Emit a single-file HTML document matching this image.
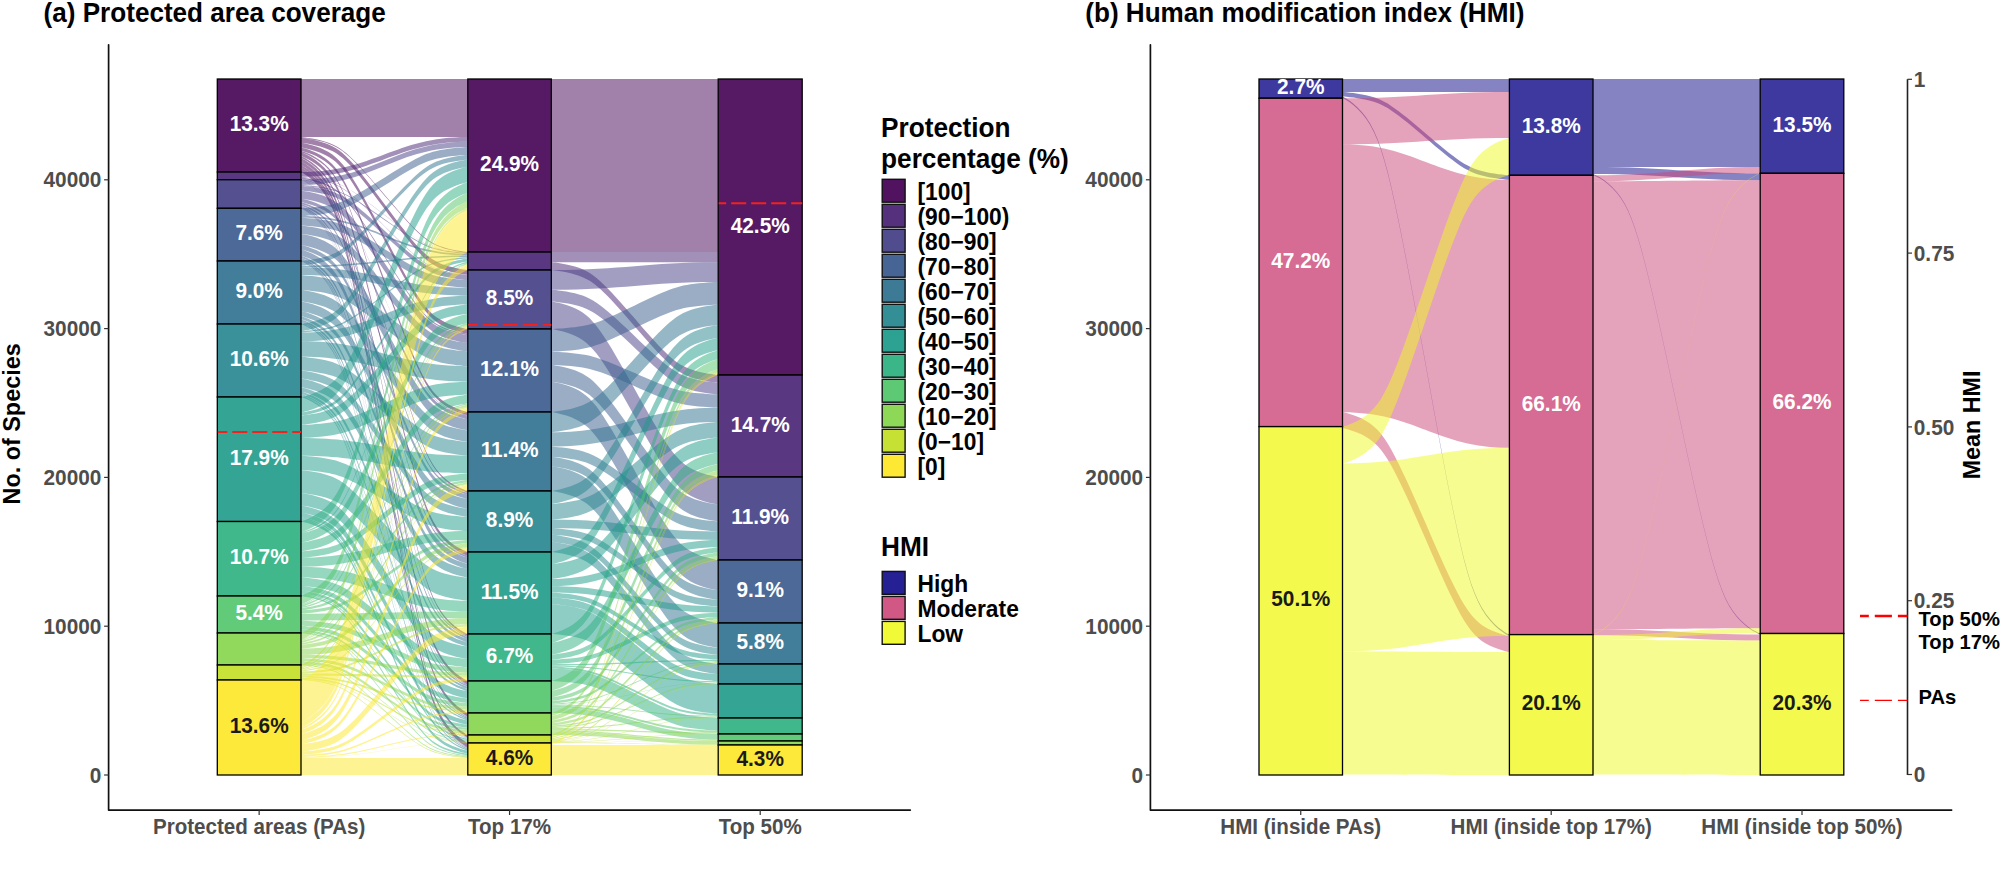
<!DOCTYPE html>
<html><head><meta charset="utf-8"><style>html,body{margin:0;padding:0;background:#fff;width:2000px;height:871px;overflow:hidden}</style></head>
<body>
<svg width="2000" height="871" viewBox="0 0 2000 871" style="display:block;font-family:'Liberation Sans', sans-serif">
<rect width="2000" height="871" fill="#fff"/>
<path d="M301.0,79.00C374.4,79.00 394.4,79.00 467.8,79.00L467.8,137.00C394.4,137.00 374.4,137.00 301.0,137.00Z" fill="#440154" fill-opacity="0.5"/>
<path d="M301.0,137.0 301.1,137.0 301.6,137.1 302.9,137.2 305.1,137.5 308.2,137.9 312.0,138.5 316.1,139.3 320.4,140.3 324.6,141.4 328.5,142.8 332.3,144.3 335.9,146.0 339.3,148.1 342.7,150.4 346.1,153.1 349.6,156.2 353.3,159.7 357.2,163.6 361.2,167.9 365.5,172.7 370.0,177.8 374.7,183.2 379.5,188.8 384.4,194.5 389.3,200.2 394.1,205.8 398.8,211.2 403.3,216.3 407.6,221.1 411.6,225.4 415.5,229.3 419.2,232.8 422.7,235.9 426.1,238.6 429.5,240.9 432.9,243.0 436.5,244.7 440.3,246.2 444.2,247.6 448.4,248.7 452.7,249.7 456.8,250.5 460.6,251.1 463.7,251.5 465.9,251.8 467.2,251.9 467.7,252.0 467.8,252.0 467.8,252.9 467.7,252.9 467.2,252.8 465.9,252.7 463.7,252.4 460.6,252.0 456.8,251.4 452.7,250.6 448.4,249.6 444.2,248.4 440.3,247.1 436.5,245.6 432.9,243.8 429.5,241.8 426.1,239.5 422.7,236.8 419.2,233.7 415.5,230.2 411.6,226.3 407.6,222.0 403.3,217.2 398.8,212.1 394.1,206.7 389.3,201.1 384.4,195.4 379.5,189.7 374.7,184.0 370.0,178.6 365.5,173.5 361.2,168.8 357.2,164.5 353.3,160.5 349.6,157.0 346.1,154.0 342.7,151.3 339.3,148.9 335.9,146.9 332.3,145.2 328.5,143.7 324.6,142.3 320.4,141.2 316.1,140.2 312.0,139.4 308.2,138.8 305.1,138.4 302.9,138.1 301.6,137.9 301.1,137.9 301.0,137.9Z" fill="#440154" fill-opacity="0.5"/>
<path d="M301.0,137.9 301.1,137.9 301.6,137.9 302.9,138.1 305.1,138.4 308.2,138.9 312.0,139.6 316.1,140.6 320.4,141.7 324.6,143.0 328.5,144.5 332.3,146.3 335.9,148.3 339.3,150.6 342.7,153.3 346.1,156.4 349.6,159.9 353.3,163.9 357.2,168.4 361.2,173.4 365.5,178.9 370.0,184.7 374.7,190.9 379.5,197.4 384.4,203.9 389.3,210.5 394.1,217.0 398.8,223.2 403.3,229.0 407.6,234.5 411.6,239.5 415.5,244.0 419.2,248.0 422.7,251.5 426.1,254.6 429.5,257.3 432.9,259.6 436.5,261.6 440.3,263.4 444.2,264.9 448.4,266.2 452.7,267.3 456.8,268.2 460.6,269.0 463.7,269.5 465.9,269.8 467.2,269.9 467.7,270.0 467.8,270.0 467.8,274.9 467.7,274.9 467.2,274.8 465.9,274.6 463.7,274.3 460.6,273.8 456.8,273.1 452.7,272.2 448.4,271.1 444.2,269.8 440.3,268.2 436.5,266.5 432.9,264.5 429.5,262.2 426.1,259.5 422.7,256.4 419.2,252.8 415.5,248.8 411.6,244.3 407.6,239.3 403.3,233.9 398.8,228.0 394.1,221.8 389.3,215.4 384.4,208.8 379.5,202.2 374.7,195.8 370.0,189.6 365.5,183.7 361.2,178.3 357.2,173.3 353.3,168.8 349.6,164.8 346.1,161.2 342.7,158.1 339.3,155.5 335.9,153.1 332.3,151.1 328.5,149.4 324.6,147.9 320.4,146.5 316.1,145.4 312.0,144.5 308.2,143.8 305.1,143.3 302.9,143.0 301.6,142.8 301.1,142.8 301.0,142.8Z" fill="#440154" fill-opacity="0.5"/>
<path d="M301.0,142.8 301.1,142.8 301.6,142.8 302.9,143.1 305.1,143.5 308.2,144.2 312.0,145.2 316.1,146.5 320.4,148.1 324.6,150.0 328.5,152.1 332.3,154.6 335.9,157.4 339.3,160.7 342.7,164.4 346.1,168.8 349.6,173.8 353.3,179.5 357.2,185.8 361.2,192.8 365.5,200.5 370.0,208.8 374.7,217.5 379.5,226.6 384.4,235.9 389.3,245.1 394.1,254.2 398.8,263.0 403.3,271.2 407.6,278.9 411.6,286.0 415.5,292.3 419.2,298.0 422.7,303.0 426.1,307.3 429.5,311.1 432.9,314.4 436.5,317.2 440.3,319.6 444.2,321.8 448.4,323.7 452.7,325.2 456.8,326.5 460.6,327.5 463.7,328.2 465.9,328.7 467.2,328.9 467.7,329.0 467.8,329.0 467.8,333.7 467.7,333.7 467.2,333.6 465.9,333.4 463.7,332.9 460.6,332.2 456.8,331.2 452.7,329.9 448.4,328.4 444.2,326.5 440.3,324.4 436.5,321.9 432.9,319.1 429.5,315.8 426.1,312.0 422.7,307.7 419.2,302.7 415.5,297.0 411.6,290.7 407.6,283.6 403.3,276.0 398.8,267.7 394.1,259.0 389.3,249.9 384.4,240.6 379.5,231.3 374.7,222.2 370.0,213.5 365.5,205.2 361.2,197.5 357.2,190.5 353.3,184.2 349.6,178.5 346.1,173.5 342.7,169.1 339.3,165.4 335.9,162.1 332.3,159.3 328.5,156.8 324.6,154.7 320.4,152.8 316.1,151.2 312.0,149.9 308.2,148.9 305.1,148.2 302.9,147.8 301.6,147.6 301.1,147.5 301.0,147.5Z" fill="#440154" fill-opacity="0.5"/>
<path d="M301.0,147.5 301.1,147.5 301.6,147.6 302.9,147.9 305.1,148.6 308.2,149.6 312.0,151.0 316.1,152.8 320.4,155.1 324.6,157.7 328.5,160.8 332.3,164.2 335.9,168.3 339.3,172.9 342.7,178.3 346.1,184.4 349.6,191.6 353.3,199.6 357.2,208.6 361.2,218.6 365.5,229.5 370.0,241.2 374.7,253.7 379.5,266.6 384.4,279.7 389.3,292.9 394.1,305.8 398.8,318.2 403.3,330.0 407.6,340.9 411.6,350.9 415.5,359.9 419.2,367.9 422.7,375.0 426.1,381.2 429.5,386.6 432.9,391.2 436.5,395.2 440.3,398.7 444.2,401.8 448.4,404.4 452.7,406.6 456.8,408.5 460.6,409.9 463.7,410.9 465.9,411.5 467.2,411.9 467.7,412.0 467.8,412.0 467.8,415.3 467.7,415.3 467.2,415.2 465.9,414.8 463.7,414.2 460.6,413.2 456.8,411.8 452.7,409.9 448.4,407.7 444.2,405.1 440.3,402.0 436.5,398.5 432.9,394.5 429.5,389.9 426.1,384.5 422.7,378.3 419.2,371.2 415.5,363.2 411.6,354.2 407.6,344.2 403.3,333.3 398.8,321.5 394.1,309.1 389.3,296.2 384.4,283.0 379.5,269.9 374.7,257.0 370.0,244.5 365.5,232.8 361.2,221.9 357.2,211.9 353.3,202.9 349.6,194.9 346.1,187.7 342.7,181.6 339.3,176.2 335.9,171.6 332.3,167.5 328.5,164.0 324.6,161.0 320.4,158.4 316.1,156.1 312.0,154.3 308.2,152.9 305.1,151.9 302.9,151.2 301.6,150.9 301.1,150.8 301.0,150.8Z" fill="#440154" fill-opacity="0.5"/>
<path d="M301.0,150.8 301.1,150.8 301.6,150.9 302.9,151.4 305.1,152.2 308.2,153.5 312.0,155.3 316.1,157.7 320.4,160.5 324.6,163.9 328.5,167.8 332.3,172.3 335.9,177.5 339.3,183.5 342.7,190.4 346.1,198.3 349.6,207.5 353.3,217.8 357.2,229.4 361.2,242.2 365.5,256.3 370.0,271.4 374.7,287.3 379.5,303.9 384.4,320.9 389.3,337.8 394.1,354.4 398.8,370.4 403.3,385.5 407.6,399.5 411.6,412.4 415.5,423.9 419.2,434.3 422.7,443.4 426.1,451.4 429.5,458.3 432.9,464.2 436.5,469.4 440.3,473.9 444.2,477.8 448.4,481.2 452.7,484.1 456.8,486.5 460.6,488.3 463.7,489.6 465.9,490.4 467.2,490.8 467.7,491.0 467.8,491.0 467.8,492.7 467.7,492.6 467.2,492.5 465.9,492.1 463.7,491.2 460.6,489.9 456.8,488.1 452.7,485.8 448.4,482.9 444.2,479.5 440.3,475.6 436.5,471.1 432.9,465.9 429.5,459.9 426.1,453.1 422.7,445.1 419.2,435.9 415.5,425.6 411.6,414.0 407.6,401.2 403.3,387.2 398.8,372.1 394.1,356.1 389.3,339.5 384.4,322.5 379.5,305.6 374.7,289.0 370.0,273.0 365.5,257.9 361.2,243.9 357.2,231.1 353.3,219.5 349.6,209.1 346.1,200.0 342.7,192.0 339.3,185.1 335.9,179.2 332.3,174.0 328.5,169.5 324.6,165.6 320.4,162.2 316.1,159.3 312.0,156.9 308.2,155.1 305.1,153.8 302.9,153.0 301.6,152.6 301.1,152.4 301.0,152.4Z" fill="#440154" fill-opacity="0.5"/>
<path d="M301.0,152.4 301.1,152.4 301.6,152.6 302.9,153.1 305.1,154.1 308.2,155.6 312.0,157.7 316.1,160.5 320.4,163.9 324.6,167.9 328.5,172.5 332.3,177.8 335.9,183.8 339.3,190.8 342.7,198.9 346.1,208.3 349.6,219.0 353.3,231.2 357.2,244.8 361.2,259.8 365.5,276.3 370.0,294.1 374.7,312.8 379.5,332.3 384.4,352.2 389.3,372.1 394.1,391.6 398.8,410.4 403.3,428.1 407.6,444.6 411.6,459.6 415.5,473.2 419.2,485.4 422.7,496.1 426.1,505.5 429.5,513.6 432.9,520.6 436.5,526.7 440.3,531.9 444.2,536.5 448.4,540.5 452.7,543.9 456.8,546.7 460.6,548.8 463.7,550.3 465.9,551.3 467.2,551.8 467.7,552.0 467.8,552.0 467.8,555.7 467.7,555.7 467.2,555.5 465.9,555.0 463.7,554.1 460.6,552.6 456.8,550.4 452.7,547.6 448.4,544.3 444.2,540.3 440.3,535.7 436.5,530.4 432.9,524.3 429.5,517.3 426.1,509.2 422.7,499.9 419.2,489.1 415.5,477.0 411.6,463.4 407.6,448.3 403.3,431.8 398.8,414.1 394.1,395.3 389.3,375.8 384.4,355.9 379.5,336.0 374.7,316.5 370.0,297.8 365.5,280.0 361.2,263.6 357.2,248.5 353.3,234.9 349.6,222.7 346.1,212.0 342.7,202.6 339.3,194.6 335.9,187.6 332.3,181.5 328.5,176.2 324.6,171.6 320.4,167.6 316.1,164.2 312.0,161.5 308.2,159.3 305.1,157.8 302.9,156.8 301.6,156.3 301.1,156.2 301.0,156.1Z" fill="#440154" fill-opacity="0.5"/>
<path d="M301.0,156.1 301.1,156.2 301.6,156.4 302.9,157.0 305.1,158.1 308.2,159.9 312.0,162.5 316.1,165.8 320.4,169.9 324.6,174.6 328.5,180.1 332.3,186.5 335.9,193.7 339.3,202.1 342.7,211.8 346.1,222.9 349.6,235.8 353.3,250.3 357.2,266.6 361.2,284.6 365.5,304.3 370.0,325.5 374.7,348.0 379.5,371.3 384.4,395.1 389.3,418.9 394.1,442.2 398.8,464.6 403.3,485.8 407.6,505.5 411.6,523.5 415.5,539.8 419.2,554.4 422.7,567.2 426.1,578.4 429.5,588.1 432.9,596.4 436.5,603.7 440.3,610.0 444.2,615.5 448.4,620.3 452.7,624.3 456.8,627.6 460.6,630.2 463.7,632.0 465.9,633.2 467.2,633.8 467.7,634.0 467.8,634.0 467.8,635.9 467.7,635.8 467.2,635.6 465.9,635.0 463.7,633.9 460.6,632.1 456.8,629.5 452.7,626.2 448.4,622.1 444.2,617.4 440.3,611.9 436.5,605.5 432.9,598.3 429.5,589.9 426.1,580.2 422.7,569.1 419.2,556.2 415.5,541.7 411.6,525.4 407.6,507.4 403.3,487.7 398.8,466.5 394.1,444.0 389.3,420.7 384.4,396.9 379.5,373.1 374.7,349.8 370.0,327.4 365.5,306.2 361.2,286.5 357.2,268.5 353.3,252.2 349.6,237.6 346.1,224.8 342.7,213.6 339.3,203.9 335.9,195.6 332.3,188.3 328.5,182.0 324.6,176.5 320.4,171.7 316.1,167.7 312.0,164.4 308.2,161.8 305.1,160.0 302.9,158.8 301.6,158.2 301.1,158.0 301.0,158.0Z" fill="#440154" fill-opacity="0.5"/>
<path d="M301.0,158.0 301.1,158.0 301.6,158.3 302.9,158.9 305.1,160.2 308.2,162.2 312.0,165.0 316.1,168.6 320.4,173.0 324.6,178.2 328.5,184.3 332.3,191.2 335.9,199.1 339.3,208.3 342.7,218.9 346.1,231.1 349.6,245.2 353.3,261.1 357.2,278.9 361.2,298.6 365.5,320.2 370.0,343.4 374.7,367.9 379.5,393.5 384.4,419.5 389.3,445.5 394.1,471.1 398.8,495.6 403.3,518.8 407.6,540.4 411.6,560.1 415.5,577.9 419.2,593.8 422.7,607.9 426.1,620.1 429.5,630.7 432.9,639.9 436.5,647.8 440.3,654.7 444.2,660.8 448.4,666.0 452.7,670.4 456.8,674.0 460.6,676.8 463.7,678.8 465.9,680.1 467.2,680.7 467.7,681.0 467.8,681.0 467.8,684.5 467.7,684.5 467.2,684.2 465.9,683.6 463.7,682.3 460.6,680.3 456.8,677.5 452.7,673.9 448.4,669.5 444.2,664.3 440.3,658.2 436.5,651.3 432.9,643.4 429.5,634.2 426.1,623.6 422.7,611.4 419.2,597.3 415.5,581.4 411.6,563.6 407.6,543.9 403.3,522.3 398.8,499.1 394.1,474.6 389.3,449.0 384.4,423.0 379.5,397.0 374.7,371.4 370.0,346.9 365.5,323.7 361.2,302.1 357.2,282.4 353.3,264.6 349.6,248.7 346.1,234.6 342.7,222.4 339.3,211.8 335.9,202.6 332.3,194.7 328.5,187.8 324.6,181.7 320.4,176.5 316.1,172.1 312.0,168.5 308.2,165.7 305.1,163.7 302.9,162.4 301.6,161.8 301.1,161.5 301.0,161.5Z" fill="#440154" fill-opacity="0.5"/>
<path d="M301.0,161.5 301.1,161.5 301.6,161.8 302.9,162.5 305.1,163.8 308.2,165.9 312.0,168.8 316.1,172.7 320.4,177.3 324.6,182.8 328.5,189.2 332.3,196.5 335.9,204.9 339.3,214.5 342.7,225.7 346.1,238.6 349.6,253.4 353.3,270.2 357.2,289.0 361.2,309.8 365.5,332.5 370.0,357.0 374.7,382.9 379.5,409.8 384.4,437.2 389.3,464.7 394.1,491.6 398.8,517.5 403.3,542.0 407.6,564.7 411.6,585.5 415.5,604.3 419.2,621.1 422.7,635.9 426.1,648.8 429.5,660.0 432.9,669.6 436.5,678.0 440.3,685.3 444.2,691.7 448.4,697.2 452.7,701.8 456.8,705.7 460.6,708.6 463.7,710.7 465.9,712.0 467.2,712.7 467.7,713.0 467.8,713.0 467.8,716.5 467.7,716.5 467.2,716.2 465.9,715.5 463.7,714.2 460.6,712.1 456.8,709.2 452.7,705.3 448.4,700.7 444.2,695.2 440.3,688.8 436.5,681.5 432.9,673.1 429.5,663.5 426.1,652.3 422.7,639.4 419.2,624.6 415.5,607.8 411.6,589.0 407.6,568.2 403.3,545.5 398.8,521.0 394.1,495.1 389.3,468.2 384.4,440.8 379.5,413.3 374.7,386.4 370.0,360.5 365.5,336.0 361.2,313.3 357.2,292.5 353.3,273.7 349.6,256.9 346.1,242.1 342.7,229.2 339.3,218.0 335.9,208.4 332.3,200.0 328.5,192.7 324.6,186.3 320.4,180.8 316.1,176.2 312.0,172.3 308.2,169.4 305.1,167.3 302.9,166.0 301.6,165.3 301.1,165.0 301.0,165.0Z" fill="#440154" fill-opacity="0.5"/>
<path d="M301.0,165.0 301.1,165.0 301.6,165.3 302.9,166.0 305.1,167.4 308.2,169.5 312.0,172.6 316.1,176.5 320.4,181.4 324.6,187.1 328.5,193.6 332.3,201.2 335.9,209.8 339.3,219.8 342.7,231.3 346.1,244.7 349.6,260.0 353.3,277.3 357.2,296.7 361.2,318.2 365.5,341.7 370.0,367.0 374.7,393.8 379.5,421.6 384.4,450.0 389.3,478.4 394.1,506.2 398.8,533.0 403.3,558.3 407.6,581.8 411.6,603.3 415.5,622.7 419.2,640.0 422.7,655.3 426.1,668.7 429.5,680.2 432.9,690.2 436.5,698.8 440.3,706.4 444.2,712.9 448.4,718.6 452.7,723.5 456.8,727.4 460.6,730.5 463.7,732.6 465.9,734.0 467.2,734.7 467.7,735.0 467.8,735.0 467.8,737.5 467.7,737.5 467.2,737.2 465.9,736.5 463.7,735.1 460.6,733.0 456.8,729.9 452.7,726.0 448.4,721.1 444.2,715.4 440.3,708.9 436.5,701.3 432.9,692.7 429.5,682.7 426.1,671.2 422.7,657.8 419.2,642.5 415.5,625.2 411.6,605.8 407.6,584.3 403.3,560.8 398.8,535.5 394.1,508.7 389.3,480.9 384.4,452.5 379.5,424.1 374.7,396.3 370.0,369.5 365.5,344.2 361.2,320.7 357.2,299.2 353.3,279.8 349.6,262.5 346.1,247.2 342.7,233.8 339.3,222.3 335.9,212.3 332.3,203.7 328.5,196.1 324.6,189.6 320.4,183.9 316.1,179.0 312.0,175.1 308.2,172.0 305.1,169.9 302.9,168.5 301.6,167.8 301.1,167.5 301.0,167.5Z" fill="#440154" fill-opacity="0.5"/>
<path d="M301.0,167.5 301.1,167.5 301.6,167.8 302.9,168.5 305.1,169.9 308.2,172.1 312.0,175.2 316.1,179.2 320.4,184.0 324.6,189.8 328.5,196.4 332.3,204.0 335.9,212.7 339.3,222.8 342.7,234.5 346.1,247.9 349.6,263.4 353.3,280.9 357.2,300.5 361.2,322.2 365.5,346.0 370.0,371.5 374.7,398.5 379.5,426.6 384.4,455.2 389.3,483.9 394.1,512.0 398.8,539.0 403.3,564.5 407.6,588.3 411.6,610.0 415.5,629.6 419.2,647.1 422.7,662.6 426.1,676.0 429.5,687.7 432.9,697.8 436.5,706.5 440.3,714.1 444.2,720.7 448.4,726.5 452.7,731.3 456.8,735.3 460.6,738.4 463.7,740.6 465.9,742.0 467.2,742.7 467.7,743.0 467.8,743.0 467.8,747.5 467.7,747.5 467.2,747.2 465.9,746.5 463.7,745.1 460.6,742.9 456.8,739.8 452.7,735.8 448.4,731.0 444.2,725.2 440.3,718.6 436.5,711.0 432.9,702.3 429.5,692.2 426.1,680.5 422.7,667.1 419.2,651.6 415.5,634.1 411.6,614.5 407.6,592.8 403.3,569.0 398.8,543.5 394.1,516.5 389.3,488.4 384.4,459.8 379.5,431.1 374.7,403.0 370.0,376.0 365.5,350.5 361.2,326.7 357.2,305.0 353.3,285.4 349.6,267.9 346.1,252.4 342.7,239.0 339.3,227.3 335.9,217.2 332.3,208.5 328.5,200.9 324.6,194.3 320.4,188.5 316.1,183.7 312.0,179.7 308.2,176.6 305.1,174.4 302.9,173.0 301.6,172.3 301.1,172.0 301.0,172.0Z" fill="#440154" fill-opacity="0.5"/>
<path d="M301.0,172.00C374.4,172.00 394.4,137.00 467.8,137.00L467.8,141.75C394.4,141.75 374.4,176.75 301.0,176.75Z" fill="#482173" fill-opacity="0.5"/>
<path d="M301.0,176.8 301.1,176.8 301.6,176.8 302.9,176.9 305.1,177.1 308.2,177.4 312.0,177.8 316.1,178.3 320.4,178.9 324.6,179.7 328.5,180.6 332.3,181.6 335.9,182.7 339.3,184.1 342.7,185.6 346.1,187.4 349.6,189.4 353.3,191.8 357.2,194.3 361.2,197.2 365.5,200.4 370.0,203.7 374.7,207.3 379.5,211.0 384.4,214.8 389.3,218.6 394.1,222.3 398.8,225.9 403.3,229.3 407.6,232.4 411.6,235.3 415.5,237.9 419.2,240.2 422.7,242.2 426.1,244.0 429.5,245.6 432.9,246.9 436.5,248.1 440.3,249.1 444.2,249.9 448.4,250.7 452.7,251.3 456.8,251.9 460.6,252.3 463.7,252.6 465.9,252.8 467.2,252.8 467.7,252.9 467.8,252.9 467.8,253.0 467.7,253.0 467.2,253.0 465.9,252.9 463.7,252.7 460.6,252.4 456.8,252.0 452.7,251.5 448.4,250.9 444.2,250.1 440.3,249.2 436.5,248.2 432.9,247.1 429.5,245.7 426.1,244.2 422.7,242.4 419.2,240.4 415.5,238.0 411.6,235.4 407.6,232.6 403.3,229.4 398.8,226.1 394.1,222.5 389.3,218.8 384.4,215.0 379.5,211.2 374.7,207.5 370.0,203.9 365.5,200.5 361.2,197.4 357.2,194.5 353.3,191.9 349.6,189.6 346.1,187.6 342.7,185.8 339.3,184.2 335.9,182.9 332.3,181.7 328.5,180.7 324.6,179.9 320.4,179.1 316.1,178.5 312.0,177.9 308.2,177.5 305.1,177.2 302.9,177.0 301.6,176.9 301.1,176.9 301.0,176.9Z" fill="#482173" fill-opacity="0.5"/>
<path d="M301.0,176.9 301.1,176.9 301.6,177.0 302.9,177.1 305.1,177.3 308.2,177.7 312.0,178.2 316.1,178.9 320.4,179.7 324.6,180.7 328.5,181.8 332.3,183.1 335.9,184.6 339.3,186.3 342.7,188.3 346.1,190.6 349.6,193.2 353.3,196.2 357.2,199.6 361.2,203.2 365.5,207.3 370.0,211.6 374.7,216.2 379.5,221.0 384.4,225.9 389.3,230.8 394.1,235.5 398.8,240.1 403.3,244.5 407.6,248.5 411.6,252.2 415.5,255.6 419.2,258.5 422.7,261.2 426.1,263.5 429.5,265.5 432.9,267.2 436.5,268.7 440.3,269.9 444.2,271.1 448.4,272.1 452.7,272.9 456.8,273.6 460.6,274.1 463.7,274.5 465.9,274.7 467.2,274.8 467.7,274.9 467.8,274.9 467.8,275.3 467.7,275.3 467.2,275.2 465.9,275.1 463.7,274.9 460.6,274.5 456.8,274.0 452.7,273.3 448.4,272.5 444.2,271.5 440.3,270.4 436.5,269.1 432.9,267.6 429.5,265.9 426.1,263.9 422.7,261.6 419.2,259.0 415.5,256.0 411.6,252.6 407.6,248.9 403.3,244.9 398.8,240.6 394.1,236.0 389.3,231.2 384.4,226.3 379.5,221.4 374.7,216.6 370.0,212.0 365.5,207.7 361.2,203.7 357.2,200.0 353.3,196.6 349.6,193.6 346.1,191.0 342.7,188.7 339.3,186.7 335.9,185.0 332.3,183.5 328.5,182.2 324.6,181.1 320.4,180.1 316.1,179.3 312.0,178.6 308.2,178.1 305.1,177.7 302.9,177.5 301.6,177.4 301.1,177.3 301.0,177.3Z" fill="#482173" fill-opacity="0.5"/>
<path d="M301.0,177.3 301.1,177.3 301.6,177.4 302.9,177.6 305.1,178.0 308.2,178.6 312.0,179.4 316.1,180.5 320.4,181.8 324.6,183.4 328.5,185.2 332.3,187.2 335.9,189.6 339.3,192.4 342.7,195.5 346.1,199.2 349.6,203.4 353.3,208.1 357.2,213.5 361.2,219.4 365.5,225.8 370.0,232.8 374.7,240.1 379.5,247.7 384.4,255.5 389.3,263.3 394.1,270.9 398.8,278.3 403.3,285.2 407.6,291.7 411.6,297.6 415.5,302.9 419.2,307.7 422.7,311.9 426.1,315.5 429.5,318.7 432.9,321.4 436.5,323.8 440.3,325.9 444.2,327.7 448.4,329.2 452.7,330.6 456.8,331.6 460.6,332.5 463.7,333.1 465.9,333.4 467.2,333.6 467.7,333.7 467.8,333.7 467.8,335.0 467.7,335.0 467.2,334.9 465.9,334.7 463.7,334.3 460.6,333.8 456.8,332.9 452.7,331.8 448.4,330.5 444.2,328.9 440.3,327.1 436.5,325.1 432.9,322.7 429.5,320.0 426.1,316.8 422.7,313.1 419.2,308.9 415.5,304.2 411.6,298.8 407.6,292.9 403.3,286.5 398.8,279.6 394.1,272.2 389.3,264.6 384.4,256.8 379.5,249.0 374.7,241.4 370.0,234.0 365.5,227.1 361.2,220.6 357.2,214.7 353.3,209.4 349.6,204.7 346.1,200.5 342.7,196.8 339.3,193.6 335.9,190.9 332.3,188.5 328.5,186.5 324.6,184.6 320.4,183.1 316.1,181.8 312.0,180.7 308.2,179.8 305.1,179.2 302.9,178.9 301.6,178.7 301.1,178.6 301.0,178.6Z" fill="#482173" fill-opacity="0.5"/>
<path d="M301.0,178.6 301.1,178.6 301.6,178.7 302.9,179.0 305.1,179.6 308.2,180.5 312.0,181.7 316.1,183.4 320.4,185.4 324.6,187.8 328.5,190.5 332.3,193.6 335.9,197.2 339.3,201.4 342.7,206.1 346.1,211.7 349.6,218.0 353.3,225.2 357.2,233.3 361.2,242.2 365.5,252.0 370.0,262.5 374.7,273.6 379.5,285.2 384.4,296.9 389.3,308.7 394.1,320.3 398.8,331.4 403.3,341.9 407.6,351.7 411.6,360.6 415.5,368.6 419.2,375.8 422.7,382.2 426.1,387.8 429.5,392.5 432.9,396.7 436.5,400.3 440.3,403.4 444.2,406.1 448.4,408.5 452.7,410.5 456.8,412.1 460.6,413.4 463.7,414.3 465.9,414.9 467.2,415.2 467.7,415.3 467.8,415.3 467.8,415.7 467.7,415.7 467.2,415.6 465.9,415.3 463.7,414.7 460.6,413.8 456.8,412.6 452.7,410.9 448.4,408.9 444.2,406.5 440.3,403.8 436.5,400.7 432.9,397.1 429.5,392.9 426.1,388.2 422.7,382.6 419.2,376.3 415.5,369.1 411.6,361.0 407.6,352.1 403.3,342.3 398.8,331.8 394.1,320.7 389.3,309.1 384.4,297.4 379.5,285.6 374.7,274.0 370.0,262.9 365.5,252.4 361.2,242.6 357.2,233.7 353.3,225.7 349.6,218.5 346.1,212.1 342.7,206.5 339.3,201.8 335.9,197.6 332.3,194.0 328.5,190.9 324.6,188.2 320.4,185.8 316.1,183.8 312.0,182.2 308.2,180.9 305.1,180.0 302.9,179.4 301.6,179.1 301.1,179.0 301.0,179.0Z" fill="#482173" fill-opacity="0.5"/>
<path d="M301.0,179.0 301.1,179.0 301.6,179.2 302.9,179.6 305.1,180.3 308.2,181.5 312.0,183.2 316.1,185.4 320.4,188.0 324.6,191.1 328.5,194.8 332.3,198.9 335.9,203.7 339.3,209.2 342.7,215.5 346.1,222.8 349.6,231.3 353.3,240.8 357.2,251.5 361.2,263.3 365.5,276.3 370.0,290.2 374.7,304.9 379.5,320.2 384.4,335.8 389.3,351.4 394.1,366.7 398.8,381.5 403.3,395.4 407.6,408.3 411.6,420.2 415.5,430.8 419.2,440.4 422.7,448.8 426.1,456.2 429.5,462.5 432.9,468.0 436.5,472.8 440.3,476.9 444.2,480.5 448.4,483.6 452.7,486.3 456.8,488.5 460.6,490.2 463.7,491.4 465.9,492.1 467.2,492.5 467.7,492.6 467.8,492.7 467.8,492.9 467.7,492.9 467.2,492.7 465.9,492.3 463.7,491.6 460.6,490.4 456.8,488.7 452.7,486.5 448.4,483.9 444.2,480.7 440.3,477.1 436.5,473.0 432.9,468.2 429.5,462.7 426.1,456.4 422.7,449.0 419.2,440.6 415.5,431.1 411.6,420.4 407.6,408.5 403.3,395.6 398.8,381.7 394.1,367.0 389.3,351.7 384.4,336.1 379.5,320.4 374.7,305.1 370.0,290.4 365.5,276.5 361.2,263.6 357.2,251.7 353.3,241.0 349.6,231.5 346.1,223.1 342.7,215.7 339.3,209.4 335.9,203.9 332.3,199.1 328.5,195.0 324.6,191.4 320.4,188.2 316.1,185.6 312.0,183.4 308.2,181.7 305.1,180.5 302.9,179.8 301.6,179.4 301.1,179.2 301.0,179.2Z" fill="#482173" fill-opacity="0.5"/>
<path d="M301.0,179.2 301.1,179.3 301.6,179.4 302.9,179.9 305.1,180.8 308.2,182.2 312.0,184.2 316.1,186.9 320.4,190.0 324.6,193.8 328.5,198.1 332.3,203.1 335.9,208.8 339.3,215.4 342.7,223.0 346.1,231.9 349.6,242.0 353.3,253.4 357.2,266.3 361.2,280.5 365.5,296.0 370.0,312.7 374.7,330.4 379.5,348.7 384.4,367.5 389.3,386.2 394.1,404.6 398.8,422.3 403.3,439.0 407.6,454.5 411.6,468.7 415.5,481.5 419.2,493.0 422.7,503.1 426.1,511.9 429.5,519.5 432.9,526.1 436.5,531.8 440.3,536.8 444.2,541.2 448.4,544.9 452.7,548.1 456.8,550.7 460.6,552.7 463.7,554.2 465.9,555.1 467.2,555.5 467.7,555.7 467.8,555.7 467.8,555.9 467.7,555.9 467.2,555.8 465.9,555.3 463.7,554.4 460.6,553.0 456.8,550.9 452.7,548.3 448.4,545.1 444.2,541.4 440.3,537.0 436.5,532.1 432.9,526.3 429.5,519.7 426.1,512.1 422.7,503.3 419.2,493.2 415.5,481.7 411.6,468.9 407.6,454.7 403.3,439.2 398.8,422.5 394.1,404.8 389.3,386.4 384.4,367.7 379.5,349.0 374.7,330.6 370.0,312.9 365.5,296.2 361.2,280.7 357.2,266.5 353.3,253.6 349.6,242.2 346.1,232.1 342.7,223.3 339.3,215.6 335.9,209.0 332.3,203.3 328.5,198.3 324.6,194.0 320.4,190.3 316.1,187.1 312.0,184.5 308.2,182.4 305.1,181.0 302.9,180.1 301.6,179.6 301.1,179.5 301.0,179.4Z" fill="#482173" fill-opacity="0.5"/>
<path d="M301.0,179.4 301.1,179.5 301.6,179.7 302.9,180.2 305.1,181.3 308.2,183.1 312.0,185.5 316.1,188.7 320.4,192.5 324.6,197.1 328.5,202.4 332.3,208.4 335.9,215.3 339.3,223.3 342.7,232.6 346.1,243.2 349.6,255.5 353.3,269.4 357.2,284.9 361.2,302.2 365.5,321.0 370.0,341.2 374.7,362.7 379.5,384.9 384.4,407.6 389.3,430.4 394.1,452.6 398.8,474.1 403.3,494.3 407.6,513.1 411.6,530.4 415.5,545.9 419.2,559.8 422.7,572.1 426.1,582.7 429.5,592.0 432.9,600.0 436.5,606.9 440.3,612.9 444.2,618.2 448.4,622.7 452.7,626.6 456.8,629.8 460.6,632.2 463.7,634.0 465.9,635.1 467.2,635.6 467.7,635.8 467.8,635.9 467.8,636.0 467.7,636.0 467.2,635.8 465.9,635.2 463.7,634.1 460.6,632.4 456.8,629.9 452.7,626.8 448.4,622.9 444.2,618.3 440.3,613.1 436.5,607.0 432.9,600.1 429.5,592.1 426.1,582.9 422.7,572.2 419.2,559.9 415.5,546.0 411.6,530.5 407.6,513.3 403.3,494.5 398.8,474.2 394.1,452.8 389.3,430.5 384.4,407.8 379.5,385.1 374.7,362.8 370.0,341.4 365.5,321.1 361.2,302.3 357.2,285.1 353.3,269.5 349.6,255.7 346.1,243.4 342.7,232.7 339.3,223.5 335.9,215.5 332.3,208.5 328.5,202.5 324.6,197.2 320.4,192.7 316.1,188.8 312.0,185.7 308.2,183.2 305.1,181.5 302.9,180.4 301.6,179.8 301.1,179.6 301.0,179.6Z" fill="#482173" fill-opacity="0.5"/>
<path d="M301.0,179.6 301.1,179.6 301.6,179.8 302.9,180.5 305.1,181.7 308.2,183.6 312.0,186.3 316.1,189.8 320.4,194.1 324.6,199.1 328.5,204.9 332.3,211.6 335.9,219.3 339.3,228.1 342.7,238.3 346.1,250.2 349.6,263.7 353.3,279.1 357.2,296.3 361.2,315.3 365.5,336.2 370.0,358.6 374.7,382.3 379.5,406.9 384.4,432.0 389.3,457.2 394.1,481.8 398.8,505.5 403.3,527.9 407.6,548.7 411.6,567.8 415.5,585.0 419.2,600.3 422.7,613.9 426.1,625.7 429.5,636.0 432.9,644.8 436.5,652.5 440.3,659.1 444.2,665.0 448.4,670.0 452.7,674.3 456.8,677.8 460.6,680.5 463.7,682.4 465.9,683.6 467.2,684.2 467.7,684.5 467.8,684.5 467.8,684.6 467.7,684.5 467.2,684.3 465.9,683.7 463.7,682.5 460.6,680.6 456.8,677.8 452.7,674.3 448.4,670.1 444.2,665.0 440.3,659.2 436.5,652.5 432.9,644.9 429.5,636.0 426.1,625.8 422.7,614.0 419.2,600.4 415.5,585.1 411.6,567.9 407.6,548.8 403.3,528.0 398.8,505.6 394.1,481.9 389.3,457.2 384.4,432.1 379.5,407.0 374.7,382.3 370.0,358.6 365.5,336.2 361.2,315.4 357.2,296.4 353.3,279.2 349.6,263.8 346.1,250.2 342.7,238.4 339.3,228.2 335.9,219.3 332.3,211.7 328.5,205.0 324.6,199.2 320.4,194.1 316.1,189.9 312.0,186.4 308.2,183.7 305.1,181.7 302.9,180.5 301.6,179.9 301.1,179.7 301.0,179.7Z" fill="#482173" fill-opacity="0.5"/>
<path d="M301.0,179.7 301.1,179.7 301.6,179.9 302.9,180.6 305.1,181.9 308.2,183.9 312.0,186.8 316.1,190.5 320.4,195.1 324.6,200.4 328.5,206.6 332.3,213.7 335.9,221.9 339.3,231.3 342.7,242.1 346.1,254.7 349.6,269.1 353.3,285.5 357.2,303.7 361.2,324.0 365.5,346.1 370.0,369.9 374.7,395.2 379.5,421.4 384.4,448.1 389.3,474.8 394.1,501.0 398.8,526.2 403.3,550.0 407.6,572.2 411.6,592.4 415.5,610.7 419.2,627.0 422.7,641.5 426.1,654.0 429.5,664.9 432.9,674.3 436.5,682.4 440.3,689.5 444.2,695.7 448.4,701.1 452.7,705.6 456.8,709.4 460.6,712.2 463.7,714.3 465.9,715.6 467.2,716.2 467.7,716.5 467.8,716.5 467.8,716.5 467.7,716.5 467.2,716.3 465.9,715.6 463.7,714.3 460.6,712.3 456.8,709.4 452.7,705.7 448.4,701.1 444.2,695.8 440.3,689.6 436.5,682.5 432.9,674.3 429.5,664.9 426.1,654.1 422.7,641.5 419.2,627.1 415.5,610.7 411.6,592.4 407.6,572.2 403.3,550.1 398.8,526.2 394.1,501.0 389.3,474.8 384.4,448.1 379.5,421.4 374.7,395.2 370.0,370.0 365.5,346.1 361.2,324.0 357.2,303.8 353.3,285.5 349.6,269.2 346.1,254.7 342.7,242.2 339.3,231.3 335.9,221.9 332.3,213.7 328.5,206.6 324.6,200.4 320.4,195.1 316.1,190.6 312.0,186.8 308.2,183.9 305.1,181.9 302.9,180.6 301.6,180.0 301.1,179.7 301.0,179.7Z" fill="#482173" fill-opacity="0.5"/>
<path d="M301.0,179.7 301.1,179.7 301.6,180.0 302.9,180.7 305.1,182.0 308.2,184.1 312.0,187.1 316.1,191.0 320.4,195.7 324.6,201.3 328.5,207.7 332.3,215.1 335.9,223.5 339.3,233.3 342.7,244.6 346.1,257.7 349.6,272.6 353.3,289.6 357.2,308.6 361.2,329.7 365.5,352.7 370.0,377.4 374.7,403.6 379.5,430.8 384.4,458.6 389.3,486.4 394.1,513.6 398.8,539.8 403.3,564.5 407.6,587.5 411.6,608.6 415.5,627.6 419.2,644.5 422.7,659.5 426.1,672.6 429.5,683.9 432.9,693.6 436.5,702.1 440.3,709.5 444.2,715.9 448.4,721.5 452.7,726.2 456.8,730.1 460.6,733.1 463.7,735.2 465.9,736.5 467.2,737.2 467.7,737.5 467.8,737.5 467.8,737.5 467.7,737.5 467.2,737.2 465.9,736.5 463.7,735.2 460.6,733.1 456.8,730.1 452.7,726.2 448.4,721.5 444.2,715.9 440.3,709.5 436.5,702.1 432.9,693.7 429.5,683.9 426.1,672.6 422.7,659.5 419.2,644.5 415.5,627.6 411.6,608.6 407.6,587.5 403.3,564.5 398.8,539.8 394.1,513.6 389.3,486.4 384.4,458.6 379.5,430.8 374.7,403.6 370.0,377.4 365.5,352.7 361.2,329.7 357.2,308.6 353.3,289.6 349.6,272.7 346.1,257.7 342.7,244.6 339.3,233.3 335.9,223.5 332.3,215.1 328.5,207.7 324.6,201.3 320.4,195.7 316.1,191.0 312.0,187.1 308.2,184.1 305.1,182.0 302.9,180.7 301.6,180.0 301.1,179.7 301.0,179.7Z" fill="#482173" fill-opacity="0.5"/>
<path d="M301.0,179.7 301.1,179.7 301.6,180.0 302.9,180.7 305.1,182.0 308.2,184.2 312.0,187.2 316.1,191.2 320.4,196.0 324.6,201.7 328.5,208.2 332.3,215.7 335.9,224.3 339.3,234.3 342.7,245.8 346.1,259.1 349.6,274.3 353.3,291.6 357.2,310.9 361.2,332.4 365.5,355.8 370.0,381.0 374.7,407.6 379.5,435.3 384.4,463.6 389.3,491.9 394.1,519.6 398.8,546.2 403.3,571.4 407.6,594.8 411.6,616.3 415.5,635.6 419.2,652.9 422.7,668.1 426.1,681.4 429.5,692.9 432.9,702.9 436.5,711.5 440.3,719.0 444.2,725.5 448.4,731.2 452.7,736.0 456.8,739.9 460.6,743.0 463.7,745.2 465.9,746.5 467.2,747.2 467.7,747.5 467.8,747.5 467.8,747.5 467.7,747.5 467.2,747.2 465.9,746.5 463.7,745.2 460.6,743.0 456.8,740.0 452.7,736.0 448.4,731.2 444.2,725.5 440.3,719.0 436.5,711.5 432.9,702.9 429.5,692.9 426.1,681.4 422.7,668.1 419.2,652.9 415.5,635.6 411.6,616.3 407.6,594.8 403.3,571.4 398.8,546.2 394.1,519.6 389.3,491.9 384.4,463.6 379.5,435.3 374.7,407.6 370.0,381.0 365.5,355.8 361.2,332.4 357.2,310.9 353.3,291.6 349.6,274.3 346.1,259.1 342.7,245.8 339.3,234.3 335.9,224.3 332.3,215.7 328.5,208.2 324.6,201.7 320.4,196.0 316.1,191.2 312.0,187.3 308.2,184.2 305.1,182.0 302.9,180.7 301.6,180.0 301.1,179.7 301.0,179.7Z" fill="#482173" fill-opacity="0.5"/>
<path d="M301.0,179.70C374.4,179.70 394.4,141.75 467.8,141.75L467.8,147.02C394.4,147.02 374.4,184.97 301.0,184.97Z" fill="#433E85" fill-opacity="0.5"/>
<path d="M301.0,185.0 301.1,185.0 301.6,185.0 302.9,185.1 305.1,185.2 308.2,185.5 312.0,185.9 316.1,186.3 320.4,186.9 324.6,187.6 328.5,188.4 332.3,189.3 335.9,190.3 339.3,191.5 342.7,192.9 346.1,194.5 349.6,196.3 353.3,198.4 357.2,200.7 361.2,203.3 365.5,206.1 370.0,209.1 374.7,212.3 379.5,215.6 384.4,219.0 389.3,222.4 394.1,225.7 398.8,228.9 403.3,231.9 407.6,234.7 411.6,237.3 415.5,239.6 419.2,241.7 422.7,243.5 426.1,245.1 429.5,246.5 432.9,247.7 436.5,248.7 440.3,249.6 444.2,250.4 448.4,251.1 452.7,251.7 456.8,252.1 460.6,252.5 463.7,252.8 465.9,252.9 467.2,253.0 467.7,253.0 467.8,253.0 467.8,253.9 467.7,253.9 467.2,253.9 465.9,253.8 463.7,253.6 460.6,253.4 456.8,253.0 452.7,252.5 448.4,252.0 444.2,251.3 440.3,250.5 436.5,249.6 432.9,248.6 429.5,247.4 426.1,246.0 422.7,244.4 419.2,242.6 415.5,240.5 411.6,238.2 407.6,235.6 403.3,232.8 398.8,229.8 394.1,226.6 389.3,223.3 384.4,219.9 379.5,216.5 374.7,213.2 370.0,210.0 365.5,206.9 361.2,204.1 357.2,201.6 353.3,199.2 349.6,197.2 346.1,195.3 342.7,193.8 339.3,192.4 335.9,191.2 332.3,190.2 328.5,189.3 324.6,188.5 320.4,187.8 316.1,187.2 312.0,186.7 308.2,186.4 305.1,186.1 302.9,186.0 301.6,185.9 301.1,185.8 301.0,185.8Z" fill="#433E85" fill-opacity="0.5"/>
<path d="M301.0,185.8 301.1,185.8 301.6,185.9 302.9,186.0 305.1,186.2 308.2,186.5 312.0,187.0 316.1,187.6 320.4,188.4 324.6,189.3 328.5,190.3 332.3,191.5 335.9,192.9 339.3,194.4 342.7,196.2 346.1,198.3 349.6,200.7 353.3,203.5 357.2,206.5 361.2,209.9 365.5,213.6 370.0,217.5 374.7,221.7 379.5,226.1 384.4,230.6 389.3,235.0 394.1,239.4 398.8,243.6 403.3,247.5 407.6,251.2 411.6,254.6 415.5,257.7 419.2,260.4 422.7,262.8 426.1,264.9 429.5,266.7 432.9,268.2 436.5,269.6 440.3,270.8 444.2,271.8 448.4,272.7 452.7,273.5 456.8,274.1 460.6,274.6 463.7,274.9 465.9,275.1 467.2,275.2 467.7,275.3 467.8,275.3 467.8,280.1 467.7,280.0 467.2,280.0 465.9,279.9 463.7,279.7 460.6,279.3 456.8,278.9 452.7,278.2 448.4,277.5 444.2,276.6 440.3,275.6 436.5,274.4 432.9,273.0 429.5,271.5 426.1,269.6 422.7,267.5 419.2,265.1 415.5,262.4 411.6,259.4 407.6,256.0 403.3,252.3 398.8,248.3 394.1,244.1 389.3,239.8 384.4,235.3 379.5,230.9 374.7,226.5 370.0,222.3 365.5,218.3 361.2,214.7 357.2,211.3 353.3,208.2 349.6,205.5 346.1,203.1 342.7,201.0 339.3,199.2 335.9,197.6 332.3,196.3 328.5,195.1 324.6,194.1 320.4,193.2 316.1,192.4 312.0,191.8 308.2,191.3 305.1,191.0 302.9,190.8 301.6,190.7 301.1,190.6 301.0,190.6Z" fill="#433E85" fill-opacity="0.5"/>
<path d="M301.0,190.6 301.1,190.6 301.6,190.7 302.9,190.9 305.1,191.2 308.2,191.8 312.0,192.5 316.1,193.5 320.4,194.8 324.6,196.2 328.5,197.9 332.3,199.8 335.9,202.0 339.3,204.5 342.7,207.4 346.1,210.8 349.6,214.7 353.3,219.1 357.2,224.0 361.2,229.4 365.5,235.4 370.0,241.8 374.7,248.6 379.5,255.6 384.4,262.8 389.3,270.0 394.1,277.0 398.8,283.8 403.3,290.2 407.6,296.2 411.6,301.6 415.5,306.5 419.2,310.9 422.7,314.8 426.1,318.2 429.5,321.1 432.9,323.6 436.5,325.8 440.3,327.7 444.2,329.4 448.4,330.8 452.7,332.1 456.8,333.1 460.6,333.8 463.7,334.4 465.9,334.7 467.2,334.9 467.7,335.0 467.8,335.0 467.8,343.0 467.7,343.0 467.2,342.9 465.9,342.8 463.7,342.4 460.6,341.9 456.8,341.1 452.7,340.1 448.4,338.9 444.2,337.4 440.3,335.8 436.5,333.9 432.9,331.7 429.5,329.1 426.1,326.2 422.7,322.8 419.2,318.9 415.5,314.6 411.6,309.6 407.6,304.2 403.3,298.2 398.8,291.8 394.1,285.0 389.3,278.0 384.4,270.8 379.5,263.6 374.7,256.6 370.0,249.8 365.5,243.4 361.2,237.4 357.2,232.0 353.3,227.1 349.6,222.7 346.1,218.8 342.7,215.4 339.3,212.5 335.9,210.0 332.3,207.8 328.5,205.9 324.6,204.2 320.4,202.8 316.1,201.5 312.0,200.5 308.2,199.8 305.1,199.2 302.9,198.9 301.6,198.7 301.1,198.6 301.0,198.6Z" fill="#433E85" fill-opacity="0.5"/>
<path d="M301.0,198.6 301.1,198.6 301.6,198.7 302.9,199.0 305.1,199.5 308.2,200.3 312.0,201.5 316.1,203.0 320.4,204.9 324.6,207.0 328.5,209.5 332.3,212.4 335.9,215.7 339.3,219.5 342.7,223.9 346.1,229.0 349.6,234.8 353.3,241.4 357.2,248.8 361.2,257.0 365.5,265.9 370.0,275.6 374.7,285.8 379.5,296.4 384.4,307.2 389.3,318.0 394.1,328.6 398.8,338.8 403.3,348.4 407.6,357.3 411.6,365.5 415.5,372.9 419.2,379.5 422.7,385.4 426.1,390.4 429.5,394.8 432.9,398.6 436.5,401.9 440.3,404.8 444.2,407.3 448.4,409.5 452.7,411.3 456.8,412.8 460.6,414.0 463.7,414.8 465.9,415.3 467.2,415.6 467.7,415.7 467.8,415.7 467.8,419.2 467.7,419.2 467.2,419.1 465.9,418.9 463.7,418.3 460.6,417.5 456.8,416.3 452.7,414.8 448.4,413.0 444.2,410.8 440.3,408.3 436.5,405.5 432.9,402.2 429.5,398.4 426.1,394.0 422.7,388.9 419.2,383.0 415.5,376.4 411.6,369.1 407.6,360.9 403.3,351.9 398.8,342.3 394.1,332.1 389.3,321.5 384.4,310.7 379.5,299.9 374.7,289.3 370.0,279.1 365.5,269.5 361.2,260.5 357.2,252.3 353.3,244.9 349.6,238.3 346.1,232.5 342.7,227.4 339.3,223.0 335.9,219.2 332.3,215.9 328.5,213.0 324.6,210.5 320.4,208.4 316.1,206.5 312.0,205.0 308.2,203.9 305.1,203.0 302.9,202.5 301.6,202.3 301.1,202.2 301.0,202.1Z" fill="#433E85" fill-opacity="0.5"/>
<path d="M301.0,202.1 301.1,202.2 301.6,202.3 302.9,202.7 305.1,203.3 308.2,204.5 312.0,206.0 316.1,208.0 320.4,210.5 324.6,213.4 328.5,216.7 332.3,220.6 335.9,225.0 339.3,230.1 342.7,236.0 346.1,242.8 349.6,250.6 353.3,259.4 357.2,269.3 361.2,280.3 365.5,292.3 370.0,305.2 374.7,318.9 379.5,333.0 384.4,347.5 389.3,362.0 394.1,376.2 398.8,389.8 403.3,402.7 407.6,414.7 411.6,425.7 415.5,435.6 419.2,444.4 422.7,452.2 426.1,459.0 429.5,464.9 432.9,470.0 436.5,474.4 440.3,478.3 444.2,481.6 448.4,484.5 452.7,487.0 456.8,489.0 460.6,490.6 463.7,491.7 465.9,492.4 467.2,492.7 467.7,492.9 467.8,492.9 467.8,494.7 467.7,494.7 467.2,494.6 465.9,494.2 463.7,493.5 460.6,492.4 456.8,490.8 452.7,488.8 448.4,486.4 444.2,483.5 440.3,480.1 436.5,476.3 432.9,471.9 429.5,466.8 426.1,460.9 422.7,454.1 419.2,446.3 415.5,437.4 411.6,427.5 407.6,416.5 403.3,404.6 398.8,391.7 394.1,378.0 389.3,363.8 384.4,349.3 379.5,334.9 374.7,320.7 370.0,307.0 365.5,294.1 361.2,282.1 357.2,271.2 353.3,261.3 349.6,252.4 346.1,244.6 342.7,237.8 339.3,231.9 335.9,226.8 332.3,222.4 328.5,218.6 324.6,215.2 320.4,212.3 316.1,209.9 312.0,207.9 308.2,206.3 305.1,205.2 302.9,204.5 301.6,204.1 301.1,204.0 301.0,204.0Z" fill="#433E85" fill-opacity="0.5"/>
<path d="M301.0,204.0 301.1,204.0 301.6,204.2 302.9,204.6 305.1,205.4 308.2,206.8 312.0,208.7 316.1,211.1 320.4,214.1 324.6,217.6 328.5,221.7 332.3,226.3 335.9,231.7 339.3,237.8 342.7,244.9 346.1,253.2 349.6,262.6 353.3,273.3 357.2,285.3 361.2,298.6 365.5,313.1 370.0,328.7 374.7,345.3 379.5,362.4 384.4,380.0 389.3,397.5 394.1,414.7 398.8,431.2 403.3,446.8 407.6,461.3 411.6,474.6 415.5,486.6 419.2,497.3 422.7,506.7 426.1,515.0 429.5,522.1 432.9,528.3 436.5,533.6 440.3,538.3 444.2,542.3 448.4,545.8 452.7,548.8 456.8,551.3 460.6,553.1 463.7,554.5 465.9,555.3 467.2,555.8 467.7,555.9 467.8,555.9 467.8,557.7 467.7,557.6 467.2,557.5 465.9,557.1 463.7,556.2 460.6,554.9 456.8,553.0 452.7,550.5 448.4,547.6 444.2,544.0 440.3,540.0 436.5,535.3 432.9,530.0 429.5,523.8 426.1,516.7 422.7,508.5 419.2,499.0 415.5,488.3 411.6,476.3 407.6,463.0 403.3,448.5 398.8,432.9 394.1,416.4 389.3,399.2 384.4,381.7 379.5,364.2 374.7,347.0 370.0,330.5 365.5,314.8 361.2,300.3 357.2,287.1 353.3,275.1 349.6,264.4 346.1,254.9 342.7,246.7 339.3,239.5 335.9,233.4 332.3,228.0 328.5,223.4 324.6,219.3 320.4,215.8 316.1,212.8 312.0,210.4 308.2,208.5 305.1,207.2 302.9,206.3 301.6,205.9 301.1,205.7 301.0,205.7Z" fill="#433E85" fill-opacity="0.5"/>
<path d="M301.0,205.7 301.1,205.7 301.6,205.9 302.9,206.5 305.1,207.5 308.2,209.1 312.0,211.4 316.1,214.4 320.4,218.1 324.6,222.3 328.5,227.3 332.3,233.0 335.9,239.5 339.3,247.1 342.7,255.8 346.1,265.9 349.6,277.4 353.3,290.5 357.2,305.2 361.2,321.4 365.5,339.1 370.0,358.2 374.7,378.4 379.5,399.4 384.4,420.9 389.3,442.3 394.1,463.3 398.8,483.5 403.3,502.6 407.6,520.3 411.6,536.5 415.5,551.2 419.2,564.3 422.7,575.9 426.1,585.9 429.5,594.6 432.9,602.2 436.5,608.7 440.3,614.4 444.2,619.4 448.4,623.6 452.7,627.3 456.8,630.3 460.6,632.6 463.7,634.2 465.9,635.3 467.2,635.8 467.7,636.0 467.8,636.0 467.8,637.0 467.7,637.0 467.2,636.8 465.9,636.3 463.7,635.3 460.6,633.6 456.8,631.3 452.7,628.3 448.4,624.7 444.2,620.4 440.3,615.4 436.5,609.7 432.9,603.2 429.5,595.7 426.1,587.0 422.7,576.9 419.2,565.3 415.5,552.2 411.6,537.6 407.6,521.4 403.3,503.6 398.8,484.5 394.1,464.3 389.3,443.3 384.4,421.9 379.5,400.5 374.7,379.5 370.0,359.3 365.5,340.2 361.2,322.4 357.2,306.2 353.3,291.5 349.6,278.5 346.1,266.9 342.7,256.8 339.3,248.1 335.9,240.6 332.3,234.0 328.5,228.3 324.6,223.4 320.4,219.1 316.1,215.5 312.0,212.5 308.2,210.2 305.1,208.5 302.9,207.5 301.6,207.0 301.1,206.8 301.0,206.7Z" fill="#433E85" fill-opacity="0.5"/>
<path d="M301.0,206.7 301.1,206.8 301.6,207.0 302.9,207.6 305.1,208.7 308.2,210.5 312.0,213.1 316.1,216.4 320.4,220.5 324.6,225.2 328.5,230.7 332.3,237.1 335.9,244.3 339.3,252.7 342.7,262.3 346.1,273.5 349.6,286.4 353.3,300.9 357.2,317.2 361.2,335.2 365.5,354.9 370.0,376.1 374.7,398.5 379.5,421.9 384.4,445.7 389.3,469.4 394.1,492.8 398.8,515.2 403.3,536.4 407.6,556.1 411.6,574.1 415.5,590.4 419.2,604.9 422.7,617.8 426.1,629.0 429.5,638.6 432.9,647.0 436.5,654.3 440.3,660.6 444.2,666.1 448.4,670.8 452.7,674.9 456.8,678.2 460.6,680.8 463.7,682.6 465.9,683.7 467.2,684.3 467.7,684.5 467.8,684.6 467.8,685.3 467.7,685.2 467.2,685.0 465.9,684.4 463.7,683.3 460.6,681.5 456.8,678.9 452.7,675.6 448.4,671.5 444.2,666.8 440.3,661.3 436.5,654.9 432.9,647.7 429.5,639.3 426.1,629.6 422.7,618.5 419.2,605.6 415.5,591.1 411.6,574.8 407.6,556.8 403.3,537.1 398.8,515.9 394.1,493.4 389.3,470.1 384.4,446.3 379.5,422.6 374.7,399.2 370.0,376.8 365.5,355.6 361.2,335.9 357.2,317.9 353.3,301.6 349.6,287.1 346.1,274.2 342.7,263.0 339.3,253.4 335.9,245.0 332.3,237.7 328.5,231.4 324.6,225.9 320.4,221.2 316.1,217.1 312.0,213.8 308.2,211.2 305.1,209.4 302.9,208.3 301.6,207.7 301.1,207.5 301.0,207.4Z" fill="#433E85" fill-opacity="0.5"/>
<path d="M301.0,207.4 301.1,207.5 301.6,207.7 302.9,208.3 305.1,209.5 308.2,211.5 312.0,214.2 316.1,217.7 320.4,222.0 324.6,227.1 328.5,233.0 332.3,239.7 335.9,247.5 339.3,256.4 342.7,266.7 346.1,278.6 349.6,292.3 353.3,307.8 357.2,325.1 361.2,344.3 365.5,365.3 370.0,387.9 374.7,411.8 379.5,436.6 384.4,462.0 389.3,487.3 394.1,512.2 398.8,536.1 403.3,558.7 407.6,579.7 411.6,598.9 415.5,616.2 419.2,631.7 422.7,645.4 426.1,657.3 429.5,667.6 432.9,676.5 436.5,684.2 440.3,691.0 444.2,696.8 448.4,701.9 452.7,706.2 456.8,709.8 460.6,712.5 463.7,714.4 465.9,715.6 467.2,716.3 467.7,716.5 467.8,716.5 467.8,716.9 467.7,716.9 467.2,716.7 465.9,716.1 463.7,714.8 460.6,712.9 456.8,710.2 452.7,706.6 448.4,702.3 444.2,697.3 440.3,691.4 436.5,684.7 432.9,676.9 429.5,668.0 426.1,657.7 422.7,645.8 419.2,632.1 415.5,616.6 411.6,599.3 407.6,580.1 403.3,559.1 398.8,536.5 394.1,512.6 389.3,487.7 384.4,462.4 379.5,437.1 374.7,412.2 370.0,388.3 365.5,365.7 361.2,344.7 357.2,325.5 353.3,308.2 349.6,292.7 346.1,279.0 342.7,267.1 339.3,256.8 335.9,247.9 332.3,240.1 328.5,233.4 324.6,227.5 320.4,222.5 316.1,218.2 312.0,214.6 308.2,211.9 305.1,210.0 302.9,208.7 301.6,208.1 301.1,207.9 301.0,207.9Z" fill="#433E85" fill-opacity="0.5"/>
<path d="M301.0,207.9 301.1,207.9 301.6,208.1 302.9,208.8 305.1,210.0 308.2,212.1 312.0,214.9 316.1,218.6 320.4,223.1 324.6,228.3 328.5,234.4 332.3,241.4 335.9,249.5 339.3,258.8 342.7,269.5 346.1,281.9 349.6,296.1 353.3,312.2 357.2,330.3 361.2,350.3 365.5,372.1 370.0,395.6 374.7,420.5 379.5,446.3 384.4,472.7 389.3,499.0 394.1,524.9 398.8,549.8 403.3,573.3 407.6,595.1 411.6,615.1 415.5,633.1 419.2,649.2 422.7,663.5 426.1,675.9 429.5,686.6 432.9,695.9 436.5,703.9 440.3,710.9 444.2,717.0 448.4,722.3 452.7,726.8 456.8,730.5 460.6,733.3 463.7,735.3 465.9,736.6 467.2,737.2 467.7,737.5 467.8,737.5 467.8,737.7 467.7,737.6 467.2,737.4 465.9,736.7 463.7,735.5 460.6,733.4 456.8,730.6 452.7,726.9 448.4,722.4 444.2,717.2 440.3,711.1 436.5,704.1 432.9,696.0 429.5,686.7 426.1,676.0 422.7,663.6 419.2,649.4 415.5,633.3 411.6,615.2 407.6,595.3 403.3,573.4 398.8,549.9 394.1,525.0 389.3,499.2 384.4,472.8 379.5,446.5 374.7,420.6 370.0,395.7 365.5,372.2 361.2,350.4 357.2,330.4 353.3,312.4 349.6,296.3 346.1,282.0 342.7,269.6 339.3,258.9 335.9,249.6 332.3,241.6 328.5,234.6 324.6,228.5 320.4,223.2 316.1,218.7 312.0,215.0 308.2,212.2 305.1,210.2 302.9,208.9 301.6,208.3 301.1,208.0 301.0,208.0Z" fill="#433E85" fill-opacity="0.5"/>
<path d="M301.0,208.0 301.1,208.0 301.6,208.3 302.9,208.9 305.1,210.2 308.2,212.3 312.0,215.2 316.1,218.9 320.4,223.5 324.6,228.9 328.5,235.1 332.3,242.2 335.9,250.4 339.3,259.9 342.7,270.8 346.1,283.4 349.6,297.9 353.3,314.3 357.2,332.7 361.2,353.0 365.5,375.3 370.0,399.2 374.7,424.6 379.5,450.9 384.4,477.8 389.3,504.6 394.1,530.9 398.8,556.3 403.3,580.2 407.6,602.5 411.6,622.8 415.5,641.2 419.2,657.6 422.7,672.1 426.1,684.7 429.5,695.6 432.9,705.1 436.5,713.3 440.3,720.4 444.2,726.6 448.4,732.0 452.7,736.6 456.8,740.3 460.6,743.2 463.7,745.3 465.9,746.6 467.2,747.2 467.7,747.5 467.8,747.5 467.8,747.8 467.7,747.8 467.2,747.5 465.9,746.9 463.7,745.6 460.6,743.5 456.8,740.6 452.7,736.9 448.4,732.3 444.2,726.9 440.3,720.7 436.5,713.6 432.9,705.4 429.5,696.0 426.1,685.0 422.7,672.4 419.2,657.9 415.5,641.5 411.6,623.1 407.6,602.8 403.3,580.5 398.8,556.6 394.1,531.2 389.3,504.9 384.4,478.1 379.5,451.2 374.7,424.9 370.0,399.5 365.5,375.6 361.2,353.4 357.2,333.0 353.3,314.6 349.6,298.2 346.1,283.7 342.7,271.1 339.3,260.2 335.9,250.7 332.3,242.5 328.5,235.4 324.6,229.2 320.4,223.8 316.1,219.2 312.0,215.5 308.2,212.6 305.1,210.5 302.9,209.2 301.6,208.6 301.1,208.3 301.0,208.3Z" fill="#433E85" fill-opacity="0.5"/>
<path d="M301.0,208.3 301.1,208.3 301.6,208.3 302.9,208.2 305.1,208.0 308.2,207.8 312.0,207.5 316.1,207.1 320.4,206.5 324.6,205.9 328.5,205.2 332.3,204.4 335.9,203.5 339.3,202.4 342.7,201.2 346.1,199.7 349.6,198.1 353.3,196.2 357.2,194.1 361.2,191.8 365.5,189.3 370.0,186.6 374.7,183.7 379.5,180.7 384.4,177.7 389.3,174.6 394.1,171.6 398.8,168.7 403.3,166.0 407.6,163.5 411.6,161.2 415.5,159.1 419.2,157.2 422.7,155.6 426.1,154.1 429.5,152.9 432.9,151.8 436.5,150.9 440.3,150.1 444.2,149.4 448.4,148.8 452.7,148.3 456.8,147.8 460.6,147.5 463.7,147.3 465.9,147.1 467.2,147.0 467.7,147.0 467.8,147.0 467.8,154.8 467.7,154.8 467.2,154.9 465.9,154.9 463.7,155.1 460.6,155.3 456.8,155.7 452.7,156.1 448.4,156.6 444.2,157.2 440.3,157.9 436.5,158.7 432.9,159.7 429.5,160.7 426.1,162.0 422.7,163.4 419.2,165.0 415.5,166.9 411.6,169.0 407.6,171.3 403.3,173.8 398.8,176.6 394.1,179.4 389.3,182.4 384.4,185.5 379.5,188.5 374.7,191.5 370.0,194.4 365.5,197.1 361.2,199.6 357.2,202.0 353.3,204.0 349.6,205.9 346.1,207.6 342.7,209.0 339.3,210.2 335.9,211.3 332.3,212.2 328.5,213.0 324.6,213.7 320.4,214.4 316.1,214.9 312.0,215.3 308.2,215.6 305.1,215.9 302.9,216.0 301.6,216.1 301.1,216.1 301.0,216.1Z" fill="#38598C" fill-opacity="0.5"/>
<path d="M301.0,216.12C374.4,216.12 394.4,253.91 467.8,253.91L467.8,255.47C394.4,255.47 374.4,217.68 301.0,217.68Z" fill="#38598C" fill-opacity="0.5"/>
<path d="M301.0,217.7 301.1,217.7 301.6,217.7 302.9,217.8 305.1,217.9 308.2,218.2 312.0,218.5 316.1,218.9 320.4,219.5 324.6,220.1 328.5,220.8 332.3,221.6 335.9,222.6 339.3,223.7 342.7,224.9 346.1,226.4 349.6,228.1 353.3,230.0 357.2,232.1 361.2,234.5 365.5,237.0 370.0,239.8 374.7,242.7 379.5,245.8 384.4,248.9 389.3,252.0 394.1,255.0 398.8,257.9 403.3,260.7 407.6,263.3 411.6,265.6 415.5,267.8 419.2,269.7 422.7,271.3 426.1,272.8 429.5,274.1 432.9,275.1 436.5,276.1 440.3,276.9 444.2,277.6 448.4,278.3 452.7,278.8 456.8,279.2 460.6,279.6 463.7,279.8 465.9,279.9 467.2,280.0 467.7,280.0 467.8,280.1 467.8,287.8 467.7,287.8 467.2,287.8 465.9,287.7 463.7,287.6 460.6,287.3 456.8,287.0 452.7,286.6 448.4,286.0 444.2,285.4 440.3,284.7 436.5,283.9 432.9,282.9 429.5,281.8 426.1,280.6 422.7,279.1 419.2,277.4 415.5,275.5 411.6,273.4 407.6,271.1 403.3,268.5 398.8,265.7 394.1,262.8 389.3,259.8 384.4,256.7 379.5,253.5 374.7,250.5 370.0,247.6 365.5,244.8 361.2,242.2 357.2,239.9 353.3,237.8 349.6,235.9 346.1,234.2 342.7,232.7 339.3,231.5 335.9,230.4 332.3,229.4 328.5,228.6 324.6,227.9 320.4,227.3 316.1,226.7 312.0,226.3 308.2,226.0 305.1,225.7 302.9,225.6 301.6,225.5 301.1,225.5 301.0,225.5Z" fill="#38598C" fill-opacity="0.5"/>
<path d="M301.0,225.5 301.1,225.5 301.6,225.5 302.9,225.7 305.1,226.0 308.2,226.4 312.0,227.0 316.1,227.8 320.4,228.8 324.6,230.0 328.5,231.4 332.3,232.9 335.9,234.7 339.3,236.8 342.7,239.1 346.1,241.9 349.6,245.1 353.3,248.6 357.2,252.6 361.2,257.1 365.5,261.9 370.0,267.1 374.7,272.7 379.5,278.4 384.4,284.2 389.3,290.1 394.1,295.8 398.8,301.3 403.3,306.6 407.6,311.4 411.6,315.8 415.5,319.8 419.2,323.4 422.7,326.6 426.1,329.3 429.5,331.7 432.9,333.8 436.5,335.6 440.3,337.1 444.2,338.5 448.4,339.6 452.7,340.6 456.8,341.4 460.6,342.1 463.7,342.5 465.9,342.8 467.2,342.9 467.7,343.0 467.8,343.0 467.8,351.4 467.7,351.4 467.2,351.3 465.9,351.2 463.7,350.9 460.6,350.5 456.8,349.8 452.7,349.0 448.4,348.0 444.2,346.8 440.3,345.5 436.5,343.9 432.9,342.1 429.5,340.1 426.1,337.7 422.7,335.0 419.2,331.8 415.5,328.2 411.6,324.2 407.6,319.8 403.3,314.9 398.8,309.7 394.1,304.2 389.3,298.5 384.4,292.6 379.5,286.8 374.7,281.0 370.0,275.5 365.5,270.3 361.2,265.4 357.2,261.0 353.3,257.0 349.6,253.4 346.1,250.3 342.7,247.5 339.3,245.1 335.9,243.1 332.3,241.3 328.5,239.7 324.6,238.4 320.4,237.2 316.1,236.2 312.0,235.4 308.2,234.8 305.1,234.3 302.9,234.1 301.6,233.9 301.1,233.9 301.0,233.8Z" fill="#38598C" fill-opacity="0.5"/>
<path d="M301.0,233.8 301.1,233.9 301.6,233.9 302.9,234.2 305.1,234.6 308.2,235.3 312.0,236.3 316.1,237.6 320.4,239.2 324.6,241.0 328.5,243.2 332.3,245.6 335.9,248.4 339.3,251.7 342.7,255.4 346.1,259.8 349.6,264.7 353.3,270.4 357.2,276.7 361.2,283.7 365.5,291.3 370.0,299.6 374.7,308.3 379.5,317.3 384.4,326.5 389.3,335.8 394.1,344.8 398.8,353.5 403.3,361.7 407.6,369.4 411.6,376.4 415.5,382.7 419.2,388.3 422.7,393.3 426.1,397.7 429.5,401.4 432.9,404.7 436.5,407.5 440.3,409.9 444.2,412.1 448.4,413.9 452.7,415.5 456.8,416.8 460.6,417.8 463.7,418.5 465.9,418.9 467.2,419.1 467.7,419.2 467.8,419.2 467.8,430.4 467.7,430.4 467.2,430.3 465.9,430.1 463.7,429.6 460.6,428.9 456.8,427.9 452.7,426.7 448.4,425.1 444.2,423.2 440.3,421.1 436.5,418.7 432.9,415.8 429.5,412.6 426.1,408.8 422.7,404.5 419.2,399.5 415.5,393.9 411.6,387.6 407.6,380.6 403.3,372.9 398.8,364.7 394.1,356.0 389.3,346.9 384.4,337.7 379.5,328.5 374.7,319.4 370.0,310.7 365.5,302.5 361.2,294.9 357.2,287.9 353.3,281.6 349.6,275.9 346.1,270.9 342.7,266.6 339.3,262.8 335.9,259.6 332.3,256.8 328.5,254.3 324.6,252.2 320.4,250.4 316.1,248.8 312.0,247.5 308.2,246.5 305.1,245.8 302.9,245.4 301.6,245.1 301.1,245.0 301.0,245.0Z" fill="#38598C" fill-opacity="0.5"/>
<path d="M301.0,245.0 301.1,245.0 301.6,245.2 302.9,245.5 305.1,246.1 308.2,247.0 312.0,248.4 316.1,250.1 320.4,252.2 324.6,254.7 328.5,257.6 332.3,260.9 335.9,264.7 339.3,269.0 342.7,274.1 346.1,279.9 349.6,286.6 353.3,294.2 357.2,302.7 361.2,312.2 365.5,322.5 370.0,333.5 374.7,345.3 379.5,357.4 384.4,369.9 389.3,382.3 394.1,394.5 398.8,406.2 403.3,417.3 407.6,427.6 411.6,437.0 415.5,445.5 419.2,453.1 422.7,459.8 426.1,465.7 429.5,470.7 432.9,475.1 436.5,478.9 440.3,482.2 444.2,485.1 448.4,487.5 452.7,489.7 456.8,491.4 460.6,492.7 463.7,493.7 465.9,494.3 467.2,494.6 467.7,494.7 467.8,494.7 467.8,499.1 467.7,499.1 467.2,499.0 465.9,498.7 463.7,498.1 460.6,497.1 456.8,495.8 452.7,494.1 448.4,491.9 444.2,489.5 440.3,486.6 436.5,483.3 432.9,479.5 429.5,475.1 426.1,470.1 422.7,464.2 419.2,457.5 415.5,449.9 411.6,441.4 407.6,432.0 403.3,421.7 398.8,410.6 394.1,398.9 389.3,386.7 384.4,374.3 379.5,361.8 374.7,349.7 370.0,337.9 365.5,326.9 361.2,316.6 357.2,307.1 353.3,298.6 349.6,291.0 346.1,284.3 342.7,278.5 339.3,273.4 335.9,269.1 332.3,265.3 328.5,262.0 324.6,259.1 320.4,256.6 316.1,254.5 312.0,252.8 308.2,251.4 305.1,250.5 302.9,249.9 301.6,249.6 301.1,249.4 301.0,249.4Z" fill="#38598C" fill-opacity="0.5"/>
<path d="M301.0,249.4 301.1,249.4 301.6,249.6 302.9,250.0 305.1,250.7 308.2,251.9 312.0,253.5 316.1,255.7 320.4,258.3 324.6,261.4 328.5,264.9 332.3,269.0 335.9,273.7 339.3,279.1 342.7,285.3 346.1,292.5 349.6,300.8 353.3,310.2 357.2,320.7 361.2,332.3 365.5,345.0 370.0,358.7 374.7,373.2 379.5,388.2 384.4,403.5 389.3,418.9 394.1,433.9 398.8,448.4 403.3,462.1 407.6,474.8 411.6,486.4 415.5,496.9 419.2,506.3 422.7,514.6 426.1,521.8 429.5,528.0 432.9,533.4 436.5,538.1 440.3,542.2 444.2,545.7 448.4,548.8 452.7,551.4 456.8,553.6 460.6,555.2 463.7,556.4 465.9,557.1 467.2,557.5 467.7,557.6 467.8,557.7 467.8,563.8 467.7,563.8 467.2,563.7 465.9,563.3 463.7,562.6 460.6,561.4 456.8,559.7 452.7,557.6 448.4,555.0 444.2,551.9 440.3,548.4 436.5,544.3 432.9,539.6 429.5,534.2 426.1,528.0 422.7,520.7 419.2,512.5 415.5,503.1 411.6,492.6 407.6,481.0 403.3,468.3 398.8,454.6 394.1,440.1 389.3,425.1 384.4,409.7 379.5,394.4 374.7,379.3 370.0,364.9 365.5,351.2 361.2,338.5 357.2,326.8 353.3,316.3 349.6,307.0 346.1,298.7 342.7,291.5 339.3,285.2 335.9,279.8 332.3,275.2 328.5,271.1 324.6,267.5 320.4,264.4 316.1,261.8 312.0,259.7 308.2,258.0 305.1,256.9 302.9,256.1 301.6,255.8 301.1,255.6 301.0,255.6Z" fill="#38598C" fill-opacity="0.5"/>
<path d="M301.0,255.6 301.1,255.6 301.6,255.8 302.9,256.3 305.1,257.2 308.2,258.6 312.0,260.7 316.1,263.3 320.4,266.6 324.6,270.4 328.5,274.7 332.3,279.8 335.9,285.6 339.3,292.3 342.7,300.0 346.1,308.9 349.6,319.2 353.3,330.8 357.2,343.8 361.2,358.2 365.5,373.9 370.0,390.8 374.7,408.7 379.5,427.3 384.4,446.3 389.3,465.3 394.1,483.9 398.8,501.8 403.3,518.8 407.6,534.5 411.6,548.9 415.5,561.9 419.2,573.5 422.7,583.7 426.1,592.6 429.5,600.4 432.9,607.0 436.5,612.8 440.3,617.9 444.2,622.3 448.4,626.1 452.7,629.3 456.8,632.0 460.6,634.0 463.7,635.5 465.9,636.4 467.2,636.8 467.7,637.0 467.8,637.0 467.8,639.2 467.7,639.1 467.2,639.0 465.9,638.5 463.7,637.6 460.6,636.1 456.8,634.1 452.7,631.4 448.4,628.2 444.2,624.4 440.3,620.0 436.5,615.0 432.9,609.2 429.5,602.5 426.1,594.8 422.7,585.8 419.2,575.6 415.5,564.0 411.6,551.0 407.6,536.6 403.3,520.9 398.8,504.0 394.1,486.0 389.3,467.4 384.4,448.4 379.5,429.5 374.7,410.8 370.0,392.9 365.5,376.0 361.2,360.3 357.2,345.9 353.3,332.9 349.6,321.3 346.1,311.0 342.7,302.1 339.3,294.4 335.9,287.7 332.3,281.9 328.5,276.9 324.6,272.5 320.4,268.7 316.1,265.4 312.0,262.8 308.2,260.7 305.1,259.3 302.9,258.4 301.6,257.9 301.1,257.7 301.0,257.7Z" fill="#38598C" fill-opacity="0.5"/>
<path d="M301.0,257.7 301.1,257.7 301.6,257.9 302.9,258.5 305.1,259.5 308.2,261.1 312.0,263.4 316.1,266.4 320.4,270.0 324.6,274.3 328.5,279.2 332.3,284.8 335.9,291.3 339.3,298.8 342.7,307.5 346.1,317.5 349.6,329.0 353.3,342.0 357.2,356.5 361.2,372.7 365.5,390.3 370.0,409.3 374.7,429.3 379.5,450.2 384.4,471.5 389.3,492.8 394.1,513.6 398.8,533.7 403.3,552.7 407.6,570.3 411.6,586.4 415.5,601.0 419.2,614.0 422.7,625.5 426.1,635.5 429.5,644.2 432.9,651.6 436.5,658.1 440.3,663.8 444.2,668.7 448.4,673.0 452.7,676.6 456.8,679.6 460.6,681.9 463.7,683.5 465.9,684.5 467.2,685.0 467.7,685.2 467.8,685.3 467.8,686.8 467.7,686.8 467.2,686.6 465.9,686.1 463.7,685.0 460.6,683.4 456.8,681.1 452.7,678.2 448.4,674.5 444.2,670.3 440.3,665.3 436.5,659.7 432.9,653.2 429.5,645.7 426.1,637.1 422.7,627.0 419.2,615.6 415.5,602.6 411.6,588.0 407.6,571.9 403.3,554.2 398.8,535.3 394.1,515.2 389.3,494.3 384.4,473.0 379.5,451.8 374.7,430.9 370.0,410.8 365.5,391.8 361.2,374.2 357.2,358.1 353.3,343.5 349.6,330.5 346.1,319.0 342.7,309.0 339.3,300.4 335.9,292.9 332.3,286.4 328.5,280.7 324.6,275.8 320.4,271.6 316.1,267.9 312.0,265.0 308.2,262.7 305.1,261.0 302.9,260.0 301.6,259.5 301.1,259.3 301.0,259.3Z" fill="#38598C" fill-opacity="0.5"/>
<path d="M301.0,259.3 301.1,259.3 301.6,259.5 302.9,260.1 305.1,261.2 308.2,262.9 312.0,265.4 316.1,268.5 320.4,272.4 324.6,277.0 328.5,282.3 332.3,288.3 335.9,295.3 339.3,303.3 342.7,312.5 346.1,323.3 349.6,335.6 353.3,349.5 357.2,365.1 361.2,382.3 365.5,401.2 370.0,421.5 374.7,443.0 379.5,465.3 384.4,488.1 389.3,510.9 394.1,533.2 398.8,554.7 403.3,575.0 407.6,593.9 411.6,611.2 415.5,626.7 419.2,640.7 422.7,653.0 426.1,663.7 429.5,673.0 432.9,681.0 436.5,687.9 440.3,694.0 444.2,699.2 448.4,703.8 452.7,707.7 456.8,710.9 460.6,713.3 463.7,715.1 465.9,716.2 467.2,716.7 467.7,716.9 467.8,716.9 467.8,717.8 467.7,717.8 467.2,717.6 465.9,717.0 463.7,715.9 460.6,714.2 456.8,711.7 452.7,708.5 448.4,704.7 444.2,700.1 440.3,694.8 436.5,688.8 432.9,681.8 429.5,673.8 426.1,664.5 422.7,653.8 419.2,641.5 415.5,627.6 411.6,612.0 407.6,594.8 403.3,575.9 398.8,555.6 394.1,534.1 389.3,511.7 384.4,489.0 379.5,466.2 374.7,443.9 370.0,422.4 365.5,402.0 361.2,383.2 357.2,365.9 353.3,350.3 349.6,336.4 346.1,324.1 342.7,313.4 339.3,304.1 335.9,296.1 332.3,289.2 328.5,283.1 324.6,277.8 320.4,273.3 316.1,269.4 312.0,266.2 308.2,263.8 305.1,262.0 302.9,260.9 301.6,260.4 301.1,260.2 301.0,260.1Z" fill="#38598C" fill-opacity="0.5"/>
<path d="M301.0,260.1 301.1,260.2 301.6,260.4 302.9,261.0 305.1,262.1 308.2,263.9 312.0,266.5 316.1,269.8 320.4,273.8 324.6,278.6 328.5,284.1 332.3,290.4 335.9,297.7 339.3,306.0 342.7,315.7 346.1,326.9 349.6,339.7 353.3,354.2 357.2,370.5 361.2,388.5 365.5,408.2 370.0,429.4 374.7,451.8 379.5,475.1 384.4,498.9 389.3,522.7 394.1,546.0 398.8,568.4 403.3,589.6 407.6,609.3 411.6,627.3 415.5,643.5 419.2,658.1 422.7,670.9 426.1,682.1 429.5,691.8 432.9,700.1 436.5,707.4 440.3,713.7 444.2,719.2 448.4,723.9 452.7,728.0 456.8,731.3 460.6,733.9 463.7,735.7 465.9,736.8 467.2,737.4 467.7,737.6 467.8,737.7 467.8,737.9 467.7,737.9 467.2,737.7 465.9,737.1 463.7,735.9 460.6,734.1 456.8,731.5 452.7,728.2 448.4,724.2 444.2,719.4 440.3,713.9 436.5,707.6 432.9,700.4 429.5,692.0 426.1,682.3 422.7,671.2 419.2,658.3 415.5,643.8 411.6,627.5 407.6,609.5 403.3,589.8 398.8,568.6 394.1,546.2 389.3,522.9 384.4,499.1 379.5,475.4 374.7,452.1 370.0,429.6 365.5,408.5 361.2,388.8 357.2,370.8 353.3,354.5 349.6,340.0 346.1,327.1 342.7,316.0 339.3,306.3 335.9,297.9 332.3,290.7 328.5,284.4 324.6,278.9 320.4,274.1 316.1,270.1 312.0,266.7 308.2,264.2 305.1,262.4 302.9,261.2 301.6,260.6 301.1,260.4 301.0,260.4Z" fill="#38598C" fill-opacity="0.5"/>
<path d="M301.0,260.4 301.1,260.4 301.6,260.6 302.9,261.2 305.1,262.4 308.2,264.3 312.0,266.9 316.1,270.3 320.4,274.4 324.6,279.2 328.5,284.9 332.3,291.3 335.9,298.7 339.3,307.2 342.7,317.1 346.1,328.5 349.6,341.6 353.3,356.4 357.2,373.0 361.2,391.4 365.5,411.5 370.0,433.2 374.7,456.0 379.5,479.8 384.4,504.1 389.3,528.4 394.1,552.1 398.8,575.0 403.3,596.7 407.6,616.8 411.6,635.1 415.5,651.7 419.2,666.6 422.7,679.7 426.1,691.1 429.5,701.0 432.9,709.5 436.5,716.9 440.3,723.3 444.2,729.0 448.4,733.8 452.7,737.9 456.8,741.3 460.6,743.9 463.7,745.8 465.9,747.0 467.2,747.6 467.7,747.8 467.8,747.8 467.8,748.4 467.7,748.4 467.2,748.2 465.9,747.6 463.7,746.4 460.6,744.6 456.8,741.9 452.7,738.6 448.4,734.4 444.2,729.6 440.3,724.0 436.5,717.5 432.9,710.1 429.5,701.6 426.1,691.7 422.7,680.3 419.2,667.2 415.5,652.4 411.6,635.8 407.6,617.4 403.3,597.3 398.8,575.7 394.1,552.8 389.3,529.0 384.4,504.7 379.5,480.5 374.7,456.7 370.0,433.8 365.5,412.1 361.2,392.1 357.2,373.7 353.3,357.1 349.6,342.2 346.1,329.1 342.7,317.7 339.3,307.9 335.9,299.3 332.3,291.9 328.5,285.5 324.6,279.9 320.4,275.0 316.1,270.9 312.0,267.5 308.2,264.9 305.1,263.0 302.9,261.8 301.6,261.2 301.1,261.0 301.0,261.0Z" fill="#38598C" fill-opacity="0.5"/>
<path d="M301.0,261.0 301.1,261.0 301.6,260.9 302.9,260.8 305.1,260.6 308.2,260.2 312.0,259.6 316.1,258.9 320.4,258.0 324.6,256.9 328.5,255.7 332.3,254.3 335.9,252.7 339.3,250.8 342.7,248.6 346.1,246.2 349.6,243.3 353.3,240.1 357.2,236.5 361.2,232.5 365.5,228.1 370.0,223.4 374.7,218.4 379.5,213.2 384.4,207.9 389.3,202.6 394.1,197.5 398.8,192.5 403.3,187.8 407.6,183.4 411.6,179.4 415.5,175.8 419.2,172.5 422.7,169.7 426.1,167.2 429.5,165.0 432.9,163.2 436.5,161.6 440.3,160.2 444.2,158.9 448.4,157.9 452.7,157.0 456.8,156.2 460.6,155.7 463.7,155.3 465.9,155.0 467.2,154.9 467.7,154.8 467.8,154.8 467.8,159.5 467.7,159.5 467.2,159.6 465.9,159.7 463.7,159.9 460.6,160.4 456.8,160.9 452.7,161.7 448.4,162.6 444.2,163.6 440.3,164.8 436.5,166.2 432.9,167.9 429.5,169.7 426.1,171.9 422.7,174.4 419.2,177.2 415.5,180.4 411.6,184.0 407.6,188.1 403.3,192.4 398.8,197.1 394.1,202.1 389.3,207.3 384.4,212.6 379.5,217.9 374.7,223.1 370.0,228.0 365.5,232.8 361.2,237.1 357.2,241.1 353.3,244.8 349.6,248.0 346.1,250.8 342.7,253.3 339.3,255.5 335.9,257.3 332.3,258.9 328.5,260.3 324.6,261.6 320.4,262.6 316.1,263.5 312.0,264.3 308.2,264.8 305.1,265.2 302.9,265.5 301.6,265.6 301.1,265.7 301.0,265.7Z" fill="#2D708E" fill-opacity="0.5"/>
<path d="M301.0,265.68C374.4,265.68 394.4,255.47 467.8,255.47L467.8,257.03C394.4,257.03 374.4,267.23 301.0,267.23Z" fill="#2D708E" fill-opacity="0.5"/>
<path d="M301.0,267.23C374.4,267.23 394.4,287.83 467.8,287.83L467.8,295.70C394.4,295.70 374.4,275.10 301.0,275.10Z" fill="#2D708E" fill-opacity="0.5"/>
<path d="M301.0,275.1 301.1,275.1 301.6,275.1 302.9,275.2 305.1,275.4 308.2,275.7 312.0,276.1 316.1,276.6 320.4,277.3 324.6,278.1 328.5,278.9 332.3,279.9 335.9,281.1 339.3,282.4 342.7,284.0 346.1,285.8 349.6,287.8 353.3,290.1 357.2,292.7 361.2,295.6 365.5,298.8 370.0,302.1 374.7,305.7 379.5,309.4 384.4,313.2 389.3,317.0 394.1,320.8 398.8,324.3 403.3,327.7 407.6,330.9 411.6,333.8 415.5,336.4 419.2,338.7 422.7,340.7 426.1,342.5 429.5,344.1 432.9,345.4 436.5,346.5 440.3,347.6 444.2,348.4 448.4,349.2 452.7,349.8 456.8,350.4 460.6,350.8 463.7,351.1 465.9,351.3 467.2,351.4 467.7,351.4 467.8,351.4 467.8,366.2 467.7,366.2 467.2,366.1 465.9,366.0 463.7,365.9 460.6,365.6 456.8,365.2 452.7,364.6 448.4,364.0 444.2,363.2 440.3,362.4 436.5,361.3 432.9,360.2 429.5,358.8 426.1,357.3 422.7,355.5 419.2,353.5 415.5,351.1 411.6,348.5 407.6,345.7 403.3,342.5 398.8,339.1 394.1,335.6 389.3,331.8 384.4,328.0 379.5,324.2 374.7,320.5 370.0,316.9 365.5,313.6 361.2,310.4 357.2,307.5 353.3,304.9 349.6,302.6 346.1,300.6 342.7,298.8 339.3,297.2 335.9,295.9 332.3,294.7 328.5,293.7 324.6,292.8 320.4,292.1 316.1,291.4 312.0,290.9 308.2,290.5 305.1,290.2 302.9,290.0 301.6,289.9 301.1,289.9 301.0,289.9Z" fill="#2D708E" fill-opacity="0.5"/>
<path d="M301.0,289.9 301.1,289.9 301.6,290.0 302.9,290.1 305.1,290.5 308.2,291.0 312.0,291.8 316.1,292.7 320.4,293.9 324.6,295.3 328.5,297.0 332.3,298.8 335.9,300.9 339.3,303.4 342.7,306.2 346.1,309.5 349.6,313.3 353.3,317.6 357.2,322.4 361.2,327.7 365.5,333.5 370.0,339.7 374.7,346.3 379.5,353.2 384.4,360.2 389.3,367.1 394.1,374.0 398.8,380.6 403.3,386.8 407.6,392.6 411.6,397.9 415.5,402.7 419.2,407.0 422.7,410.8 426.1,414.1 429.5,416.9 432.9,419.4 436.5,421.5 440.3,423.4 444.2,425.0 448.4,426.4 452.7,427.6 456.8,428.5 460.6,429.3 463.7,429.8 465.9,430.2 467.2,430.3 467.7,430.4 467.8,430.4 467.8,441.9 467.7,441.9 467.2,441.8 465.9,441.6 463.7,441.3 460.6,440.8 456.8,440.0 452.7,439.0 448.4,437.8 444.2,436.4 440.3,434.8 436.5,433.0 432.9,430.8 429.5,428.4 426.1,425.5 422.7,422.2 419.2,418.4 415.5,414.2 411.6,409.4 407.6,404.1 403.3,398.3 398.8,392.1 394.1,385.5 389.3,378.6 384.4,371.6 379.5,364.6 374.7,357.8 370.0,351.2 365.5,344.9 361.2,339.1 357.2,333.8 353.3,329.0 349.6,324.8 346.1,321.0 342.7,317.7 339.3,314.9 335.9,312.4 332.3,310.3 328.5,308.4 324.6,306.8 320.4,305.4 316.1,304.2 312.0,303.2 308.2,302.5 305.1,301.9 302.9,301.6 301.6,301.4 301.1,301.4 301.0,301.4Z" fill="#2D708E" fill-opacity="0.5"/>
<path d="M301.0,301.4 301.1,301.4 301.6,301.5 302.9,301.7 305.1,302.2 308.2,302.9 312.0,304.0 316.1,305.4 320.4,307.0 324.6,309.0 328.5,311.3 332.3,313.9 335.9,316.9 339.3,320.4 342.7,324.4 346.1,329.0 349.6,334.3 353.3,340.3 357.2,347.1 361.2,354.5 365.5,362.7 370.0,371.4 374.7,380.7 379.5,390.4 384.4,400.2 389.3,410.1 394.1,419.7 398.8,429.0 403.3,437.8 407.6,445.9 411.6,453.4 415.5,460.1 419.2,466.2 422.7,471.5 426.1,476.1 429.5,480.1 432.9,483.6 436.5,486.6 440.3,489.2 444.2,491.5 448.4,493.4 452.7,495.1 456.8,496.5 460.6,497.5 463.7,498.3 465.9,498.8 467.2,499.0 467.7,499.1 467.8,499.1 467.8,508.8 467.7,508.8 467.2,508.7 465.9,508.5 463.7,508.0 460.6,507.2 456.8,506.2 452.7,504.8 448.4,503.1 444.2,501.2 440.3,498.9 436.5,496.3 432.9,493.3 429.5,489.8 426.1,485.8 422.7,481.2 419.2,475.9 415.5,469.8 411.6,463.1 407.6,455.7 403.3,447.5 398.8,438.7 394.1,429.4 389.3,419.8 384.4,409.9 379.5,400.1 374.7,390.4 370.0,381.2 365.5,372.4 361.2,364.2 357.2,356.8 353.3,350.0 349.6,344.0 346.1,338.7 342.7,334.1 339.3,330.1 335.9,326.6 332.3,323.6 328.5,321.0 324.6,318.7 320.4,316.7 316.1,315.1 312.0,313.7 308.2,312.6 305.1,311.9 302.9,311.4 301.6,311.2 301.1,311.1 301.0,311.1Z" fill="#2D708E" fill-opacity="0.5"/>
<path d="M301.0,311.1 301.1,311.1 301.6,311.2 302.9,311.5 305.1,312.1 308.2,313.1 312.0,314.4 316.1,316.2 320.4,318.3 324.6,320.8 328.5,323.8 332.3,327.1 335.9,330.9 339.3,335.4 342.7,340.5 346.1,346.4 349.6,353.2 353.3,360.9 357.2,369.5 361.2,379.0 365.5,389.4 370.0,400.7 374.7,412.5 379.5,424.9 384.4,437.4 389.3,450.0 394.1,462.4 398.8,474.2 403.3,485.5 407.6,495.9 411.6,505.4 415.5,514.0 419.2,521.7 422.7,528.5 426.1,534.4 429.5,539.5 432.9,544.0 436.5,547.8 440.3,551.1 444.2,554.1 448.4,556.6 452.7,558.7 456.8,560.5 460.6,561.8 463.7,562.8 465.9,563.4 467.2,563.7 467.7,563.8 467.8,563.8 467.8,568.9 467.7,568.9 467.2,568.8 465.9,568.5 463.7,567.9 460.6,566.9 456.8,565.6 452.7,563.8 448.4,561.7 444.2,559.1 440.3,556.2 436.5,552.9 432.9,549.0 429.5,544.6 426.1,539.5 422.7,533.6 419.2,526.8 415.5,519.1 411.6,510.5 407.6,501.0 403.3,490.5 398.8,479.3 394.1,467.5 389.3,455.1 384.4,442.5 379.5,430.0 374.7,417.6 370.0,405.7 365.5,394.5 361.2,384.1 357.2,374.6 353.3,366.0 349.6,358.3 346.1,351.5 342.7,345.6 339.3,340.4 335.9,336.0 332.3,332.2 328.5,328.8 324.6,325.9 320.4,323.4 316.1,321.3 312.0,319.5 308.2,318.2 305.1,317.2 302.9,316.6 301.6,316.3 301.1,316.2 301.0,316.1Z" fill="#2D708E" fill-opacity="0.5"/>
<path d="M301.0,316.1 301.1,316.2 301.6,316.3 302.9,316.7 305.1,317.5 308.2,318.7 312.0,320.4 316.1,322.7 320.4,325.4 324.6,328.6 328.5,332.4 332.3,336.6 335.9,341.5 339.3,347.2 342.7,353.7 346.1,361.3 349.6,370.0 353.3,379.8 357.2,390.8 361.2,403.0 365.5,416.3 370.0,430.6 374.7,445.8 379.5,461.6 384.4,477.7 389.3,493.7 394.1,509.5 398.8,524.7 403.3,539.0 407.6,552.3 411.6,564.5 415.5,575.5 419.2,585.3 422.7,594.0 426.1,601.6 429.5,608.1 432.9,613.8 436.5,618.7 440.3,622.9 444.2,626.7 448.4,629.9 452.7,632.6 456.8,634.9 460.6,636.6 463.7,637.8 465.9,638.6 467.2,639.0 467.7,639.1 467.8,639.2 467.8,642.3 467.7,642.3 467.2,642.1 465.9,641.7 463.7,640.9 460.6,639.7 456.8,638.0 452.7,635.7 448.4,633.0 444.2,629.8 440.3,626.1 436.5,621.8 432.9,616.9 429.5,611.2 426.1,604.7 422.7,597.1 419.2,588.4 415.5,578.6 411.6,567.6 407.6,555.4 403.3,542.1 398.8,527.8 394.1,512.6 389.3,496.8 384.4,480.8 379.5,464.7 374.7,448.9 370.0,433.8 365.5,419.4 361.2,406.1 357.2,393.9 353.3,382.9 349.6,373.1 346.1,364.4 342.7,356.9 339.3,350.3 335.9,344.7 332.3,339.8 328.5,335.5 324.6,331.8 320.4,328.5 316.1,325.8 312.0,323.6 308.2,321.8 305.1,320.6 302.9,319.8 301.6,319.4 301.1,319.3 301.0,319.3Z" fill="#2D708E" fill-opacity="0.5"/>
<path d="M301.0,319.3 301.1,319.3 301.6,319.5 302.9,319.9 305.1,320.8 308.2,322.2 312.0,324.2 316.1,326.7 320.4,329.8 324.6,333.5 328.5,337.7 332.3,342.6 335.9,348.2 339.3,354.6 342.7,362.0 346.1,370.6 349.6,380.5 353.3,391.7 357.2,404.2 361.2,418.1 365.5,433.2 370.0,449.5 374.7,466.8 379.5,484.7 384.4,503.0 389.3,521.3 394.1,539.3 398.8,556.5 403.3,572.8 407.6,588.0 411.6,601.9 415.5,614.4 419.2,625.6 422.7,635.4 426.1,644.0 429.5,651.5 432.9,657.9 436.5,663.5 440.3,668.4 444.2,672.6 448.4,676.3 452.7,679.4 456.8,681.9 460.6,683.9 463.7,685.3 465.9,686.2 467.2,686.6 467.7,686.8 467.8,686.8 467.8,688.9 467.7,688.9 467.2,688.7 465.9,688.2 463.7,687.4 460.6,686.0 456.8,684.0 452.7,681.4 448.4,678.3 444.2,674.7 440.3,670.4 436.5,665.6 432.9,660.0 429.5,653.5 426.1,646.1 422.7,637.5 419.2,627.6 415.5,616.4 411.6,603.9 407.6,590.1 403.3,574.9 398.8,558.6 394.1,541.3 389.3,523.4 384.4,505.1 379.5,486.8 374.7,468.9 370.0,451.6 365.5,435.3 361.2,420.1 357.2,406.3 353.3,393.8 349.6,382.6 346.1,372.7 342.7,364.1 339.3,356.7 335.9,350.2 332.3,344.6 328.5,339.8 324.6,335.6 320.4,331.9 316.1,328.8 312.0,326.2 308.2,324.3 305.1,322.9 302.9,322.0 301.6,321.5 301.1,321.4 301.0,321.3Z" fill="#2D708E" fill-opacity="0.5"/>
<path d="M301.0,321.3 301.1,321.4 301.6,321.5 302.9,322.0 305.1,323.0 308.2,324.5 312.0,326.6 316.1,329.4 320.4,332.7 324.6,336.7 328.5,341.2 332.3,346.5 335.9,352.5 339.3,359.4 342.7,367.5 346.1,376.8 349.6,387.4 353.3,399.5 357.2,413.0 361.2,427.9 365.5,444.3 370.0,461.9 374.7,480.5 379.5,499.8 384.4,519.6 389.3,539.3 394.1,558.7 398.8,577.3 403.3,594.9 407.6,611.2 411.6,626.2 415.5,639.7 419.2,651.7 422.7,662.4 426.1,671.7 429.5,679.7 432.9,686.6 436.5,692.7 440.3,697.9 444.2,702.5 448.4,706.4 452.7,709.8 456.8,712.5 460.6,714.7 463.7,716.2 465.9,717.1 467.2,717.6 467.7,717.8 467.8,717.8 467.8,719.1 467.7,719.0 467.2,718.9 465.9,718.4 463.7,717.4 460.6,715.9 456.8,713.8 452.7,711.0 448.4,707.7 444.2,703.7 440.3,699.2 436.5,693.9 432.9,687.9 429.5,681.0 426.1,672.9 422.7,663.6 419.2,653.0 415.5,640.9 411.6,627.4 407.6,612.5 403.3,596.1 398.8,578.5 394.1,559.9 389.3,540.6 384.4,520.8 379.5,501.1 374.7,481.7 370.0,463.1 365.5,445.5 361.2,429.2 357.2,414.2 353.3,400.7 349.6,388.7 346.1,378.0 342.7,368.7 339.3,360.7 335.9,353.8 332.3,347.7 328.5,342.5 324.6,337.9 320.4,334.0 316.1,330.6 312.0,327.9 308.2,325.7 305.1,324.2 302.9,323.3 301.6,322.8 301.1,322.6 301.0,322.6Z" fill="#2D708E" fill-opacity="0.5"/>
<path d="M301.0,322.6 301.1,322.6 301.6,322.8 302.9,323.3 305.1,324.3 308.2,325.9 312.0,328.1 316.1,331.0 320.4,334.5 324.6,338.7 328.5,343.4 332.3,348.9 335.9,355.2 339.3,362.5 342.7,370.9 346.1,380.6 349.6,391.8 353.3,404.4 357.2,418.6 361.2,434.3 365.5,451.4 370.0,469.8 374.7,489.3 379.5,509.6 384.4,530.2 389.3,550.9 394.1,571.2 398.8,590.7 403.3,609.1 407.6,626.2 411.6,641.9 415.5,656.1 419.2,668.7 422.7,679.9 426.1,689.6 429.5,698.0 432.9,705.3 436.5,711.6 440.3,717.1 444.2,721.8 448.4,726.0 452.7,729.5 456.8,732.4 460.6,734.6 463.7,736.2 465.9,737.2 467.2,737.7 467.7,737.9 467.8,737.9 467.8,738.3 467.7,738.3 467.2,738.1 465.9,737.6 463.7,736.6 460.6,735.0 456.8,732.8 452.7,729.9 448.4,726.4 444.2,722.2 440.3,717.4 436.5,711.9 432.9,705.6 429.5,698.4 426.1,690.0 422.7,680.2 419.2,669.1 415.5,656.4 411.6,642.3 407.6,626.6 403.3,609.5 398.8,591.1 394.1,571.6 389.3,551.3 384.4,530.6 379.5,510.0 374.7,489.7 370.0,470.2 365.5,451.8 361.2,434.6 357.2,419.0 353.3,404.8 349.6,392.2 346.1,381.0 342.7,371.3 339.3,362.9 335.9,355.6 332.3,349.3 328.5,343.8 324.6,339.0 320.4,334.9 316.1,331.4 312.0,328.5 308.2,326.3 305.1,324.7 302.9,323.7 301.6,323.2 301.1,323.0 301.0,323.0Z" fill="#2D708E" fill-opacity="0.5"/>
<path d="M301.0,323.0 301.1,323.0 301.6,323.2 302.9,323.7 305.1,324.7 308.2,326.4 312.0,328.6 316.1,331.6 320.4,335.2 324.6,339.4 328.5,344.3 332.3,350.0 335.9,356.4 339.3,363.9 342.7,372.5 346.1,382.4 349.6,393.9 353.3,406.8 357.2,421.3 361.2,437.4 365.5,454.9 370.0,473.8 374.7,493.8 379.5,514.5 384.4,535.7 389.3,556.9 394.1,577.6 398.8,597.6 403.3,616.5 407.6,634.0 411.6,650.1 415.5,664.6 419.2,677.5 422.7,689.0 426.1,698.9 429.5,707.5 432.9,715.0 436.5,721.4 440.3,727.1 444.2,732.0 448.4,736.2 452.7,739.8 456.8,742.8 460.6,745.1 463.7,746.7 465.9,747.7 467.2,748.2 467.7,748.4 467.8,748.4 467.8,749.5 467.7,749.4 467.2,749.2 465.9,748.7 463.7,747.7 460.6,746.1 456.8,743.8 452.7,740.8 448.4,737.2 444.2,733.0 440.3,728.1 436.5,722.5 432.9,716.0 429.5,708.6 426.1,699.9 422.7,690.0 419.2,678.5 415.5,665.6 411.6,651.1 407.6,635.1 403.3,617.5 398.8,598.7 394.1,578.7 389.3,557.9 384.4,536.7 379.5,515.6 374.7,494.8 370.0,474.8 365.5,455.9 361.2,438.4 357.2,422.3 353.3,407.9 349.6,394.9 346.1,383.5 342.7,373.5 339.3,364.9 335.9,357.5 332.3,351.0 328.5,345.4 324.6,340.5 320.4,336.2 316.1,332.6 312.0,329.7 308.2,327.4 305.1,325.8 302.9,324.7 301.6,324.2 301.1,324.0 301.0,324.0Z" fill="#2D708E" fill-opacity="0.5"/>
<path d="M301.0,324.0 301.1,324.0 301.6,323.9 302.9,323.7 305.1,323.3 308.2,322.7 312.0,321.8 316.1,320.7 320.4,319.3 324.6,317.6 328.5,315.7 332.3,313.6 335.9,311.1 339.3,308.2 342.7,304.9 346.1,301.0 349.6,296.6 353.3,291.6 357.2,286.0 361.2,279.8 365.5,273.0 370.0,265.7 374.7,258.0 379.5,249.9 384.4,241.8 389.3,233.6 394.1,225.5 398.8,217.8 403.3,210.5 407.6,203.7 411.6,197.5 415.5,191.9 419.2,186.9 422.7,182.5 426.1,178.7 429.5,175.3 432.9,172.4 436.5,169.9 440.3,167.8 444.2,165.9 448.4,164.2 452.7,162.8 456.8,161.7 460.6,160.8 463.7,160.2 465.9,159.8 467.2,159.6 467.7,159.5 467.8,159.5 467.8,166.7 467.7,166.7 467.2,166.8 465.9,167.0 463.7,167.4 460.6,168.0 456.8,168.9 452.7,170.0 448.4,171.4 444.2,173.0 440.3,174.9 436.5,177.1 432.9,179.6 429.5,182.5 426.1,185.8 422.7,189.7 419.2,194.1 415.5,199.1 411.6,204.7 407.6,210.9 403.3,217.7 398.8,225.0 394.1,232.7 389.3,240.7 384.4,248.9 379.5,257.1 374.7,265.1 370.0,272.9 365.5,280.2 361.2,286.9 357.2,293.1 353.3,298.7 349.6,303.7 346.1,308.2 342.7,312.0 339.3,315.3 335.9,318.2 332.3,320.7 328.5,322.9 324.6,324.8 320.4,326.4 316.1,327.8 312.0,329.0 308.2,329.9 305.1,330.5 302.9,330.9 301.6,331.1 301.1,331.2 301.0,331.2Z" fill="#25858E" fill-opacity="0.5"/>
<path d="M301.0,331.2 301.1,331.2 301.6,331.1 302.9,331.0 305.1,330.9 308.2,330.6 312.0,330.2 316.1,329.7 320.4,329.0 324.6,328.3 328.5,327.4 332.3,326.5 335.9,325.3 339.3,324.0 342.7,322.5 346.1,320.8 349.6,318.8 353.3,316.6 357.2,314.0 361.2,311.2 365.5,308.2 370.0,304.9 374.7,301.4 379.5,297.8 384.4,294.1 389.3,290.4 394.1,286.8 398.8,283.3 403.3,280.0 407.6,277.0 411.6,274.2 415.5,271.6 419.2,269.4 422.7,267.4 426.1,265.7 429.5,264.2 432.9,262.9 436.5,261.7 440.3,260.8 444.2,259.9 448.4,259.2 452.7,258.5 456.8,258.0 460.6,257.6 463.7,257.3 465.9,257.2 467.2,257.1 467.7,257.0 467.8,257.0 467.8,258.5 467.7,258.5 467.2,258.5 465.9,258.6 463.7,258.8 460.6,259.1 456.8,259.5 452.7,260.0 448.4,260.6 444.2,261.3 440.3,262.2 436.5,263.2 432.9,264.3 429.5,265.6 426.1,267.1 422.7,268.8 419.2,270.8 415.5,273.1 411.6,275.6 407.6,278.4 403.3,281.5 398.8,284.7 394.1,288.2 389.3,291.8 384.4,295.5 379.5,299.2 374.7,302.8 370.0,306.3 365.5,309.6 361.2,312.7 357.2,315.5 353.3,318.0 349.6,320.2 346.1,322.2 342.7,324.0 339.3,325.5 335.9,326.8 332.3,327.9 328.5,328.9 324.6,329.7 320.4,330.5 316.1,331.1 312.0,331.6 308.2,332.0 305.1,332.3 302.9,332.5 301.6,332.6 301.1,332.6 301.0,332.6Z" fill="#25858E" fill-opacity="0.5"/>
<path d="M301.0,332.60C374.4,332.60 394.4,295.70 467.8,295.70L467.8,304.45C394.4,304.45 374.4,341.34 301.0,341.34Z" fill="#25858E" fill-opacity="0.5"/>
<path d="M301.0,341.34C374.4,341.34 394.4,366.18 467.8,366.18L467.8,381.59C394.4,381.59 374.4,356.75 301.0,356.75Z" fill="#25858E" fill-opacity="0.5"/>
<path d="M301.0,356.7 301.1,356.8 301.6,356.8 302.9,356.9 305.1,357.1 308.2,357.4 312.0,357.9 316.1,358.5 320.4,359.2 324.6,360.0 328.5,361.0 332.3,362.1 335.9,363.4 339.3,364.9 342.7,366.7 346.1,368.6 349.6,370.9 353.3,373.5 357.2,376.4 361.2,379.6 365.5,383.1 370.0,386.9 374.7,390.9 379.5,395.1 384.4,399.3 389.3,403.5 394.1,407.7 398.8,411.7 403.3,415.5 407.6,419.0 411.6,422.2 415.5,425.1 419.2,427.7 422.7,430.0 426.1,432.0 429.5,433.7 432.9,435.2 436.5,436.5 440.3,437.6 444.2,438.6 448.4,439.4 452.7,440.1 456.8,440.7 460.6,441.2 463.7,441.5 465.9,441.7 467.2,441.8 467.7,441.9 467.8,441.9 467.8,455.6 467.7,455.6 467.2,455.5 465.9,455.4 463.7,455.2 460.6,454.9 456.8,454.4 452.7,453.8 448.4,453.1 444.2,452.3 440.3,451.3 436.5,450.2 432.9,448.9 429.5,447.4 426.1,445.7 422.7,443.7 419.2,441.4 415.5,438.8 411.6,435.9 407.6,432.7 403.3,429.2 398.8,425.4 394.1,421.4 389.3,417.2 384.4,413.0 379.5,408.8 374.7,404.6 370.0,400.6 365.5,396.8 361.2,393.3 357.2,390.1 353.3,387.2 349.6,384.6 346.1,382.3 342.7,380.4 339.3,378.6 335.9,377.1 332.3,375.8 328.5,374.7 324.6,373.7 320.4,372.9 316.1,372.2 312.0,371.6 308.2,371.1 305.1,370.8 302.9,370.6 301.6,370.5 301.1,370.5 301.0,370.5Z" fill="#25858E" fill-opacity="0.5"/>
<path d="M301.0,370.5 301.1,370.5 301.6,370.5 302.9,370.7 305.1,371.0 308.2,371.5 312.0,372.3 316.1,373.3 320.4,374.4 324.6,375.8 328.5,377.4 332.3,379.2 335.9,381.3 339.3,383.8 342.7,386.6 346.1,389.8 349.6,393.5 353.3,397.7 357.2,402.4 361.2,407.7 365.5,413.4 370.0,419.5 374.7,426.0 379.5,432.7 384.4,439.6 389.3,446.5 394.1,453.3 398.8,459.8 403.3,465.9 407.6,471.6 411.6,476.8 415.5,481.5 419.2,485.8 422.7,489.5 426.1,492.7 429.5,495.5 432.9,497.9 436.5,500.0 440.3,501.9 444.2,503.5 448.4,504.8 452.7,506.0 456.8,507.0 460.6,507.7 463.7,508.2 465.9,508.6 467.2,508.8 467.7,508.8 467.8,508.8 467.8,516.9 467.7,516.9 467.2,516.8 465.9,516.7 463.7,516.3 460.6,515.8 456.8,515.1 452.7,514.1 448.4,512.9 444.2,511.6 440.3,510.0 436.5,508.1 432.9,506.0 429.5,503.6 426.1,500.8 422.7,497.6 419.2,493.8 415.5,489.6 411.6,484.9 407.6,479.7 403.3,474.0 398.8,467.9 394.1,461.4 389.3,454.6 384.4,447.7 379.5,440.8 374.7,434.1 370.0,427.6 365.5,421.4 361.2,415.7 357.2,410.5 353.3,405.8 349.6,401.6 346.1,397.9 342.7,394.6 339.3,391.8 335.9,389.4 332.3,387.3 328.5,385.5 324.6,383.9 320.4,382.5 316.1,381.3 312.0,380.4 308.2,379.6 305.1,379.1 302.9,378.8 301.6,378.6 301.1,378.5 301.0,378.5Z" fill="#25858E" fill-opacity="0.5"/>
<path d="M301.0,378.5 301.1,378.6 301.6,378.6 302.9,378.9 305.1,379.3 308.2,380.1 312.0,381.1 316.1,382.4 320.4,384.0 324.6,385.9 328.5,388.1 332.3,390.6 335.9,393.5 339.3,396.8 342.7,400.7 346.1,405.2 349.6,410.3 353.3,416.1 357.2,422.5 361.2,429.7 365.5,437.6 370.0,446.0 374.7,455.0 379.5,464.3 384.4,473.7 389.3,483.2 394.1,492.5 398.8,501.4 403.3,509.9 407.6,517.7 411.6,524.9 415.5,531.4 419.2,537.2 422.7,542.3 426.1,546.8 429.5,550.6 432.9,553.9 436.5,556.8 440.3,559.4 444.2,561.6 448.4,563.5 452.7,565.1 456.8,566.4 460.6,567.4 463.7,568.1 465.9,568.6 467.2,568.8 467.7,568.9 467.8,568.9 467.8,577.6 467.7,577.6 467.2,577.5 465.9,577.3 463.7,576.8 460.6,576.1 456.8,575.1 452.7,573.8 448.4,572.1 444.2,570.2 440.3,568.0 436.5,565.5 432.9,562.6 429.5,559.3 426.1,555.5 422.7,551.0 419.2,545.9 415.5,540.1 411.6,533.6 407.6,526.4 403.3,518.6 398.8,510.1 394.1,501.2 389.3,491.9 384.4,482.4 379.5,472.9 374.7,463.7 370.0,454.7 365.5,446.3 361.2,438.4 357.2,431.2 353.3,424.7 349.6,419.0 346.1,413.8 342.7,409.4 339.3,405.5 335.9,402.2 332.3,399.3 328.5,396.8 324.6,394.6 320.4,392.7 316.1,391.1 312.0,389.8 308.2,388.7 305.1,388.0 302.9,387.6 301.6,387.3 301.1,387.2 301.0,387.2Z" fill="#25858E" fill-opacity="0.5"/>
<path d="M301.0,387.2 301.1,387.2 301.6,387.4 302.9,387.7 305.1,388.3 308.2,389.3 312.0,390.6 316.1,392.4 320.4,394.6 324.6,397.1 328.5,400.0 332.3,403.4 335.9,407.3 339.3,411.7 342.7,416.9 346.1,422.9 349.6,429.7 353.3,437.5 357.2,446.2 361.2,455.8 365.5,466.3 370.0,477.6 374.7,489.6 379.5,502.1 384.4,514.8 389.3,527.4 394.1,539.9 398.8,551.9 403.3,563.2 407.6,573.7 411.6,583.3 415.5,592.0 419.2,599.8 422.7,606.6 426.1,612.6 429.5,617.8 432.9,622.2 436.5,626.1 440.3,629.5 444.2,632.4 448.4,635.0 452.7,637.1 456.8,638.9 460.6,640.3 463.7,641.2 465.9,641.8 467.2,642.1 467.7,642.3 467.8,642.3 467.8,646.6 467.7,646.6 467.2,646.5 465.9,646.2 463.7,645.6 460.6,644.6 456.8,643.2 452.7,641.4 448.4,639.3 444.2,636.7 440.3,633.8 436.5,630.4 432.9,626.6 429.5,622.1 426.1,616.9 422.7,611.0 419.2,604.1 415.5,596.3 411.6,587.7 407.6,578.0 403.3,567.5 398.8,556.2 394.1,544.2 389.3,531.8 384.4,519.1 379.5,506.4 374.7,493.9 370.0,482.0 365.5,470.6 361.2,460.1 357.2,450.5 353.3,441.8 349.6,434.1 346.1,427.2 342.7,421.2 339.3,416.1 335.9,411.6 332.3,407.7 328.5,404.4 324.6,401.4 320.4,398.9 316.1,396.7 312.0,395.0 308.2,393.6 305.1,392.6 302.9,392.0 301.6,391.7 301.1,391.6 301.0,391.6Z" fill="#25858E" fill-opacity="0.5"/>
<path d="M301.0,391.6 301.1,391.6 301.6,391.7 302.9,392.1 305.1,392.8 308.2,393.9 312.0,395.5 316.1,397.6 320.4,400.1 324.6,403.1 328.5,406.5 332.3,410.4 335.9,414.9 339.3,420.1 342.7,426.2 346.1,433.1 349.6,441.1 353.3,450.2 357.2,460.3 361.2,471.5 365.5,483.8 370.0,496.9 374.7,510.9 379.5,525.4 384.4,540.2 389.3,555.0 394.1,569.5 398.8,583.5 403.3,596.7 407.6,608.9 411.6,620.2 415.5,630.3 419.2,639.3 422.7,647.3 426.1,654.3 429.5,660.3 432.9,665.5 436.5,670.0 440.3,673.9 444.2,677.4 448.4,680.3 452.7,682.9 456.8,684.9 460.6,686.5 463.7,687.6 465.9,688.4 467.2,688.7 467.7,688.9 467.8,688.9 467.8,691.2 467.7,691.2 467.2,691.0 465.9,690.7 463.7,689.9 460.6,688.8 456.8,687.2 452.7,685.1 448.4,682.6 444.2,679.7 440.3,676.2 436.5,672.3 432.9,667.8 429.5,662.6 426.1,656.6 422.7,649.6 419.2,641.6 415.5,632.6 411.6,622.4 407.6,611.2 403.3,599.0 398.8,585.8 394.1,571.8 389.3,557.3 384.4,542.5 379.5,527.7 374.7,513.2 370.0,499.2 365.5,486.0 361.2,473.8 357.2,462.6 353.3,452.4 349.6,443.4 346.1,435.4 342.7,428.5 339.3,422.4 335.9,417.2 332.3,412.7 328.5,408.8 324.6,405.4 320.4,402.4 316.1,399.9 312.0,397.8 308.2,396.2 305.1,395.1 302.9,394.4 301.6,394.0 301.1,393.9 301.0,393.9Z" fill="#25858E" fill-opacity="0.5"/>
<path d="M301.0,393.9 301.1,393.9 301.6,394.0 302.9,394.4 305.1,395.2 308.2,396.4 312.0,398.2 316.1,400.4 320.4,403.2 324.6,406.4 328.5,410.2 332.3,414.5 335.9,419.4 339.3,425.1 342.7,431.7 346.1,439.3 349.6,448.1 353.3,457.9 357.2,469.0 361.2,481.3 365.5,494.7 370.0,509.1 374.7,524.4 379.5,540.3 384.4,556.5 389.3,572.6 394.1,588.5 398.8,603.8 403.3,618.2 407.6,631.6 411.6,643.9 415.5,655.0 419.2,664.9 422.7,673.6 426.1,681.2 429.5,687.8 432.9,693.5 436.5,698.4 440.3,702.7 444.2,706.5 448.4,709.7 452.7,712.5 456.8,714.7 460.6,716.5 463.7,717.7 465.9,718.5 467.2,718.9 467.7,719.0 467.8,719.1 467.8,720.5 467.7,720.4 467.2,720.3 465.9,719.9 463.7,719.1 460.6,717.9 456.8,716.1 452.7,713.9 448.4,711.1 444.2,707.9 440.3,704.1 436.5,699.8 432.9,694.9 429.5,689.2 426.1,682.6 422.7,675.0 419.2,666.3 415.5,656.4 411.6,645.3 407.6,633.0 403.3,619.6 398.8,605.2 394.1,589.9 389.3,574.0 384.4,557.9 379.5,541.7 374.7,525.8 370.0,510.5 365.5,496.1 361.2,482.7 357.2,470.4 353.3,459.3 349.6,449.5 346.1,440.7 342.7,433.1 339.3,426.5 335.9,420.8 332.3,415.9 328.5,411.6 324.6,407.8 320.4,404.6 316.1,401.8 312.0,399.6 308.2,397.8 305.1,396.6 302.9,395.8 301.6,395.4 301.1,395.3 301.0,395.2Z" fill="#25858E" fill-opacity="0.5"/>
<path d="M301.0,395.2 301.1,395.3 301.6,395.4 302.9,395.8 305.1,396.7 308.2,398.0 312.0,399.8 316.1,402.2 320.4,405.1 324.6,408.5 328.5,412.5 332.3,417.0 335.9,422.2 339.3,428.2 342.7,435.2 346.1,443.2 349.6,452.4 353.3,462.9 357.2,474.5 361.2,487.5 365.5,501.6 370.0,516.8 374.7,533.0 379.5,549.7 384.4,566.8 389.3,583.8 394.1,600.6 398.8,616.7 403.3,631.9 407.6,646.1 411.6,659.0 415.5,670.7 419.2,681.1 422.7,690.3 426.1,698.4 429.5,705.3 432.9,711.3 436.5,716.5 440.3,721.1 444.2,725.0 448.4,728.4 452.7,731.3 456.8,733.7 460.6,735.6 463.7,736.9 465.9,737.7 467.2,738.1 467.7,738.3 467.8,738.3 467.8,738.8 467.7,738.8 467.2,738.6 465.9,738.2 463.7,737.4 460.6,736.0 456.8,734.2 452.7,731.8 448.4,728.9 444.2,725.5 440.3,721.5 436.5,717.0 432.9,711.8 429.5,705.8 426.1,698.9 422.7,690.8 419.2,681.6 415.5,671.2 411.6,659.5 407.6,646.5 403.3,632.4 398.8,617.2 394.1,601.1 389.3,584.3 384.4,567.3 379.5,550.2 374.7,533.4 370.0,517.3 365.5,502.1 361.2,488.0 357.2,475.0 353.3,463.3 349.6,452.9 346.1,443.7 342.7,435.7 339.3,428.7 335.9,422.7 332.3,417.5 328.5,413.0 324.6,409.0 320.4,405.6 316.1,402.7 312.0,400.3 308.2,398.5 305.1,397.2 302.9,396.3 301.6,395.9 301.1,395.8 301.0,395.7Z" fill="#25858E" fill-opacity="0.5"/>
<path d="M301.0,395.7 301.1,395.8 301.6,395.9 302.9,396.4 305.1,397.2 308.2,398.5 312.0,400.4 316.1,402.9 320.4,405.9 324.6,409.4 328.5,413.5 332.3,418.2 335.9,423.5 339.3,429.7 342.7,436.9 346.1,445.2 349.6,454.7 353.3,465.4 357.2,477.5 361.2,490.8 365.5,505.4 370.0,521.1 374.7,537.7 379.5,555.0 384.4,572.6 389.3,590.2 394.1,607.5 398.8,624.1 403.3,639.8 407.6,654.4 411.6,667.7 415.5,679.7 419.2,690.5 422.7,700.0 426.1,708.3 429.5,715.5 432.9,721.6 436.5,727.0 440.3,731.7 444.2,735.8 448.4,739.3 452.7,742.3 456.8,744.7 460.6,746.6 463.7,748.0 465.9,748.8 467.2,749.3 467.7,749.4 467.8,749.5 467.8,750.7 467.7,750.7 467.2,750.5 465.9,750.1 463.7,749.3 460.6,747.9 456.8,746.0 452.7,743.6 448.4,740.6 444.2,737.0 440.3,733.0 436.5,728.3 432.9,722.9 429.5,716.7 426.1,709.6 422.7,701.3 419.2,691.8 415.5,681.0 411.6,669.0 407.6,655.6 403.3,641.0 398.8,625.3 394.1,608.7 389.3,591.5 384.4,573.9 379.5,556.3 374.7,539.0 370.0,522.4 365.5,506.7 361.2,492.1 357.2,478.8 353.3,466.7 349.6,456.0 346.1,446.4 342.7,438.2 339.3,431.0 335.9,424.8 332.3,419.4 328.5,414.8 324.6,410.7 320.4,407.2 316.1,404.2 312.0,401.7 308.2,399.8 305.1,398.5 302.9,397.6 301.6,397.2 301.1,397.0 301.0,397.0Z" fill="#25858E" fill-opacity="0.5"/>
<path d="M301.0,397.0 301.1,397.0 301.6,396.9 302.9,396.6 305.1,396.0 308.2,395.2 312.0,393.9 316.1,392.3 320.4,390.4 324.6,388.1 328.5,385.4 332.3,382.4 335.9,378.9 339.3,374.9 342.7,370.2 346.1,364.8 349.6,358.6 353.3,351.6 357.2,343.8 361.2,335.1 365.5,325.6 370.0,315.4 374.7,304.5 379.5,293.3 384.4,281.8 389.3,270.4 394.1,259.1 398.8,248.3 403.3,238.1 407.6,228.6 411.6,219.9 415.5,212.1 419.2,205.1 422.7,198.9 426.1,193.5 429.5,188.8 432.9,184.8 436.5,181.3 440.3,178.2 444.2,175.6 448.4,173.3 452.7,171.3 456.8,169.7 460.6,168.5 463.7,167.6 465.9,167.1 467.2,166.8 467.7,166.7 467.8,166.7 467.8,182.2 467.7,182.3 467.2,182.4 465.9,182.6 463.7,183.2 460.6,184.1 456.8,185.3 452.7,186.9 448.4,188.9 444.2,191.1 440.3,193.8 436.5,196.8 432.9,200.3 429.5,204.4 426.1,209.0 422.7,214.4 419.2,220.6 415.5,227.6 411.6,235.5 407.6,244.2 403.3,253.7 398.8,263.9 394.1,274.7 389.3,285.9 384.4,297.4 379.5,308.9 374.7,320.1 370.0,330.9 365.5,341.1 361.2,350.6 357.2,359.3 353.3,367.2 349.6,374.2 346.1,380.4 342.7,385.8 339.3,390.4 335.9,394.5 332.3,398.0 328.5,401.0 324.6,403.7 320.4,406.0 316.1,407.9 312.0,409.5 308.2,410.7 305.1,411.6 302.9,412.2 301.6,412.4 301.1,412.6 301.0,412.6Z" fill="#1E9B8A" fill-opacity="0.5"/>
<path d="M301.0,412.6 301.1,412.6 301.6,412.5 302.9,412.3 305.1,411.9 308.2,411.3 312.0,410.5 316.1,409.4 320.4,408.1 324.6,406.6 328.5,404.8 332.3,402.8 335.9,400.4 339.3,397.8 342.7,394.6 346.1,391.0 349.6,386.9 353.3,382.2 357.2,376.9 361.2,371.1 365.5,364.8 370.0,357.9 374.7,350.7 379.5,343.2 384.4,335.5 389.3,327.8 394.1,320.3 398.8,313.1 403.3,306.3 407.6,299.9 411.6,294.1 415.5,288.8 419.2,284.2 422.7,280.0 426.1,276.4 429.5,273.3 432.9,270.6 436.5,268.2 440.3,266.2 444.2,264.4 448.4,262.9 452.7,261.6 456.8,260.5 460.6,259.7 463.7,259.1 465.9,258.7 467.2,258.6 467.7,258.5 467.8,258.5 467.8,261.5 467.7,261.5 467.2,261.6 465.9,261.8 463.7,262.1 460.6,262.7 456.8,263.6 452.7,264.6 448.4,265.9 444.2,267.5 440.3,269.2 436.5,271.3 432.9,273.6 429.5,276.3 426.1,279.4 422.7,283.0 419.2,287.2 415.5,291.9 411.6,297.1 407.6,302.9 403.3,309.3 398.8,316.1 394.1,323.4 389.3,330.9 384.4,338.6 379.5,346.2 374.7,353.7 370.0,361.0 365.5,367.8 361.2,374.2 357.2,380.0 353.3,385.2 349.6,389.9 346.1,394.1 342.7,397.7 339.3,400.8 335.9,403.5 332.3,405.8 328.5,407.9 324.6,409.6 320.4,411.2 316.1,412.5 312.0,413.6 308.2,414.4 305.1,415.0 302.9,415.3 301.6,415.5 301.1,415.6 301.0,415.6Z" fill="#1E9B8A" fill-opacity="0.5"/>
<path d="M301.0,415.6 301.1,415.6 301.6,415.5 302.9,415.4 305.1,415.1 308.2,414.7 312.0,414.1 316.1,413.4 320.4,412.4 324.6,411.3 328.5,410.0 332.3,408.6 335.9,406.9 339.3,404.9 342.7,402.7 346.1,400.1 349.6,397.1 353.3,393.7 357.2,389.9 361.2,385.7 365.5,381.1 370.0,376.2 374.7,371.0 379.5,365.6 384.4,360.0 389.3,354.5 394.1,349.1 398.8,343.8 403.3,338.9 407.6,334.3 411.6,330.1 415.5,326.4 419.2,323.0 422.7,320.0 426.1,317.4 429.5,315.1 432.9,313.2 436.5,311.5 440.3,310.0 444.2,308.7 448.4,307.6 452.7,306.7 456.8,305.9 460.6,305.3 463.7,304.9 465.9,304.6 467.2,304.5 467.7,304.5 467.8,304.4 467.8,313.9 467.7,313.9 467.2,313.9 465.9,314.1 463.7,314.3 460.6,314.7 456.8,315.3 452.7,316.1 448.4,317.1 444.2,318.2 440.3,319.4 436.5,320.9 432.9,322.6 429.5,324.6 426.1,326.8 422.7,329.4 419.2,332.4 415.5,335.8 411.6,339.6 407.6,343.8 403.3,348.3 398.8,353.3 394.1,358.5 389.3,363.9 384.4,369.4 379.5,375.0 374.7,380.4 370.0,385.6 365.5,390.6 361.2,395.1 357.2,399.3 353.3,403.1 349.6,406.5 346.1,409.5 342.7,412.1 339.3,414.3 335.9,416.3 332.3,418.0 328.5,419.4 324.6,420.7 320.4,421.8 316.1,422.8 312.0,423.5 308.2,424.1 305.1,424.6 302.9,424.8 301.6,425.0 301.1,425.0 301.0,425.0Z" fill="#1E9B8A" fill-opacity="0.5"/>
<path d="M301.0,425.0 301.1,425.0 301.6,425.0 302.9,424.9 305.1,424.8 308.2,424.7 312.0,424.4 316.1,424.1 320.4,423.8 324.6,423.3 328.5,422.8 332.3,422.3 335.9,421.6 339.3,420.8 342.7,420.0 346.1,419.0 349.6,417.8 353.3,416.5 357.2,415.0 361.2,413.3 365.5,411.6 370.0,409.6 374.7,407.6 379.5,405.5 384.4,403.3 389.3,401.1 394.1,399.0 398.8,397.0 403.3,395.1 407.6,393.3 411.6,391.6 415.5,390.1 419.2,388.8 422.7,387.7 426.1,386.6 429.5,385.8 432.9,385.0 436.5,384.3 440.3,383.8 444.2,383.3 448.4,382.8 452.7,382.5 456.8,382.2 460.6,381.9 463.7,381.8 465.9,381.7 467.2,381.6 467.7,381.6 467.8,381.6 467.8,394.6 467.7,394.6 467.2,394.6 465.9,394.6 463.7,394.7 460.6,394.9 456.8,395.1 452.7,395.4 448.4,395.8 444.2,396.2 440.3,396.7 436.5,397.3 432.9,398.0 429.5,398.7 426.1,399.6 422.7,400.6 419.2,401.8 415.5,403.1 411.6,404.6 407.6,406.2 403.3,408.0 398.8,410.0 394.1,412.0 389.3,414.1 384.4,416.3 379.5,418.4 374.7,420.6 370.0,422.6 365.5,424.5 361.2,426.3 357.2,428.0 353.3,429.4 349.6,430.8 346.1,431.9 342.7,433.0 339.3,433.8 335.9,434.6 332.3,435.3 328.5,435.8 324.6,436.3 320.4,436.8 316.1,437.1 312.0,437.4 308.2,437.7 305.1,437.8 302.9,437.9 301.6,438.0 301.1,438.0 301.0,438.0Z" fill="#1E9B8A" fill-opacity="0.5"/>
<path d="M301.0,438.01C374.4,438.01 394.4,455.57 467.8,455.57L467.8,473.36C394.4,473.36 374.4,455.80 301.0,455.80Z" fill="#1E9B8A" fill-opacity="0.5"/>
<path d="M301.0,455.8 301.1,455.8 301.6,455.8 302.9,455.9 305.1,456.0 308.2,456.3 312.0,456.6 316.1,457.0 320.4,457.6 324.6,458.2 328.5,458.9 332.3,459.7 335.9,460.6 339.3,461.7 342.7,462.9 346.1,464.3 349.6,466.0 353.3,467.8 357.2,469.9 361.2,472.2 365.5,474.7 370.0,477.5 374.7,480.3 379.5,483.3 384.4,486.4 389.3,489.4 394.1,492.4 398.8,495.2 403.3,498.0 407.6,500.5 411.6,502.8 415.5,504.9 419.2,506.7 422.7,508.4 426.1,509.8 429.5,511.0 432.9,512.1 436.5,513.0 440.3,513.8 444.2,514.5 448.4,515.2 452.7,515.7 456.8,516.1 460.6,516.4 463.7,516.7 465.9,516.8 467.2,516.9 467.7,516.9 467.8,516.9 467.8,531.1 467.7,531.1 467.2,531.1 465.9,531.0 463.7,530.9 460.6,530.6 456.8,530.3 452.7,529.9 448.4,529.4 444.2,528.7 440.3,528.0 436.5,527.2 432.9,526.3 429.5,525.2 426.1,524.0 422.7,522.6 419.2,520.9 415.5,519.1 411.6,517.0 407.6,514.7 403.3,512.2 398.8,509.5 394.1,506.6 389.3,503.6 384.4,500.6 379.5,497.5 374.7,494.5 370.0,491.7 365.5,489.0 361.2,486.4 357.2,484.1 353.3,482.0 349.6,480.2 346.1,478.5 342.7,477.1 339.3,475.9 335.9,474.8 332.3,473.9 328.5,473.1 324.6,472.4 320.4,471.8 316.1,471.2 312.0,470.8 308.2,470.5 305.1,470.3 302.9,470.1 301.6,470.0 301.1,470.0 301.0,470.0Z" fill="#1E9B8A" fill-opacity="0.5"/>
<path d="M301.0,470.0 301.1,470.0 301.6,470.1 302.9,470.2 305.1,470.4 308.2,470.9 312.0,471.4 316.1,472.2 320.4,473.1 324.6,474.2 328.5,475.4 332.3,476.8 335.9,478.5 339.3,480.3 342.7,482.5 346.1,485.0 349.6,487.9 353.3,491.2 357.2,494.9 361.2,498.9 365.5,503.4 370.0,508.1 374.7,513.2 379.5,518.4 384.4,523.8 389.3,529.2 394.1,534.4 398.8,539.5 403.3,544.2 407.6,548.7 411.6,552.7 415.5,556.4 419.2,559.7 422.7,562.6 426.1,565.1 429.5,567.3 432.9,569.1 436.5,570.8 440.3,572.2 444.2,573.4 448.4,574.5 452.7,575.4 456.8,576.2 460.6,576.8 463.7,577.2 465.9,577.4 467.2,577.6 467.7,577.6 467.8,577.6 467.8,600.7 467.7,600.7 467.2,600.6 465.9,600.5 463.7,600.2 460.6,599.8 456.8,599.2 452.7,598.5 448.4,597.6 444.2,596.5 440.3,595.3 436.5,593.9 432.9,592.2 429.5,590.3 426.1,588.2 422.7,585.6 419.2,582.7 415.5,579.5 411.6,575.8 407.6,571.7 403.3,567.3 398.8,562.5 394.1,557.5 389.3,552.2 384.4,546.9 379.5,541.5 374.7,536.3 370.0,531.2 365.5,526.4 361.2,522.0 357.2,517.9 353.3,514.3 349.6,511.0 346.1,508.1 342.7,505.6 339.3,503.4 335.9,501.5 332.3,499.9 328.5,498.5 324.6,497.2 320.4,496.2 316.1,495.3 312.0,494.5 308.2,493.9 305.1,493.5 302.9,493.3 301.6,493.1 301.1,493.1 301.0,493.1Z" fill="#1E9B8A" fill-opacity="0.5"/>
<path d="M301.0,493.1 301.1,493.1 301.6,493.2 302.9,493.3 305.1,493.7 308.2,494.3 312.0,495.1 316.1,496.2 320.4,497.5 324.6,499.0 328.5,500.8 332.3,502.8 335.9,505.1 339.3,507.8 342.7,510.9 346.1,514.5 349.6,518.7 353.3,523.3 357.2,528.6 361.2,534.4 365.5,540.7 370.0,547.5 374.7,554.7 379.5,562.2 384.4,569.8 389.3,577.5 394.1,585.0 398.8,592.2 403.3,599.0 407.6,605.3 411.6,611.1 415.5,616.3 419.2,621.0 422.7,625.1 426.1,628.7 429.5,631.8 432.9,634.5 436.5,636.9 440.3,638.9 444.2,640.7 448.4,642.2 452.7,643.5 456.8,644.6 460.6,645.4 463.7,646.0 465.9,646.3 467.2,646.5 467.7,646.6 467.8,646.6 467.8,658.9 467.7,658.9 467.2,658.8 465.9,658.7 463.7,658.3 460.6,657.7 456.8,656.9 452.7,655.8 448.4,654.5 444.2,653.0 440.3,651.2 436.5,649.2 432.9,646.9 429.5,644.2 426.1,641.1 422.7,637.5 419.2,633.3 415.5,628.7 411.6,623.4 407.6,617.6 403.3,611.3 398.8,604.5 394.1,597.3 389.3,589.8 384.4,582.2 379.5,574.5 374.7,567.0 370.0,559.8 365.5,553.0 361.2,546.7 357.2,540.9 353.3,535.6 349.6,531.0 346.1,526.9 342.7,523.3 339.3,520.1 335.9,517.5 332.3,515.1 328.5,513.1 324.6,511.3 320.4,509.8 316.1,508.5 312.0,507.4 308.2,506.6 305.1,506.0 302.9,505.7 301.6,505.5 301.1,505.4 301.0,505.4Z" fill="#1E9B8A" fill-opacity="0.5"/>
<path d="M301.0,505.4 301.1,505.4 301.6,505.5 302.9,505.7 305.1,506.2 308.2,506.9 312.0,507.9 316.1,509.2 320.4,510.7 324.6,512.6 328.5,514.7 332.3,517.2 335.9,520.0 339.3,523.2 342.7,527.0 346.1,531.4 349.6,536.4 353.3,542.0 357.2,548.3 361.2,555.3 365.5,563.0 370.0,571.2 374.7,580.0 379.5,589.0 384.4,598.3 389.3,607.5 394.1,616.6 398.8,625.3 403.3,633.6 407.6,641.2 411.6,648.2 415.5,654.6 419.2,660.2 422.7,665.2 426.1,669.6 429.5,673.3 432.9,676.6 436.5,679.4 440.3,681.8 444.2,684.0 448.4,685.8 452.7,687.4 456.8,688.7 460.6,689.7 463.7,690.4 465.9,690.8 467.2,691.1 467.7,691.2 467.8,691.2 467.8,698.4 467.7,698.4 467.2,698.3 465.9,698.1 463.7,697.7 460.6,696.9 456.8,695.9 452.7,694.7 448.4,693.1 444.2,691.2 440.3,689.1 436.5,686.6 432.9,683.8 429.5,680.6 426.1,676.8 422.7,672.5 419.2,667.5 415.5,661.8 411.6,655.5 407.6,648.5 403.3,640.8 398.8,632.6 394.1,623.8 389.3,614.8 384.4,605.5 379.5,596.3 374.7,587.2 370.0,578.5 365.5,570.2 361.2,562.6 357.2,555.6 353.3,549.3 349.6,543.6 346.1,538.6 342.7,534.3 339.3,530.5 335.9,527.2 332.3,524.4 328.5,522.0 324.6,519.8 320.4,518.0 316.1,516.4 312.0,515.1 308.2,514.1 305.1,513.4 302.9,513.0 301.6,512.7 301.1,512.7 301.0,512.6Z" fill="#1E9B8A" fill-opacity="0.5"/>
<path d="M301.0,512.6 301.1,512.7 301.6,512.7 302.9,513.0 305.1,513.5 308.2,514.3 312.0,515.4 316.1,516.8 320.4,518.6 324.6,520.7 328.5,523.1 332.3,525.8 335.9,529.0 339.3,532.6 342.7,536.8 346.1,541.7 349.6,547.3 353.3,553.6 357.2,560.7 361.2,568.5 365.5,577.1 370.0,586.3 374.7,596.1 379.5,606.2 384.4,616.6 389.3,626.9 394.1,637.0 398.8,646.8 403.3,656.0 407.6,664.6 411.6,672.4 415.5,679.5 419.2,685.8 422.7,691.4 426.1,696.3 429.5,700.5 432.9,704.1 436.5,707.3 440.3,710.0 444.2,712.4 448.4,714.5 452.7,716.3 456.8,717.7 460.6,718.8 463.7,719.6 465.9,720.1 467.2,720.4 467.7,720.5 467.8,720.5 467.8,724.9 467.7,724.9 467.2,724.8 465.9,724.5 463.7,724.0 460.6,723.2 456.8,722.1 452.7,720.7 448.4,718.9 444.2,716.8 440.3,714.5 436.5,711.7 432.9,708.5 429.5,704.9 426.1,700.7 422.7,695.8 419.2,690.3 415.5,683.9 411.6,676.9 407.6,669.0 403.3,660.4 398.8,651.2 394.1,641.5 389.3,631.3 384.4,621.0 379.5,610.6 374.7,600.5 370.0,590.7 365.5,581.5 361.2,572.9 357.2,565.1 353.3,558.0 349.6,551.7 346.1,546.1 342.7,541.2 339.3,537.0 335.9,533.4 332.3,530.2 328.5,527.5 324.6,525.1 320.4,523.0 316.1,521.3 312.0,519.8 308.2,518.7 305.1,517.9 302.9,517.4 301.6,517.2 301.1,517.1 301.0,517.1Z" fill="#1E9B8A" fill-opacity="0.5"/>
<path d="M301.0,517.1 301.1,517.1 301.6,517.2 302.9,517.4 305.1,518.0 308.2,518.8 312.0,520.0 316.1,521.6 320.4,523.4 324.6,525.6 328.5,528.2 332.3,531.1 335.9,534.5 339.3,538.4 342.7,542.9 346.1,548.1 349.6,554.0 353.3,560.8 357.2,568.3 361.2,576.7 365.5,585.8 370.0,595.6 374.7,606.1 379.5,616.9 384.4,627.9 389.3,639.0 394.1,649.8 398.8,660.2 403.3,670.0 407.6,679.2 411.6,687.5 415.5,695.1 419.2,701.8 422.7,707.8 426.1,713.0 429.5,717.5 432.9,721.3 436.5,724.7 440.3,727.6 444.2,730.2 448.4,732.4 452.7,734.3 456.8,735.8 460.6,737.0 463.7,737.9 465.9,738.4 467.2,738.7 467.7,738.8 467.8,738.8 467.8,740.2 467.7,740.2 467.2,740.1 465.9,739.8 463.7,739.3 460.6,738.5 456.8,737.3 452.7,735.7 448.4,733.8 444.2,731.6 440.3,729.1 436.5,726.1 432.9,722.8 429.5,718.9 426.1,714.4 422.7,709.2 419.2,703.3 415.5,696.5 411.6,689.0 407.6,680.6 403.3,671.5 398.8,661.6 394.1,651.2 389.3,640.4 384.4,629.4 379.5,618.3 374.7,607.5 370.0,597.1 365.5,587.3 361.2,578.1 357.2,569.7 353.3,562.2 349.6,555.5 346.1,549.5 342.7,544.3 339.3,539.8 335.9,535.9 332.3,532.6 328.5,529.6 324.6,527.1 320.4,524.9 316.1,523.0 312.0,521.5 308.2,520.3 305.1,519.4 302.9,518.9 301.6,518.6 301.1,518.5 301.0,518.5Z" fill="#1E9B8A" fill-opacity="0.5"/>
<path d="M301.0,518.5 301.1,518.5 301.6,518.6 302.9,518.9 305.1,519.5 308.2,520.3 312.0,521.6 316.1,523.2 320.4,525.2 324.6,527.5 328.5,530.2 332.3,533.2 335.9,536.8 339.3,540.8 342.7,545.5 346.1,551.0 349.6,557.2 353.3,564.3 357.2,572.2 361.2,580.9 365.5,590.5 370.0,600.8 374.7,611.7 379.5,623.1 384.4,634.6 389.3,646.2 394.1,657.5 398.8,668.4 403.3,678.7 407.6,688.3 411.6,697.0 415.5,705.0 419.2,712.0 422.7,718.3 426.1,723.7 429.5,728.4 432.9,732.5 436.5,736.0 440.3,739.1 444.2,741.7 448.4,744.1 452.7,746.0 456.8,747.6 460.6,748.9 463.7,749.8 465.9,750.3 467.2,750.6 467.7,750.7 467.8,750.7 467.8,753.7 467.7,753.7 467.2,753.6 465.9,753.3 463.7,752.8 460.6,751.9 456.8,750.6 452.7,749.0 448.4,747.0 444.2,744.7 440.3,742.1 436.5,739.0 432.9,735.5 429.5,731.4 426.1,726.7 422.7,721.3 419.2,715.0 415.5,708.0 411.6,700.0 407.6,691.3 403.3,681.7 398.8,671.4 394.1,660.5 389.3,649.2 384.4,637.6 379.5,626.1 374.7,614.7 370.0,603.8 365.5,593.5 361.2,583.9 357.2,575.2 353.3,567.3 349.6,560.2 346.1,554.0 342.7,548.5 339.3,543.8 335.9,539.8 332.3,536.2 328.5,533.2 324.6,530.5 320.4,528.2 316.1,526.2 312.0,524.6 308.2,523.3 305.1,522.5 302.9,521.9 301.6,521.6 301.1,521.5 301.0,521.5Z" fill="#1E9B8A" fill-opacity="0.5"/>
<path d="M301.0,521.5 301.1,521.5 301.6,521.3 302.9,520.9 305.1,520.1 308.2,518.8 312.0,517.0 316.1,514.6 320.4,511.8 324.6,508.4 328.5,504.5 332.3,500.0 335.9,494.8 339.3,488.9 342.7,482.0 346.1,474.1 349.6,465.0 353.3,454.6 357.2,443.1 361.2,430.3 365.5,416.3 370.0,401.2 374.7,385.3 379.5,368.8 384.4,351.9 389.3,335.0 394.1,318.4 398.8,302.5 403.3,287.4 407.6,273.5 411.6,260.7 415.5,249.1 419.2,238.8 422.7,229.7 426.1,221.7 429.5,214.9 432.9,208.9 436.5,203.8 440.3,199.3 444.2,195.4 448.4,192.0 452.7,189.1 456.8,186.8 460.6,184.9 463.7,183.6 465.9,182.8 467.2,182.4 467.7,182.3 467.8,182.2 467.8,192.8 467.7,192.9 467.2,193.0 465.9,193.4 463.7,194.2 460.6,195.5 456.8,197.4 452.7,199.7 448.4,202.6 444.2,206.0 440.3,209.9 436.5,214.4 432.9,219.5 429.5,225.4 426.1,232.3 422.7,240.3 419.2,249.4 415.5,259.7 411.6,271.3 407.6,284.0 403.3,298.0 398.8,313.1 394.1,329.0 389.3,345.6 384.4,362.5 379.5,379.4 374.7,395.9 370.0,411.8 365.5,426.9 361.2,440.9 357.2,453.7 353.3,465.2 349.6,475.6 346.1,484.7 342.7,492.6 339.3,499.5 335.9,505.4 332.3,510.6 328.5,515.1 324.6,519.0 320.4,522.4 316.1,525.2 312.0,527.6 308.2,529.4 305.1,530.7 302.9,531.5 301.6,531.9 301.1,532.1 301.0,532.1Z" fill="#2BB07F" fill-opacity="0.5"/>
<path d="M301.0,532.1 301.1,532.1 301.6,532.0 302.9,531.6 305.1,531.0 308.2,529.9 312.0,528.5 316.1,526.6 320.4,524.3 324.6,521.6 328.5,518.5 332.3,514.9 335.9,510.8 339.3,506.1 342.7,500.6 346.1,494.3 349.6,487.0 353.3,478.8 357.2,469.6 361.2,459.3 365.5,448.2 370.0,436.2 374.7,423.5 379.5,410.3 384.4,396.8 389.3,383.3 394.1,370.1 398.8,357.4 403.3,345.4 407.6,334.3 411.6,324.1 415.5,314.8 419.2,306.6 422.7,299.3 426.1,293.0 429.5,287.5 432.9,282.8 436.5,278.7 440.3,275.1 444.2,272.0 448.4,269.3 452.7,267.0 456.8,265.1 460.6,263.7 463.7,262.6 465.9,262.0 467.2,261.6 467.7,261.5 467.8,261.5 467.8,262.9 467.7,262.9 467.2,263.0 465.9,263.4 463.7,264.0 460.6,265.1 456.8,266.5 452.7,268.4 448.4,270.7 444.2,273.4 440.3,276.5 436.5,280.1 432.9,284.2 429.5,288.9 426.1,294.4 422.7,300.7 419.2,308.0 415.5,316.2 411.6,325.4 407.6,335.7 403.3,346.8 398.8,358.8 394.1,371.5 389.3,384.7 384.4,398.2 379.5,411.7 374.7,424.9 370.0,437.6 365.5,449.6 361.2,460.7 357.2,470.9 353.3,480.2 349.6,488.4 346.1,495.7 342.7,502.0 339.3,507.5 335.9,512.2 332.3,516.3 328.5,519.9 324.6,523.0 320.4,525.7 316.1,528.0 312.0,529.9 308.2,531.3 305.1,532.4 302.9,533.0 301.6,533.4 301.1,533.5 301.0,533.5Z" fill="#2BB07F" fill-opacity="0.5"/>
<path d="M301.0,533.5 301.1,533.5 301.6,533.4 302.9,533.1 305.1,532.6 308.2,531.7 312.0,530.6 316.1,529.0 320.4,527.2 324.6,525.0 328.5,522.5 332.3,519.6 335.9,516.2 339.3,512.4 342.7,507.9 346.1,502.8 349.6,496.9 353.3,490.2 357.2,482.7 361.2,474.4 365.5,465.4 370.0,455.6 374.7,445.3 379.5,434.6 384.4,423.7 389.3,412.7 394.1,402.0 398.8,391.7 403.3,382.0 407.6,372.9 411.6,364.6 415.5,357.2 419.2,350.5 422.7,344.6 426.1,339.4 429.5,335.0 432.9,331.1 436.5,327.8 440.3,324.9 444.2,322.4 448.4,320.2 452.7,318.3 456.8,316.8 460.6,315.6 463.7,314.8 465.9,314.2 467.2,314.0 467.7,313.9 467.8,313.9 467.8,323.0 467.7,323.0 467.2,323.1 465.9,323.4 463.7,323.9 460.6,324.7 456.8,325.9 452.7,327.4 448.4,329.3 444.2,331.5 440.3,334.0 436.5,336.9 432.9,340.3 429.5,344.1 426.1,348.5 422.7,353.7 419.2,359.6 415.5,366.3 411.6,373.7 407.6,382.0 403.3,391.1 398.8,400.8 394.1,411.1 389.3,421.9 384.4,432.8 379.5,443.7 374.7,454.4 370.0,464.8 365.5,474.5 361.2,483.6 357.2,491.8 353.3,499.3 349.6,506.0 346.1,511.9 342.7,517.0 339.3,521.5 335.9,525.3 332.3,528.7 328.5,531.6 324.6,534.1 320.4,536.3 316.1,538.2 312.0,539.7 308.2,540.9 305.1,541.7 302.9,542.2 301.6,542.5 301.1,542.6 301.0,542.6Z" fill="#2BB07F" fill-opacity="0.5"/>
<path d="M301.0,542.6 301.1,542.6 301.6,542.5 302.9,542.3 305.1,542.0 308.2,541.4 312.0,540.6 316.1,539.6 320.4,538.4 324.6,536.9 328.5,535.2 332.3,533.2 335.9,531.0 339.3,528.4 342.7,525.4 346.1,521.9 349.6,517.9 353.3,513.4 357.2,508.4 361.2,502.8 365.5,496.7 370.0,490.1 374.7,483.2 379.5,476.0 384.4,468.6 389.3,461.2 394.1,454.0 398.8,447.0 403.3,440.5 407.6,434.4 411.6,428.8 415.5,423.7 419.2,419.2 422.7,415.3 426.1,411.8 429.5,408.8 432.9,406.2 436.5,404.0 440.3,402.0 444.2,400.3 448.4,398.8 452.7,397.6 456.8,396.5 460.6,395.7 463.7,395.2 465.9,394.8 467.2,394.6 467.7,394.6 467.8,394.6 467.8,403.3 467.7,403.3 467.2,403.3 465.9,403.5 463.7,403.9 460.6,404.4 456.8,405.2 452.7,406.2 448.4,407.5 444.2,409.0 440.3,410.7 436.5,412.6 432.9,414.9 429.5,417.5 426.1,420.5 422.7,423.9 419.2,427.9 415.5,432.4 411.6,437.5 407.6,443.1 403.3,449.2 398.8,455.7 394.1,462.7 389.3,469.9 384.4,477.3 379.5,484.6 374.7,491.9 370.0,498.8 365.5,505.4 361.2,511.5 357.2,517.1 353.3,522.1 349.6,526.6 346.1,530.6 342.7,534.1 339.3,537.1 335.9,539.6 332.3,541.9 328.5,543.9 324.6,545.6 320.4,547.0 316.1,548.3 312.0,549.3 308.2,550.1 305.1,550.7 302.9,551.0 301.6,551.2 301.1,551.3 301.0,551.3Z" fill="#2BB07F" fill-opacity="0.5"/>
<path d="M301.0,551.3 301.1,551.3 301.6,551.2 302.9,551.2 305.1,551.0 308.2,550.7 312.0,550.3 316.1,549.7 320.4,549.1 324.6,548.3 328.5,547.4 332.3,546.3 335.9,545.2 339.3,543.8 342.7,542.2 346.1,540.4 349.6,538.3 353.3,535.9 357.2,533.3 361.2,530.3 365.5,527.1 370.0,523.7 374.7,520.0 379.5,516.2 384.4,512.3 389.3,508.4 394.1,504.6 398.8,501.0 403.3,497.5 407.6,494.3 411.6,491.4 415.5,488.7 419.2,486.3 422.7,484.3 426.1,482.4 429.5,480.9 432.9,479.5 436.5,478.3 440.3,477.3 444.2,476.4 448.4,475.6 452.7,474.9 456.8,474.4 460.6,474.0 463.7,473.7 465.9,473.5 467.2,473.4 467.7,473.4 467.8,473.4 467.8,479.9 467.7,479.9 467.2,479.9 465.9,480.0 463.7,480.2 460.6,480.5 456.8,480.9 452.7,481.4 448.4,482.1 444.2,482.9 440.3,483.8 436.5,484.8 432.9,486.0 429.5,487.4 426.1,488.9 422.7,490.8 419.2,492.8 415.5,495.2 411.6,497.9 407.6,500.8 403.3,504.0 398.8,507.5 394.1,511.1 389.3,514.9 384.4,518.8 379.5,522.7 374.7,526.5 370.0,530.2 365.5,533.6 361.2,536.8 357.2,539.8 353.3,542.4 349.6,544.8 346.1,546.9 342.7,548.7 339.3,550.3 335.9,551.7 332.3,552.8 328.5,553.9 324.6,554.8 320.4,555.6 316.1,556.2 312.0,556.8 308.2,557.2 305.1,557.5 302.9,557.7 301.6,557.8 301.1,557.8 301.0,557.8Z" fill="#2BB07F" fill-opacity="0.5"/>
<path d="M301.0,557.79C374.4,557.79 394.4,531.11 467.8,531.11L467.8,540.01C394.4,540.01 374.4,566.69 301.0,566.69Z" fill="#2BB07F" fill-opacity="0.5"/>
<path d="M301.0,566.69C374.4,566.69 394.4,600.68 467.8,600.68L467.8,611.49C394.4,611.49 374.4,577.50 301.0,577.50Z" fill="#2BB07F" fill-opacity="0.5"/>
<path d="M301.0,577.5 301.1,577.5 301.6,577.5 302.9,577.6 305.1,577.8 308.2,578.1 312.0,578.6 316.1,579.1 320.4,579.8 324.6,580.6 328.5,581.6 332.3,582.7 335.9,583.9 339.3,585.3 342.7,587.0 346.1,588.9 349.6,591.1 353.3,593.5 357.2,596.3 361.2,599.4 365.5,602.7 370.0,606.4 374.7,610.2 379.5,614.2 384.4,618.2 389.3,622.3 394.1,626.2 398.8,630.1 403.3,633.7 407.6,637.0 411.6,640.1 415.5,642.9 419.2,645.4 422.7,647.5 426.1,649.4 429.5,651.1 432.9,652.5 436.5,653.8 440.3,654.8 444.2,655.8 448.4,656.6 452.7,657.3 456.8,657.8 460.6,658.3 463.7,658.6 465.9,658.8 467.2,658.9 467.7,658.9 467.8,658.9 467.8,667.3 467.7,667.3 467.2,667.2 465.9,667.1 463.7,667.0 460.6,666.6 456.8,666.2 452.7,665.6 448.4,665.0 444.2,664.1 440.3,663.2 436.5,662.1 432.9,660.9 429.5,659.5 426.1,657.8 422.7,655.9 419.2,653.7 415.5,651.2 411.6,648.5 407.6,645.4 403.3,642.0 398.8,638.4 394.1,634.6 389.3,630.6 384.4,626.6 379.5,622.5 374.7,618.6 370.0,614.7 365.5,611.1 361.2,607.8 357.2,604.7 353.3,601.9 349.6,599.4 346.1,597.2 342.7,595.3 339.3,593.7 335.9,592.3 332.3,591.0 328.5,590.0 324.6,589.0 320.4,588.2 316.1,587.5 312.0,586.9 308.2,586.5 305.1,586.2 302.9,586.0 301.6,585.9 301.1,585.9 301.0,585.9Z" fill="#2BB07F" fill-opacity="0.5"/>
<path d="M301.0,585.9 301.1,585.9 301.6,585.9 302.9,586.1 305.1,586.3 308.2,586.8 312.0,587.4 316.1,588.1 320.4,589.1 324.6,590.2 328.5,591.5 332.3,593.0 335.9,594.7 339.3,596.7 342.7,599.0 346.1,601.6 349.6,604.6 353.3,608.0 357.2,611.9 361.2,616.1 365.5,620.8 370.0,625.8 374.7,631.0 379.5,636.5 384.4,642.1 389.3,647.7 394.1,653.2 398.8,658.5 403.3,663.5 407.6,668.2 411.6,672.4 415.5,676.2 419.2,679.7 422.7,682.7 426.1,685.3 429.5,687.6 432.9,689.6 436.5,691.3 440.3,692.8 444.2,694.1 448.4,695.2 452.7,696.1 456.8,696.9 460.6,697.5 463.7,698.0 465.9,698.2 467.2,698.4 467.7,698.4 467.8,698.4 467.8,703.0 467.7,703.0 467.2,703.0 465.9,702.8 463.7,702.6 460.6,702.1 456.8,701.5 452.7,700.8 448.4,699.8 444.2,698.7 440.3,697.4 436.5,695.9 432.9,694.2 429.5,692.2 426.1,689.9 422.7,687.3 419.2,684.3 415.5,680.9 411.6,677.0 407.6,672.8 403.3,668.1 398.8,663.1 394.1,657.9 389.3,652.4 384.4,646.8 379.5,641.2 374.7,635.7 370.0,630.4 365.5,625.4 361.2,620.7 357.2,616.5 353.3,612.7 349.6,609.2 346.1,606.2 342.7,603.6 339.3,601.3 335.9,599.3 332.3,597.6 328.5,596.1 324.6,594.8 320.4,593.7 316.1,592.8 312.0,592.0 308.2,591.4 305.1,590.9 302.9,590.7 301.6,590.5 301.1,590.5 301.0,590.5Z" fill="#2BB07F" fill-opacity="0.5"/>
<path d="M301.0,590.5 301.1,590.5 301.6,590.6 302.9,590.7 305.1,591.0 308.2,591.5 312.0,592.3 316.1,593.2 320.4,594.3 324.6,595.7 328.5,597.2 332.3,599.0 335.9,601.0 339.3,603.4 342.7,606.1 346.1,609.3 349.6,612.9 353.3,617.0 357.2,621.5 361.2,626.6 365.5,632.2 370.0,638.1 374.7,644.4 379.5,651.0 384.4,657.7 389.3,664.4 394.1,670.9 398.8,677.2 403.3,683.2 407.6,688.8 411.6,693.8 415.5,698.4 419.2,702.5 422.7,706.1 426.1,709.2 429.5,712.0 432.9,714.3 436.5,716.4 440.3,718.1 444.2,719.7 448.4,721.0 452.7,722.2 456.8,723.1 460.6,723.8 463.7,724.3 465.9,724.7 467.2,724.8 467.7,724.9 467.8,724.9 467.8,727.8 467.7,727.8 467.2,727.8 465.9,727.6 463.7,727.3 460.6,726.8 456.8,726.1 452.7,725.1 448.4,724.0 444.2,722.6 440.3,721.1 436.5,719.3 432.9,717.3 429.5,714.9 426.1,712.2 422.7,709.1 419.2,705.4 415.5,701.4 411.6,696.8 407.6,691.7 403.3,686.2 398.8,680.2 394.1,673.9 389.3,667.3 384.4,660.6 379.5,654.0 374.7,647.4 370.0,641.1 365.5,635.1 361.2,629.6 357.2,624.5 353.3,619.9 349.6,615.8 346.1,612.2 342.7,609.1 339.3,606.4 335.9,604.0 332.3,602.0 328.5,600.2 324.6,598.6 320.4,597.3 316.1,596.2 312.0,595.2 308.2,594.5 305.1,594.0 302.9,593.7 301.6,593.5 301.1,593.4 301.0,593.4Z" fill="#2BB07F" fill-opacity="0.5"/>
<path d="M301.0,593.4 301.1,593.4 301.6,593.5 302.9,593.7 305.1,594.0 308.2,594.6 312.0,595.4 316.1,596.4 320.4,597.7 324.6,599.1 328.5,600.8 332.3,602.8 335.9,605.0 339.3,607.5 342.7,610.5 346.1,614.0 349.6,617.9 353.3,622.4 357.2,627.4 361.2,632.9 365.5,639.0 370.0,645.5 374.7,652.4 379.5,659.5 384.4,666.8 389.3,674.1 394.1,681.3 398.8,688.2 403.3,694.7 407.6,700.8 411.6,706.3 415.5,711.3 419.2,715.8 422.7,719.7 426.1,723.1 429.5,726.1 432.9,728.7 436.5,730.9 440.3,732.8 444.2,734.5 448.4,736.0 452.7,737.2 456.8,738.3 460.6,739.0 463.7,739.6 465.9,740.0 467.2,740.1 467.7,740.2 467.8,740.2 467.8,741.1 467.7,741.1 467.2,741.0 465.9,740.8 463.7,740.5 460.6,739.9 456.8,739.1 452.7,738.1 448.4,736.9 444.2,735.4 440.3,733.7 436.5,731.8 432.9,729.6 429.5,727.0 426.1,724.0 422.7,720.6 419.2,716.6 415.5,712.2 411.6,707.2 407.6,701.6 403.3,695.6 398.8,689.1 394.1,682.2 389.3,675.0 384.4,667.7 379.5,660.4 374.7,653.2 370.0,646.3 365.5,639.8 361.2,633.8 357.2,628.2 353.3,623.2 349.6,618.8 346.1,614.8 342.7,611.4 339.3,608.4 335.9,605.9 332.3,603.6 328.5,601.7 324.6,600.0 320.4,598.5 316.1,597.3 312.0,596.3 308.2,595.5 305.1,594.9 302.9,594.6 301.6,594.4 301.1,594.3 301.0,594.3Z" fill="#2BB07F" fill-opacity="0.5"/>
<path d="M301.0,594.3 301.1,594.3 301.6,594.4 302.9,594.6 305.1,595.0 308.2,595.6 312.0,596.4 316.1,597.5 320.4,598.9 324.6,600.5 328.5,602.3 332.3,604.4 335.9,606.9 339.3,609.6 342.7,612.9 346.1,616.6 349.6,620.9 353.3,625.7 357.2,631.2 361.2,637.2 365.5,643.7 370.0,650.8 374.7,658.3 379.5,666.1 384.4,674.0 389.3,682.0 394.1,689.7 398.8,697.2 403.3,704.3 407.6,710.9 411.6,716.9 415.5,722.3 419.2,727.2 422.7,731.4 426.1,735.2 429.5,738.4 432.9,741.2 436.5,743.6 440.3,745.7 444.2,747.6 448.4,749.1 452.7,750.5 456.8,751.6 460.6,752.5 463.7,753.1 465.9,753.4 467.2,753.6 467.7,753.7 467.8,753.7 467.8,755.4 467.7,755.4 467.2,755.3 465.9,755.1 463.7,754.7 460.6,754.1 456.8,753.3 452.7,752.2 448.4,750.8 444.2,749.2 440.3,747.4 436.5,745.3 432.9,742.9 429.5,740.1 426.1,736.8 422.7,733.1 419.2,728.8 415.5,724.0 411.6,718.6 407.6,712.5 403.3,706.0 398.8,698.9 394.1,691.4 389.3,683.6 384.4,675.7 379.5,667.8 374.7,660.0 370.0,652.5 365.5,645.4 361.2,638.9 357.2,632.8 353.3,627.4 349.6,622.6 346.1,618.3 342.7,614.5 339.3,611.3 335.9,608.5 332.3,606.1 328.5,604.0 324.6,602.2 320.4,600.6 316.1,599.2 312.0,598.1 308.2,597.3 305.1,596.7 302.9,596.3 301.6,596.1 301.1,596.0 301.0,596.0Z" fill="#2BB07F" fill-opacity="0.5"/>
<path d="M301.0,596.0 301.1,596.0 301.6,595.8 302.9,595.3 305.1,594.3 308.2,592.8 312.0,590.6 316.1,587.8 320.4,584.4 324.6,580.4 328.5,575.8 332.3,570.4 335.9,564.3 339.3,557.2 342.7,549.1 346.1,539.6 349.6,528.8 353.3,516.5 357.2,502.8 361.2,487.6 365.5,471.0 370.0,453.1 374.7,434.2 379.5,414.5 384.4,394.4 389.3,374.4 394.1,354.7 398.8,335.7 403.3,317.8 407.6,301.2 411.6,286.0 415.5,272.3 419.2,260.0 422.7,249.2 426.1,239.8 429.5,231.6 432.9,224.5 436.5,218.4 440.3,213.1 444.2,208.4 448.4,204.4 452.7,201.0 456.8,198.2 460.6,196.0 463.7,194.5 465.9,193.5 467.2,193.0 467.7,192.9 467.8,192.8 467.8,201.2 467.7,201.2 467.2,201.4 465.9,201.9 463.7,202.9 460.6,204.4 456.8,206.6 452.7,209.4 448.4,212.8 444.2,216.8 440.3,221.5 436.5,226.8 432.9,232.9 429.5,240.0 426.1,248.1 422.7,257.6 419.2,268.4 415.5,280.7 411.6,294.4 407.6,309.6 403.3,326.2 398.8,344.1 394.1,363.0 389.3,382.7 384.4,402.8 379.5,422.9 374.7,442.5 370.0,461.5 365.5,479.4 361.2,496.0 357.2,511.2 353.3,524.9 349.6,537.2 346.1,548.0 342.7,557.5 339.3,565.6 335.9,572.7 332.3,578.8 328.5,584.1 324.6,588.8 320.4,592.8 316.1,596.2 312.0,599.0 308.2,601.2 305.1,602.7 302.9,603.7 301.6,604.2 301.1,604.4 301.0,604.4Z" fill="#51C56A" fill-opacity="0.5"/>
<path d="M301.0,604.4 301.1,604.4 301.6,604.2 302.9,603.8 305.1,603.0 308.2,601.7 312.0,599.8 316.1,597.5 320.4,594.6 324.6,591.2 328.5,587.2 332.3,582.7 335.9,577.5 339.3,571.6 342.7,564.6 346.1,556.6 349.6,547.5 353.3,537.1 357.2,525.4 361.2,512.6 365.5,498.5 370.0,483.3 374.7,467.3 379.5,450.6 384.4,433.6 389.3,416.6 394.1,400.0 398.8,383.9 403.3,368.8 407.6,354.7 411.6,341.8 415.5,330.2 419.2,319.8 422.7,310.6 426.1,302.6 429.5,295.7 432.9,289.8 436.5,284.6 440.3,280.0 444.2,276.1 448.4,272.7 452.7,269.8 456.8,267.4 460.6,265.6 463.7,264.3 465.9,263.5 467.2,263.1 467.7,262.9 467.8,262.9 467.8,263.6 467.7,263.6 467.2,263.8 465.9,264.2 463.7,265.0 460.6,266.3 456.8,268.1 452.7,270.5 448.4,273.4 444.2,276.8 440.3,280.7 436.5,285.3 432.9,290.4 429.5,296.4 426.1,303.3 422.7,311.3 419.2,320.5 415.5,330.9 411.6,342.5 407.6,355.4 403.3,369.5 398.8,384.6 394.1,400.7 389.3,417.3 384.4,434.3 379.5,451.3 374.7,468.0 370.0,484.0 365.5,499.2 361.2,513.3 357.2,526.1 353.3,537.8 349.6,548.2 346.1,557.3 342.7,565.3 339.3,572.2 335.9,578.2 332.3,583.4 328.5,587.9 324.6,591.9 320.4,595.3 316.1,598.2 312.0,600.5 308.2,602.4 305.1,603.7 302.9,604.5 301.6,604.9 301.1,605.0 301.0,605.1Z" fill="#51C56A" fill-opacity="0.5"/>
<path d="M301.0,605.1 301.1,605.1 301.6,604.9 302.9,604.6 305.1,603.9 308.2,602.8 312.0,601.3 316.1,599.4 320.4,597.0 324.6,594.2 328.5,590.9 332.3,587.2 335.9,582.9 339.3,578.0 342.7,572.2 346.1,565.6 349.6,558.1 353.3,549.5 357.2,539.9 361.2,529.2 365.5,517.6 370.0,505.1 374.7,491.8 379.5,478.1 384.4,464.0 389.3,450.0 394.1,436.2 398.8,423.0 403.3,410.5 407.6,398.8 411.6,388.2 415.5,378.6 419.2,370.0 422.7,362.4 426.1,355.8 429.5,350.1 432.9,345.2 436.5,340.9 440.3,337.1 444.2,333.9 448.4,331.1 452.7,328.7 456.8,326.7 460.6,325.2 463.7,324.1 465.9,323.5 467.2,323.1 467.7,323.0 467.8,323.0 467.8,324.8 467.7,324.8 467.2,324.9 465.9,325.3 463.7,325.9 460.6,327.0 456.8,328.5 452.7,330.5 448.4,332.9 444.2,335.7 440.3,338.9 436.5,342.7 432.9,347.0 429.5,351.9 426.1,357.6 422.7,364.2 419.2,371.8 415.5,380.4 411.6,390.0 407.6,400.6 403.3,412.2 398.8,424.8 394.1,438.0 389.3,451.8 384.4,465.8 379.5,479.9 374.7,493.6 370.0,506.9 365.5,519.4 361.2,531.0 357.2,541.7 353.3,551.3 349.6,559.8 346.1,567.4 342.7,574.0 339.3,579.7 335.9,584.7 332.3,589.0 328.5,592.7 324.6,595.9 320.4,598.8 316.1,601.1 312.0,603.1 308.2,604.6 305.1,605.7 302.9,606.4 301.6,606.7 301.1,606.8 301.0,606.9Z" fill="#51C56A" fill-opacity="0.5"/>
<path d="M301.0,606.9 301.1,606.8 301.6,606.8 302.9,606.5 305.1,606.0 308.2,605.2 312.0,604.1 316.1,602.7 320.4,601.0 324.6,599.0 328.5,596.6 332.3,593.9 335.9,590.8 339.3,587.3 342.7,583.2 346.1,578.4 349.6,572.9 353.3,566.7 357.2,559.8 361.2,552.1 365.5,543.7 370.0,534.7 374.7,525.1 379.5,515.2 384.4,505.1 389.3,494.9 394.1,485.0 398.8,475.4 403.3,466.4 407.6,458.0 411.6,450.3 415.5,443.4 419.2,437.2 422.7,431.7 426.1,426.9 429.5,422.8 432.9,419.3 436.5,416.2 440.3,413.5 444.2,411.1 448.4,409.1 452.7,407.4 456.8,406.0 460.6,404.9 463.7,404.1 465.9,403.6 467.2,403.4 467.7,403.3 467.8,403.3 467.8,404.5 467.7,404.5 467.2,404.6 465.9,404.8 463.7,405.3 460.6,406.1 456.8,407.2 452.7,408.6 448.4,410.3 444.2,412.4 440.3,414.7 436.5,417.4 432.9,420.5 429.5,424.1 426.1,428.2 422.7,432.9 419.2,438.4 415.5,444.6 411.6,451.5 407.6,459.2 403.3,467.6 398.8,476.7 394.1,486.2 389.3,496.2 384.4,506.3 379.5,516.4 374.7,526.4 370.0,535.9 365.5,545.0 361.2,553.3 357.2,561.0 353.3,568.0 349.6,574.2 346.1,579.6 342.7,584.4 339.3,588.5 335.9,592.1 332.3,595.2 328.5,597.9 324.6,600.2 320.4,602.2 316.1,604.0 312.0,605.4 308.2,606.5 305.1,607.2 302.9,607.7 301.6,608.0 301.1,608.1 301.0,608.1Z" fill="#51C56A" fill-opacity="0.5"/>
<path d="M301.0,608.1 301.1,608.1 301.6,608.0 302.9,607.9 305.1,607.6 308.2,607.1 312.0,606.4 316.1,605.5 320.4,604.4 324.6,603.1 328.5,601.6 332.3,600.0 335.9,598.0 339.3,595.8 342.7,593.2 346.1,590.2 349.6,586.7 353.3,582.8 357.2,578.4 361.2,573.6 365.5,568.3 370.0,562.6 374.7,556.6 379.5,550.4 384.4,544.0 389.3,537.6 394.1,531.3 398.8,525.3 403.3,519.6 407.6,514.3 411.6,509.5 415.5,505.1 419.2,501.2 422.7,497.8 426.1,494.8 429.5,492.2 432.9,489.9 436.5,488.0 440.3,486.3 444.2,484.8 448.4,483.5 452.7,482.5 456.8,481.6 460.6,480.9 463.7,480.4 465.9,480.1 467.2,479.9 467.7,479.9 467.8,479.9 467.8,482.2 467.7,482.2 467.2,482.3 465.9,482.4 463.7,482.7 460.6,483.2 456.8,483.9 452.7,484.8 448.4,485.9 444.2,487.2 440.3,488.6 436.5,490.3 432.9,492.3 429.5,494.5 426.1,497.1 422.7,500.1 419.2,503.6 415.5,507.5 411.6,511.8 407.6,516.7 403.3,522.0 398.8,527.7 394.1,533.7 389.3,539.9 384.4,546.3 379.5,552.7 374.7,559.0 370.0,565.0 365.5,570.7 361.2,576.0 357.2,580.8 353.3,585.2 349.6,589.1 346.1,592.5 342.7,595.5 339.3,598.1 335.9,600.4 332.3,602.3 328.5,604.0 324.6,605.5 320.4,606.8 316.1,607.8 312.0,608.7 308.2,609.4 305.1,609.9 302.9,610.2 301.6,610.4 301.1,610.4 301.0,610.4Z" fill="#51C56A" fill-opacity="0.5"/>
<path d="M301.0,610.4 301.1,610.4 301.6,610.4 302.9,610.3 305.1,610.1 308.2,609.9 312.0,609.5 316.1,609.0 320.4,608.4 324.6,607.7 328.5,606.9 332.3,606.0 335.9,604.9 339.3,603.7 342.7,602.2 346.1,600.6 349.6,598.7 353.3,596.6 357.2,594.2 361.2,591.5 365.5,588.6 370.0,585.5 374.7,582.2 379.5,578.7 384.4,575.2 389.3,571.7 394.1,568.3 398.8,565.0 403.3,561.9 407.6,558.9 411.6,556.3 415.5,553.9 419.2,551.8 422.7,549.9 426.1,548.2 429.5,546.8 432.9,545.6 436.5,544.5 440.3,543.5 444.2,542.7 448.4,542.0 452.7,541.4 456.8,541.0 460.6,540.6 463.7,540.3 465.9,540.1 467.2,540.0 467.7,540.0 467.8,540.0 467.8,543.2 467.7,543.3 467.2,543.3 465.9,543.4 463.7,543.5 460.6,543.8 456.8,544.2 452.7,544.7 448.4,545.3 444.2,546.0 440.3,546.8 436.5,547.7 432.9,548.8 429.5,550.0 426.1,551.4 422.7,553.1 419.2,555.0 415.5,557.1 411.6,559.5 407.6,562.2 403.3,565.1 398.8,568.2 394.1,571.5 389.3,575.0 384.4,578.5 379.5,582.0 374.7,585.4 370.0,588.7 365.5,591.8 361.2,594.7 357.2,597.4 353.3,599.8 349.6,601.9 346.1,603.8 342.7,605.5 339.3,606.9 335.9,608.1 332.3,609.2 328.5,610.1 324.6,610.9 320.4,611.6 316.1,612.2 312.0,612.7 308.2,613.1 305.1,613.4 302.9,613.5 301.6,613.6 301.1,613.7 301.0,613.7Z" fill="#51C56A" fill-opacity="0.5"/>
<path d="M301.0,613.67C374.4,613.67 394.4,611.49 467.8,611.49L467.8,618.37C394.4,618.37 374.4,620.55 301.0,620.55Z" fill="#51C56A" fill-opacity="0.5"/>
<path d="M301.0,620.5 301.1,620.6 301.6,620.6 302.9,620.6 305.1,620.7 308.2,620.9 312.0,621.2 316.1,621.5 320.4,621.9 324.6,622.4 328.5,622.9 332.3,623.5 335.9,624.2 339.3,625.0 342.7,626.0 346.1,627.1 349.6,628.3 353.3,629.8 357.2,631.4 361.2,633.1 365.5,635.0 370.0,637.1 374.7,639.3 379.5,641.6 384.4,643.9 389.3,646.2 394.1,648.5 398.8,650.7 403.3,652.8 407.6,654.7 411.6,656.5 415.5,658.1 419.2,659.5 422.7,660.8 426.1,661.9 429.5,662.8 432.9,663.6 436.5,664.3 440.3,664.9 444.2,665.5 448.4,665.9 452.7,666.3 456.8,666.7 460.6,666.9 463.7,667.1 465.9,667.2 467.2,667.3 467.7,667.3 467.8,667.3 467.8,672.5 467.7,672.5 467.2,672.5 465.9,672.4 463.7,672.3 460.6,672.1 456.8,671.9 452.7,671.5 448.4,671.1 444.2,670.7 440.3,670.1 436.5,669.5 432.9,668.8 429.5,668.0 426.1,667.0 422.7,665.9 419.2,664.7 415.5,663.3 411.6,661.7 407.6,659.9 403.3,658.0 398.8,655.9 394.1,653.7 389.3,651.4 384.4,649.1 379.5,646.8 374.7,644.5 370.0,642.3 365.5,640.2 361.2,638.3 357.2,636.5 353.3,635.0 349.6,633.5 346.1,632.3 342.7,631.2 339.3,630.2 335.9,629.4 332.3,628.7 328.5,628.1 324.6,627.5 320.4,627.1 316.1,626.7 312.0,626.4 308.2,626.1 305.1,625.9 302.9,625.8 301.6,625.8 301.1,625.7 301.0,625.7Z" fill="#51C56A" fill-opacity="0.5"/>
<path d="M301.0,625.7 301.1,625.7 301.6,625.8 302.9,625.9 305.1,626.1 308.2,626.4 312.0,626.8 316.1,627.3 320.4,628.0 324.6,628.7 328.5,629.6 332.3,630.6 335.9,631.8 339.3,633.2 342.7,634.7 346.1,636.5 349.6,638.6 353.3,641.0 357.2,643.6 361.2,646.5 365.5,649.7 370.0,653.1 374.7,656.8 379.5,660.5 384.4,664.4 389.3,668.2 394.1,672.0 398.8,675.6 403.3,679.1 407.6,682.3 411.6,685.2 415.5,687.8 419.2,690.2 422.7,692.2 426.1,694.0 429.5,695.6 432.9,697.0 436.5,698.1 440.3,699.2 444.2,700.0 448.4,700.8 452.7,701.5 456.8,702.0 460.6,702.4 463.7,702.7 465.9,702.9 467.2,703.0 467.7,703.0 467.8,703.0 467.8,706.7 467.7,706.7 467.2,706.7 465.9,706.6 463.7,706.4 460.6,706.1 456.8,705.7 452.7,705.1 448.4,704.5 444.2,703.7 440.3,702.8 436.5,701.8 432.9,700.6 429.5,699.3 426.1,697.7 422.7,695.9 419.2,693.8 415.5,691.5 411.6,688.8 407.6,685.9 403.3,682.7 398.8,679.3 394.1,675.7 389.3,671.9 384.4,668.1 379.5,664.2 374.7,660.4 370.0,656.8 365.5,653.4 361.2,650.2 357.2,647.3 353.3,644.6 349.6,642.3 346.1,640.2 342.7,638.4 339.3,636.8 335.9,635.5 332.3,634.3 328.5,633.3 324.6,632.4 320.4,631.6 316.1,631.0 312.0,630.4 308.2,630.0 305.1,629.7 302.9,629.5 301.6,629.4 301.1,629.4 301.0,629.4Z" fill="#51C56A" fill-opacity="0.5"/>
<path d="M301.0,629.4 301.1,629.4 301.6,629.5 302.9,629.6 305.1,629.8 308.2,630.2 312.0,630.7 316.1,631.4 320.4,632.2 324.6,633.2 328.5,634.4 332.3,635.7 335.9,637.1 339.3,638.9 342.7,640.9 346.1,643.2 349.6,645.8 353.3,648.8 357.2,652.2 361.2,655.9 365.5,659.9 370.0,664.3 374.7,668.9 379.5,673.7 384.4,678.6 389.3,683.5 394.1,688.3 398.8,693.0 403.3,697.3 407.6,701.4 411.6,705.1 415.5,708.4 419.2,711.4 422.7,714.1 426.1,716.4 429.5,718.4 432.9,720.1 436.5,721.6 440.3,722.9 444.2,724.0 448.4,725.0 452.7,725.9 456.8,726.5 460.6,727.1 463.7,727.4 465.9,727.7 467.2,727.8 467.7,727.8 467.8,727.8 467.8,729.9 467.7,729.9 467.2,729.9 465.9,729.8 463.7,729.5 460.6,729.2 456.8,728.6 452.7,728.0 448.4,727.1 444.2,726.1 440.3,725.0 436.5,723.7 432.9,722.2 429.5,720.5 426.1,718.5 422.7,716.2 419.2,713.5 415.5,710.5 411.6,707.2 407.6,703.5 403.3,699.4 398.8,695.1 394.1,690.4 389.3,685.6 384.4,680.7 379.5,675.8 374.7,671.0 370.0,666.4 365.5,662.0 361.2,658.0 357.2,654.3 353.3,650.9 349.6,647.9 346.1,645.3 342.7,643.0 339.3,641.0 335.9,639.2 332.3,637.8 328.5,636.4 324.6,635.3 320.4,634.3 316.1,633.5 312.0,632.8 308.2,632.3 305.1,631.9 302.9,631.7 301.6,631.6 301.1,631.5 301.0,631.5Z" fill="#51C56A" fill-opacity="0.5"/>
<path d="M301.0,631.5 301.1,631.5 301.6,631.6 302.9,631.7 305.1,632.0 308.2,632.4 312.0,633.0 316.1,633.7 320.4,634.7 324.6,635.7 328.5,637.0 332.3,638.5 335.9,640.1 339.3,642.0 342.7,644.3 346.1,646.8 349.6,649.8 353.3,653.1 357.2,656.8 361.2,661.0 365.5,665.5 370.0,670.4 374.7,675.5 379.5,680.8 384.4,686.3 389.3,691.8 394.1,697.1 398.8,702.2 403.3,707.1 407.6,711.6 411.6,715.8 415.5,719.5 419.2,722.8 422.7,725.8 426.1,728.3 429.5,730.6 432.9,732.5 436.5,734.1 440.3,735.6 444.2,736.9 448.4,737.9 452.7,738.9 456.8,739.6 460.6,740.2 463.7,740.6 465.9,740.9 467.2,741.0 467.7,741.1 467.8,741.1 467.8,741.7 467.7,741.7 467.2,741.6 465.9,741.5 463.7,741.2 460.6,740.8 456.8,740.2 452.7,739.5 448.4,738.5 444.2,737.4 440.3,736.2 436.5,734.7 432.9,733.1 429.5,731.1 426.1,728.9 422.7,726.4 419.2,723.4 415.5,720.1 411.6,716.3 407.6,712.2 403.3,707.7 398.8,702.8 394.1,697.7 389.3,692.3 384.4,686.9 379.5,681.4 374.7,676.1 370.0,670.9 365.5,666.1 361.2,661.6 357.2,657.4 353.3,653.7 349.6,650.4 346.1,647.4 342.7,644.8 339.3,642.6 335.9,640.7 332.3,639.0 328.5,637.6 324.6,636.3 320.4,635.2 316.1,634.3 312.0,633.5 308.2,633.0 305.1,632.5 302.9,632.3 301.6,632.1 301.1,632.1 301.0,632.1Z" fill="#51C56A" fill-opacity="0.5"/>
<path d="M301.0,632.1 301.1,632.1 301.6,632.2 302.9,632.3 305.1,632.6 308.2,633.1 312.0,633.7 316.1,634.6 320.4,635.6 324.6,636.9 328.5,638.3 332.3,639.9 335.9,641.8 339.3,643.9 342.7,646.4 346.1,649.3 349.6,652.6 353.3,656.4 357.2,660.6 361.2,665.2 365.5,670.3 370.0,675.8 374.7,681.6 379.5,687.6 384.4,693.7 389.3,699.9 394.1,705.9 398.8,711.7 403.3,717.2 407.6,722.2 411.6,726.9 415.5,731.1 419.2,734.8 422.7,738.2 426.1,741.0 429.5,743.5 432.9,745.7 436.5,747.6 440.3,749.2 444.2,750.6 448.4,751.9 452.7,752.9 456.8,753.8 460.6,754.4 463.7,754.9 465.9,755.2 467.2,755.3 467.7,755.4 467.8,755.4 467.8,756.3 467.7,756.3 467.2,756.2 465.9,756.1 463.7,755.8 460.6,755.3 456.8,754.7 452.7,753.8 448.4,752.8 444.2,751.5 440.3,750.1 436.5,748.5 432.9,746.6 429.5,744.5 426.1,742.0 422.7,739.1 419.2,735.8 415.5,732.0 411.6,727.8 407.6,723.2 403.3,718.1 398.8,712.6 394.1,706.8 389.3,700.8 384.4,694.7 379.5,688.5 374.7,682.5 370.0,676.7 365.5,671.2 361.2,666.2 357.2,661.5 353.3,657.3 349.6,653.6 346.1,650.2 342.7,647.3 339.3,644.9 335.9,642.7 332.3,640.8 328.5,639.2 324.6,637.8 320.4,636.5 316.1,635.5 312.0,634.6 308.2,634.0 305.1,633.5 302.9,633.2 301.6,633.1 301.1,633.0 301.0,633.0Z" fill="#51C56A" fill-opacity="0.5"/>
<path d="M301.0,633.0 301.1,633.0 301.6,632.8 302.9,632.2 305.1,631.2 308.2,629.6 312.0,627.3 316.1,624.3 320.4,620.6 324.6,616.3 328.5,611.3 332.3,605.6 335.9,599.1 339.3,591.5 342.7,582.8 346.1,572.6 349.6,561.0 353.3,547.9 357.2,533.2 361.2,516.9 365.5,499.1 370.0,479.9 374.7,459.7 379.5,438.6 384.4,417.1 389.3,395.6 394.1,374.5 398.8,354.3 403.3,335.1 407.6,317.3 411.6,301.0 415.5,286.3 419.2,273.2 422.7,261.6 426.1,251.5 429.5,242.7 432.9,235.2 436.5,228.6 440.3,222.9 444.2,217.9 448.4,213.6 452.7,210.0 456.8,207.0 460.6,204.6 463.7,203.0 465.9,202.0 467.2,201.4 467.7,201.2 467.8,201.2 467.8,207.9 467.7,207.9 467.2,208.1 465.9,208.6 463.7,209.7 460.6,211.3 456.8,213.6 452.7,216.6 448.4,220.3 444.2,224.6 440.3,229.5 436.5,235.3 432.9,241.8 429.5,249.4 426.1,258.1 422.7,268.2 419.2,279.8 415.5,293.0 411.6,307.7 407.6,324.0 403.3,341.8 398.8,360.9 394.1,381.2 389.3,402.3 384.4,423.8 379.5,445.3 374.7,466.3 370.0,486.6 365.5,505.8 361.2,523.6 357.2,539.9 353.3,554.6 349.6,567.7 346.1,579.3 342.7,589.4 339.3,598.2 335.9,605.7 332.3,612.3 328.5,618.0 324.6,623.0 320.4,627.3 316.1,630.9 312.0,633.9 308.2,636.2 305.1,637.9 302.9,638.9 301.6,639.4 301.1,639.6 301.0,639.7Z" fill="#85D54A" fill-opacity="0.5"/>
<path d="M301.0,639.7 301.1,639.6 301.6,639.5 302.9,639.0 305.1,638.1 308.2,636.7 312.0,634.7 316.1,632.0 320.4,628.9 324.6,625.1 328.5,620.8 332.3,615.8 335.9,610.1 339.3,603.5 342.7,595.9 346.1,587.1 349.6,577.0 353.3,565.5 357.2,552.7 361.2,538.6 365.5,523.0 370.0,506.4 374.7,488.7 379.5,470.3 384.4,451.6 389.3,432.9 394.1,414.6 398.8,396.9 403.3,380.2 407.6,364.7 411.6,350.5 415.5,337.7 419.2,326.3 422.7,316.2 426.1,307.4 429.5,299.7 432.9,293.2 436.5,287.4 440.3,282.5 444.2,278.1 448.4,274.4 452.7,271.2 456.8,268.6 460.6,266.6 463.7,265.1 465.9,264.2 467.2,263.8 467.7,263.6 467.8,263.6 467.8,264.1 467.7,264.2 467.2,264.3 465.9,264.8 463.7,265.7 460.6,267.1 456.8,269.1 452.7,271.7 448.4,274.9 444.2,278.7 440.3,283.0 436.5,288.0 432.9,293.7 429.5,300.3 426.1,307.9 422.7,316.7 419.2,326.8 415.5,338.2 411.6,351.1 407.6,365.2 403.3,380.7 398.8,397.4 394.1,415.1 389.3,433.4 384.4,452.2 379.5,470.9 374.7,489.2 370.0,506.9 365.5,523.6 361.2,539.1 357.2,553.3 353.3,566.1 349.6,577.5 346.1,587.6 342.7,596.4 339.3,604.0 335.9,610.6 332.3,616.3 328.5,621.3 324.6,625.6 320.4,629.4 316.1,632.6 312.0,635.2 308.2,637.2 305.1,638.6 302.9,639.5 301.6,640.0 301.1,640.2 301.0,640.2Z" fill="#85D54A" fill-opacity="0.5"/>
<path d="M301.0,640.2 301.1,640.2 301.6,640.0 302.9,639.6 305.1,638.9 308.2,637.7 312.0,636.0 316.1,633.8 320.4,631.1 324.6,628.0 328.5,624.4 332.3,620.2 335.9,615.4 339.3,609.9 342.7,603.5 346.1,596.1 349.6,587.6 353.3,578.0 357.2,567.3 361.2,555.4 365.5,542.4 370.0,528.4 374.7,513.6 379.5,498.2 384.4,482.5 389.3,466.8 394.1,451.4 398.8,436.6 403.3,422.6 407.6,409.6 411.6,397.7 415.5,386.9 419.2,377.3 422.7,368.9 426.1,361.5 429.5,355.1 432.9,349.6 436.5,344.8 440.3,340.6 444.2,337.0 448.4,333.8 452.7,331.2 456.8,329.0 460.6,327.3 463.7,326.1 465.9,325.3 467.2,324.9 467.7,324.8 467.8,324.8 467.8,325.7 467.7,325.7 467.2,325.9 465.9,326.2 463.7,327.0 460.6,328.2 456.8,329.9 452.7,332.1 448.4,334.8 444.2,337.9 440.3,341.5 436.5,345.7 432.9,350.5 429.5,356.0 426.1,362.4 422.7,369.8 419.2,378.3 415.5,387.9 411.6,398.6 407.6,410.5 403.3,423.5 398.8,437.5 394.1,452.3 389.3,467.7 384.4,483.4 379.5,499.1 374.7,514.5 370.0,529.3 365.5,543.3 361.2,556.3 357.2,568.2 353.3,579.0 349.6,588.5 346.1,597.0 342.7,604.4 339.3,610.8 335.9,616.3 332.3,621.1 328.5,625.3 324.6,628.9 320.4,632.1 316.1,634.7 312.0,636.9 308.2,638.6 305.1,639.8 302.9,640.6 301.6,641.0 301.1,641.1 301.0,641.1Z" fill="#85D54A" fill-opacity="0.5"/>
<path d="M301.0,641.1 301.1,641.1 301.6,641.0 302.9,640.7 305.1,640.1 308.2,639.2 312.0,638.0 316.1,636.3 320.4,634.3 324.6,632.0 328.5,629.2 332.3,626.1 335.9,622.5 339.3,618.4 342.7,613.6 346.1,608.0 349.6,601.7 353.3,594.5 357.2,586.4 361.2,577.5 365.5,567.7 370.0,557.2 374.7,546.1 379.5,534.6 384.4,522.8 389.3,511.0 394.1,499.5 398.8,488.4 403.3,477.9 407.6,468.1 411.6,459.2 415.5,451.1 419.2,443.9 422.7,437.6 426.1,432.0 429.5,427.2 432.9,423.1 436.5,419.5 440.3,416.4 444.2,413.6 448.4,411.3 452.7,409.3 456.8,407.6 460.6,406.4 463.7,405.5 465.9,404.9 467.2,404.6 467.7,404.5 467.8,404.5 467.8,406.4 467.7,406.4 467.2,406.5 465.9,406.8 463.7,407.4 460.6,408.3 456.8,409.5 452.7,411.2 448.4,413.2 444.2,415.5 440.3,418.3 436.5,421.4 432.9,425.0 429.5,429.1 426.1,433.9 422.7,439.5 419.2,445.8 415.5,453.0 411.6,461.1 407.6,470.0 403.3,479.8 398.8,490.3 394.1,501.4 389.3,512.9 384.4,524.7 379.5,536.5 374.7,548.0 370.0,559.1 365.5,569.7 361.2,579.4 357.2,588.3 353.3,596.4 349.6,603.6 346.1,609.9 342.7,615.5 339.3,620.3 335.9,624.4 332.3,628.0 328.5,631.1 324.6,633.9 320.4,636.2 316.1,638.2 312.0,639.9 308.2,641.1 305.1,642.1 302.9,642.6 301.6,642.9 301.1,643.0 301.0,643.0Z" fill="#85D54A" fill-opacity="0.5"/>
<path d="M301.0,643.0 301.1,643.0 301.6,642.9 302.9,642.7 305.1,642.4 308.2,641.7 312.0,640.9 316.1,639.8 320.4,638.4 324.6,636.8 328.5,635.0 332.3,632.8 335.9,630.4 339.3,627.6 342.7,624.3 346.1,620.5 349.6,616.2 353.3,611.3 357.2,605.9 361.2,599.8 365.5,593.2 370.0,586.0 374.7,578.5 379.5,570.6 384.4,562.6 389.3,554.6 394.1,546.8 398.8,539.2 403.3,532.1 407.6,525.4 411.6,519.4 415.5,513.9 419.2,509.0 422.7,504.7 426.1,500.9 429.5,497.7 432.9,494.9 436.5,492.4 440.3,490.3 444.2,488.4 448.4,486.8 452.7,485.5 456.8,484.4 460.6,483.5 463.7,482.9 465.9,482.5 467.2,482.3 467.7,482.2 467.8,482.2 467.8,484.0 467.7,484.0 467.2,484.1 465.9,484.3 463.7,484.7 460.6,485.3 456.8,486.2 452.7,487.3 448.4,488.6 444.2,490.3 440.3,492.1 436.5,494.2 432.9,496.7 429.5,499.5 426.1,502.7 422.7,506.5 419.2,510.8 415.5,515.7 411.6,521.2 407.6,527.3 403.3,533.9 398.8,541.0 394.1,548.6 389.3,556.4 384.4,564.4 379.5,572.4 374.7,580.3 370.0,587.8 365.5,595.0 361.2,601.6 357.2,607.7 353.3,613.2 349.6,618.0 346.1,622.4 342.7,626.1 339.3,629.4 335.9,632.2 332.3,634.6 328.5,636.8 324.6,638.6 320.4,640.2 316.1,641.6 312.0,642.7 308.2,643.6 305.1,644.2 302.9,644.6 301.6,644.8 301.1,644.8 301.0,644.8Z" fill="#85D54A" fill-opacity="0.5"/>
<path d="M301.0,644.8 301.1,644.8 301.6,644.8 302.9,644.7 305.1,644.4 308.2,644.0 312.0,643.5 316.1,642.8 320.4,641.9 324.6,640.9 328.5,639.7 332.3,638.4 335.9,636.9 339.3,635.1 342.7,633.0 346.1,630.6 349.6,627.9 353.3,624.8 357.2,621.4 361.2,617.5 365.5,613.3 370.0,608.8 374.7,604.1 379.5,599.1 384.4,594.0 389.3,589.0 394.1,584.0 398.8,579.3 403.3,574.8 407.6,570.6 411.6,566.7 415.5,563.3 419.2,560.2 422.7,557.4 426.1,555.1 429.5,553.0 432.9,551.2 436.5,549.7 440.3,548.3 444.2,547.2 448.4,546.2 452.7,545.3 456.8,544.6 460.6,544.1 463.7,543.7 465.9,543.4 467.2,543.3 467.7,543.3 467.8,543.2 467.8,547.1 467.7,547.1 467.2,547.1 465.9,547.3 463.7,547.5 460.6,547.9 456.8,548.4 452.7,549.1 448.4,550.0 444.2,551.0 440.3,552.2 436.5,553.5 432.9,555.1 429.5,556.9 426.1,558.9 422.7,561.3 419.2,564.0 415.5,567.1 411.6,570.6 407.6,574.4 403.3,578.6 398.8,583.1 394.1,587.9 389.3,592.8 384.4,597.9 379.5,602.9 374.7,607.9 370.0,612.7 365.5,617.2 361.2,621.4 357.2,625.2 353.3,628.7 349.6,631.8 346.1,634.5 342.7,636.9 339.3,638.9 335.9,640.7 332.3,642.2 328.5,643.6 324.6,644.8 320.4,645.8 316.1,646.6 312.0,647.3 308.2,647.9 305.1,648.3 302.9,648.5 301.6,648.6 301.1,648.7 301.0,648.7Z" fill="#85D54A" fill-opacity="0.5"/>
<path d="M301.0,648.69C374.4,648.69 394.4,618.37 467.8,618.37L467.8,624.51C394.4,624.51 374.4,654.83 301.0,654.83Z" fill="#85D54A" fill-opacity="0.5"/>
<path d="M301.0,654.83C374.4,654.83 394.4,672.48 467.8,672.48L467.8,675.70C394.4,675.70 374.4,658.05 301.0,658.05Z" fill="#85D54A" fill-opacity="0.5"/>
<path d="M301.0,658.0 301.1,658.1 301.6,658.1 302.9,658.1 305.1,658.3 308.2,658.4 312.0,658.7 316.1,659.0 320.4,659.4 324.6,659.9 328.5,660.5 332.3,661.1 335.9,661.9 339.3,662.7 342.7,663.7 346.1,664.9 349.6,666.2 353.3,667.6 357.2,669.3 361.2,671.1 365.5,673.1 370.0,675.3 374.7,677.6 379.5,680.0 384.4,682.4 389.3,684.8 394.1,687.2 398.8,689.5 403.3,691.6 407.6,693.6 411.6,695.5 415.5,697.1 419.2,698.6 422.7,699.9 426.1,701.0 429.5,702.0 432.9,702.9 436.5,703.6 440.3,704.3 444.2,704.8 448.4,705.3 452.7,705.7 456.8,706.1 460.6,706.3 463.7,706.5 465.9,706.6 467.2,706.7 467.7,706.7 467.8,706.7 467.8,709.5 467.7,709.5 467.2,709.5 465.9,709.5 463.7,709.3 460.6,709.2 456.8,708.9 452.7,708.6 448.4,708.2 444.2,707.7 440.3,707.1 436.5,706.5 432.9,705.7 429.5,704.9 426.1,703.9 422.7,702.7 419.2,701.4 415.5,700.0 411.6,698.3 407.6,696.5 403.3,694.5 398.8,692.3 394.1,690.0 389.3,687.6 384.4,685.2 379.5,682.8 374.7,680.4 370.0,678.1 365.5,676.0 361.2,674.0 357.2,672.1 353.3,670.5 349.6,669.0 346.1,667.7 342.7,666.6 339.3,665.6 335.9,664.7 332.3,664.0 328.5,663.3 324.6,662.8 320.4,662.3 316.1,661.9 312.0,661.5 308.2,661.3 305.1,661.1 302.9,661.0 301.6,660.9 301.1,660.9 301.0,660.9Z" fill="#85D54A" fill-opacity="0.5"/>
<path d="M301.0,660.9 301.1,660.9 301.6,660.9 302.9,661.0 305.1,661.2 308.2,661.4 312.0,661.8 316.1,662.3 320.4,662.9 324.6,663.6 328.5,664.4 332.3,665.3 335.9,666.3 339.3,667.5 342.7,668.9 346.1,670.5 349.6,672.4 353.3,674.5 357.2,676.9 361.2,679.5 365.5,682.3 370.0,685.4 374.7,688.6 379.5,692.0 384.4,695.4 389.3,698.9 394.1,702.2 398.8,705.5 403.3,708.5 407.6,711.4 411.6,714.0 415.5,716.3 419.2,718.4 422.7,720.3 426.1,721.9 429.5,723.3 432.9,724.5 436.5,725.6 440.3,726.5 444.2,727.3 448.4,728.0 452.7,728.5 456.8,729.0 460.6,729.4 463.7,729.7 465.9,729.8 467.2,729.9 467.7,729.9 467.8,729.9 467.8,732.5 467.7,732.5 467.2,732.5 465.9,732.4 463.7,732.3 460.6,732.0 456.8,731.6 452.7,731.1 448.4,730.6 444.2,729.9 440.3,729.1 436.5,728.2 432.9,727.1 429.5,725.9 426.1,724.5 422.7,722.9 419.2,721.0 415.5,718.9 411.6,716.6 407.6,714.0 403.3,711.1 398.8,708.1 394.1,704.8 389.3,701.5 384.4,698.0 379.5,694.6 374.7,691.2 370.0,688.0 365.5,684.9 361.2,682.1 357.2,679.5 353.3,677.1 349.6,675.0 346.1,673.1 342.7,671.5 339.3,670.1 335.9,668.9 332.3,667.9 328.5,667.0 324.6,666.2 320.4,665.5 316.1,664.9 312.0,664.4 308.2,664.0 305.1,663.8 302.9,663.6 301.6,663.5 301.1,663.5 301.0,663.5Z" fill="#85D54A" fill-opacity="0.5"/>
<path d="M301.0,663.5 301.1,663.5 301.6,663.5 302.9,663.6 305.1,663.8 308.2,664.1 312.0,664.5 316.1,665.1 320.4,665.7 324.6,666.5 328.5,667.4 332.3,668.5 335.9,669.6 339.3,671.0 342.7,672.6 346.1,674.4 349.6,676.5 353.3,678.9 357.2,681.6 361.2,684.5 365.5,687.7 370.0,691.2 374.7,694.9 379.5,698.7 384.4,702.6 389.3,706.5 394.1,710.3 398.8,714.0 403.3,717.4 407.6,720.7 411.6,723.6 415.5,726.3 419.2,728.6 422.7,730.7 426.1,732.6 429.5,734.2 432.9,735.5 436.5,736.7 440.3,737.8 444.2,738.7 448.4,739.4 452.7,740.1 456.8,740.6 460.6,741.1 463.7,741.4 465.9,741.5 467.2,741.6 467.7,741.7 467.8,741.7 467.8,742.2 467.7,742.2 467.2,742.2 465.9,742.1 463.7,741.9 460.6,741.6 456.8,741.2 452.7,740.7 448.4,740.0 444.2,739.2 440.3,738.3 436.5,737.3 432.9,736.1 429.5,734.7 426.1,733.1 422.7,731.3 419.2,729.2 415.5,726.8 411.6,724.2 407.6,721.2 403.3,718.0 398.8,714.5 394.1,710.9 389.3,707.0 384.4,703.2 379.5,699.3 374.7,695.4 370.0,691.8 365.5,688.3 361.2,685.1 357.2,682.1 353.3,679.5 349.6,677.1 346.1,675.0 342.7,673.2 339.3,671.6 335.9,670.2 332.3,669.0 328.5,668.0 324.6,667.1 320.4,666.3 316.1,665.6 312.0,665.1 308.2,664.7 305.1,664.4 302.9,664.2 301.6,664.1 301.1,664.1 301.0,664.1Z" fill="#85D54A" fill-opacity="0.5"/>
<path d="M301.0,664.1 301.1,664.1 301.6,664.1 302.9,664.2 305.1,664.4 308.2,664.8 312.0,665.3 316.1,665.9 320.4,666.7 324.6,667.6 328.5,668.7 332.3,669.9 335.9,671.3 339.3,672.9 342.7,674.8 346.1,677.0 349.6,679.4 353.3,682.2 357.2,685.4 361.2,688.9 365.5,692.7 370.0,696.8 374.7,701.1 379.5,705.6 384.4,710.2 389.3,714.8 394.1,719.3 398.8,723.6 403.3,727.7 407.6,731.5 411.6,735.0 415.5,738.1 419.2,740.9 422.7,743.4 426.1,745.6 429.5,747.4 432.9,749.1 436.5,750.5 440.3,751.7 444.2,752.7 448.4,753.7 452.7,754.4 456.8,755.1 460.6,755.6 463.7,755.9 465.9,756.1 467.2,756.3 467.7,756.3 467.8,756.3 467.8,757.2 467.7,757.2 467.2,757.2 465.9,757.1 463.7,756.9 460.6,756.5 456.8,756.0 452.7,755.4 448.4,754.6 444.2,753.7 440.3,752.6 436.5,751.4 432.9,750.0 429.5,748.4 426.1,746.5 422.7,744.4 419.2,741.9 415.5,739.1 411.6,735.9 407.6,732.4 403.3,728.6 398.8,724.5 394.1,720.2 389.3,715.7 384.4,711.1 379.5,706.5 374.7,702.0 370.0,697.7 365.5,693.6 361.2,689.8 357.2,686.3 353.3,683.2 349.6,680.4 346.1,677.9 342.7,675.7 339.3,673.9 335.9,672.3 332.3,670.9 328.5,669.6 324.6,668.6 320.4,667.6 316.1,666.9 312.0,666.2 308.2,665.7 305.1,665.4 302.9,665.2 301.6,665.0 301.1,665.0 301.0,665.0Z" fill="#85D54A" fill-opacity="0.5"/>
<path d="M301.0,665.0 301.1,665.0 301.6,664.8 302.9,664.2 305.1,663.1 308.2,661.4 312.0,658.9 316.1,655.7 320.4,651.9 324.6,647.3 328.5,642.0 332.3,636.0 335.9,629.1 339.3,621.1 342.7,611.8 346.1,601.1 349.6,588.8 353.3,574.9 357.2,559.3 361.2,542.1 365.5,523.3 370.0,503.0 374.7,481.5 379.5,459.2 384.4,436.4 389.3,413.7 394.1,391.4 398.8,369.9 403.3,349.6 407.6,330.8 411.6,313.5 415.5,298.0 419.2,284.1 422.7,271.8 426.1,261.1 429.5,251.8 432.9,243.8 436.5,236.9 440.3,230.8 444.2,225.6 448.4,221.0 452.7,217.1 456.8,214.0 460.6,211.5 463.7,209.8 465.9,208.7 467.2,208.1 467.7,207.9 467.8,207.9 467.8,210.0 467.7,210.0 467.2,210.2 465.9,210.8 463.7,211.9 460.6,213.6 456.8,216.1 452.7,219.3 448.4,223.1 444.2,227.7 440.3,233.0 436.5,239.0 432.9,245.9 429.5,253.9 426.1,263.2 422.7,273.9 419.2,286.2 415.5,300.1 411.6,315.7 407.6,332.9 403.3,351.7 398.8,372.0 394.1,393.5 389.3,415.8 384.4,438.6 379.5,461.3 374.7,483.6 370.0,505.1 365.5,525.4 361.2,544.2 357.2,561.5 353.3,577.0 349.6,590.9 346.1,603.2 342.7,613.9 339.3,623.2 335.9,631.2 332.3,638.1 328.5,644.2 324.6,649.4 320.4,654.0 316.1,657.9 312.0,661.0 308.2,663.5 305.1,665.2 302.9,666.3 301.6,666.9 301.1,667.1 301.0,667.1Z" fill="#C2DF23" fill-opacity="0.5"/>
<path d="M301.0,667.1 301.1,667.1 301.6,666.9 302.9,666.4 305.1,665.5 308.2,663.9 312.0,661.8 316.1,659.0 320.4,655.6 324.6,651.5 328.5,646.9 332.3,641.6 335.9,635.4 339.3,628.4 342.7,620.2 346.1,610.8 349.6,600.0 353.3,587.7 357.2,574.0 361.2,558.8 365.5,542.2 370.0,524.3 374.7,505.4 379.5,485.7 384.4,465.6 389.3,445.6 394.1,425.9 398.8,407.0 403.3,389.1 407.6,372.5 411.6,357.3 415.5,343.6 419.2,331.3 422.7,320.5 426.1,311.0 429.5,302.9 432.9,295.8 436.5,289.7 440.3,284.4 444.2,279.7 448.4,275.7 452.7,272.3 456.8,269.5 460.6,267.3 463.7,265.8 465.9,264.8 467.2,264.3 467.7,264.2 467.8,264.1 467.8,264.4 467.7,264.4 467.2,264.6 465.9,265.1 463.7,266.0 460.6,267.6 456.8,269.7 452.7,272.5 448.4,275.9 444.2,279.9 440.3,284.6 436.5,289.9 432.9,296.0 429.5,303.1 426.1,311.3 422.7,320.7 419.2,331.5 415.5,343.8 411.6,357.5 407.6,372.7 403.3,389.3 398.8,407.2 394.1,426.1 389.3,445.8 384.4,465.9 379.5,485.9 374.7,505.6 370.0,524.5 365.5,542.4 361.2,559.0 357.2,574.2 353.3,587.9 349.6,600.2 346.1,611.0 342.7,620.5 339.3,628.6 335.9,635.7 332.3,641.8 328.5,647.1 324.6,651.8 320.4,655.8 316.1,659.2 312.0,662.0 308.2,664.2 305.1,665.7 302.9,666.7 301.6,667.2 301.1,667.3 301.0,667.4Z" fill="#C2DF23" fill-opacity="0.5"/>
<path d="M301.0,667.4 301.1,667.3 301.6,667.2 302.9,666.8 305.1,665.9 308.2,664.6 312.0,662.8 316.1,660.4 320.4,657.5 324.6,654.1 328.5,650.2 332.3,645.7 335.9,640.5 339.3,634.5 342.7,627.6 346.1,619.6 349.6,610.4 353.3,600.0 357.2,588.4 361.2,575.5 365.5,561.4 370.0,546.3 374.7,530.2 379.5,513.5 384.4,496.5 389.3,479.5 394.1,462.8 398.8,446.8 403.3,431.6 407.6,417.6 411.6,404.7 415.5,393.0 419.2,382.6 422.7,373.5 426.1,365.5 429.5,358.5 432.9,352.6 436.5,347.4 440.3,342.9 444.2,338.9 448.4,335.5 452.7,332.6 456.8,330.2 460.6,328.4 463.7,327.1 465.9,326.3 467.2,325.9 467.7,325.7 467.8,325.7 467.8,326.9 467.7,326.9 467.2,327.1 465.9,327.5 463.7,328.3 460.6,329.6 456.8,331.4 452.7,333.8 448.4,336.7 444.2,340.1 440.3,344.0 436.5,348.6 432.9,353.7 429.5,359.7 426.1,366.6 422.7,374.6 419.2,383.8 415.5,394.2 411.6,405.9 407.6,418.7 403.3,432.8 398.8,448.0 394.1,464.0 389.3,480.7 384.4,497.7 379.5,514.7 374.7,531.4 370.0,547.4 365.5,562.6 361.2,576.7 357.2,589.6 353.3,601.2 349.6,611.6 346.1,620.8 342.7,628.8 339.3,635.7 335.9,641.7 332.3,646.9 328.5,651.4 324.6,655.3 320.4,658.7 316.1,661.6 312.0,664.0 308.2,665.8 305.1,667.1 302.9,667.9 301.6,668.4 301.1,668.5 301.0,668.5Z" fill="#C2DF23" fill-opacity="0.5"/>
<path d="M301.0,668.5 301.1,668.5 301.6,668.4 302.9,668.1 305.1,667.5 308.2,666.5 312.0,665.1 316.1,663.2 320.4,661.0 324.6,658.4 328.5,655.4 332.3,651.9 335.9,647.9 339.3,643.3 342.7,638.0 346.1,631.9 349.6,624.9 353.3,616.9 357.2,607.9 361.2,598.1 365.5,587.3 370.0,575.6 374.7,563.3 379.5,550.5 384.4,537.5 389.3,524.4 394.1,511.6 398.8,499.3 403.3,487.7 407.6,476.9 411.6,467.0 415.5,458.1 419.2,450.1 422.7,443.0 426.1,436.9 429.5,431.6 432.9,427.0 436.5,423.0 440.3,419.6 444.2,416.5 448.4,413.9 452.7,411.7 456.8,409.9 460.6,408.5 463.7,407.5 465.9,406.8 467.2,406.5 467.7,406.4 467.8,406.4 467.8,407.6 467.7,407.6 467.2,407.7 465.9,408.1 463.7,408.7 460.6,409.7 456.8,411.1 452.7,412.9 448.4,415.1 444.2,417.8 440.3,420.8 436.5,424.2 432.9,428.2 429.5,432.8 426.1,438.1 422.7,444.3 419.2,451.3 415.5,459.3 411.6,468.2 407.6,478.1 403.3,488.9 398.8,500.5 394.1,512.8 389.3,525.6 384.4,538.7 379.5,551.7 374.7,564.5 370.0,576.8 365.5,588.5 361.2,599.3 357.2,609.2 353.3,618.1 349.6,626.1 346.1,633.1 342.7,639.3 339.3,644.6 335.9,649.2 332.3,653.1 328.5,656.6 324.6,659.6 320.4,662.2 316.1,664.5 312.0,666.3 308.2,667.7 305.1,668.7 302.9,669.3 301.6,669.6 301.1,669.7 301.0,669.8Z" fill="#C2DF23" fill-opacity="0.5"/>
<path d="M301.0,669.8 301.1,669.8 301.6,669.7 302.9,669.4 305.1,669.0 308.2,668.3 312.0,667.3 316.1,666.0 320.4,664.4 324.6,662.6 328.5,660.4 332.3,658.0 335.9,655.2 339.3,651.9 342.7,648.1 346.1,643.8 349.6,638.8 353.3,633.2 357.2,626.8 361.2,619.8 365.5,612.2 370.0,603.9 374.7,595.2 379.5,586.1 384.4,576.9 389.3,567.7 394.1,558.6 398.8,549.9 403.3,541.6 407.6,534.0 411.6,527.0 415.5,520.6 419.2,515.0 422.7,510.0 426.1,505.6 429.5,501.9 432.9,498.6 436.5,495.8 440.3,493.4 444.2,491.2 448.4,489.4 452.7,487.8 456.8,486.5 460.6,485.5 463.7,484.8 465.9,484.4 467.2,484.1 467.7,484.0 467.8,484.0 467.8,484.7 467.7,484.7 467.2,484.8 465.9,485.1 463.7,485.5 460.6,486.2 456.8,487.2 452.7,488.5 448.4,490.1 444.2,491.9 440.3,494.1 436.5,496.5 432.9,499.3 429.5,502.6 426.1,506.3 422.7,510.7 419.2,515.7 415.5,521.3 411.6,527.7 407.6,534.7 403.3,542.3 398.8,550.6 394.1,559.3 389.3,568.4 384.4,577.6 379.5,586.8 374.7,595.9 370.0,604.6 365.5,612.9 361.2,620.5 357.2,627.5 353.3,633.9 349.6,639.5 346.1,644.5 342.7,648.8 339.3,652.6 335.9,655.9 332.3,658.7 328.5,661.1 324.6,663.3 320.4,665.1 316.1,666.7 312.0,668.0 308.2,669.0 305.1,669.7 302.9,670.1 301.6,670.4 301.1,670.5 301.0,670.5Z" fill="#C2DF23" fill-opacity="0.5"/>
<path d="M301.0,670.5 301.1,670.5 301.6,670.4 302.9,670.2 305.1,670.0 308.2,669.5 312.0,668.8 316.1,668.0 320.4,666.9 324.6,665.7 328.5,664.3 332.3,662.6 335.9,660.8 339.3,658.6 342.7,656.1 346.1,653.2 349.6,649.9 353.3,646.1 357.2,641.9 361.2,637.3 365.5,632.2 370.0,626.7 374.7,620.9 379.5,614.9 384.4,608.8 389.3,602.6 394.1,596.6 398.8,590.8 403.3,585.3 407.6,580.3 411.6,575.6 415.5,571.4 419.2,567.7 422.7,564.3 426.1,561.4 429.5,559.0 432.9,556.8 436.5,554.9 440.3,553.3 444.2,551.9 448.4,550.6 452.7,549.6 456.8,548.7 460.6,548.1 463.7,547.6 465.9,547.3 467.2,547.2 467.7,547.1 467.8,547.1 467.8,548.2 467.7,548.2 467.2,548.2 465.9,548.4 463.7,548.7 460.6,549.1 456.8,549.8 452.7,550.7 448.4,551.7 444.2,552.9 440.3,554.4 436.5,556.0 432.9,557.9 429.5,560.0 426.1,562.5 422.7,565.4 419.2,568.7 415.5,572.5 411.6,576.7 407.6,581.3 403.3,586.4 398.8,591.9 394.1,597.7 389.3,603.7 384.4,609.8 379.5,616.0 374.7,622.0 370.0,627.8 365.5,633.3 361.2,638.4 357.2,643.0 353.3,647.2 349.6,651.0 346.1,654.3 342.7,657.2 339.3,659.7 335.9,661.8 332.3,663.7 328.5,665.3 324.6,666.8 320.4,668.0 316.1,669.0 312.0,669.9 308.2,670.6 305.1,671.0 302.9,671.3 301.6,671.5 301.1,671.5 301.0,671.5Z" fill="#C2DF23" fill-opacity="0.5"/>
<path d="M301.0,671.5 301.1,671.5 301.6,671.5 302.9,671.5 305.1,671.3 308.2,671.2 312.0,670.9 316.1,670.6 320.4,670.2 324.6,669.7 328.5,669.2 332.3,668.5 335.9,667.8 339.3,667.0 342.7,666.1 346.1,665.0 349.6,663.7 353.3,662.3 357.2,660.7 361.2,658.9 365.5,657.0 370.0,654.9 374.7,652.7 379.5,650.4 384.4,648.0 389.3,645.7 394.1,643.4 398.8,641.2 403.3,639.1 407.6,637.2 411.6,635.4 415.5,633.8 419.2,632.3 422.7,631.1 426.1,630.0 429.5,629.0 432.9,628.2 436.5,627.5 440.3,626.9 444.2,626.3 448.4,625.9 452.7,625.5 456.8,625.1 460.6,624.9 463.7,624.7 465.9,624.6 467.2,624.5 467.7,624.5 467.8,624.5 467.8,626.6 467.7,626.6 467.2,626.6 465.9,626.7 463.7,626.8 460.6,626.9 456.8,627.2 452.7,627.5 448.4,627.9 444.2,628.4 440.3,628.9 436.5,629.6 432.9,630.3 429.5,631.1 426.1,632.0 422.7,633.1 419.2,634.4 415.5,635.8 411.6,637.4 407.6,639.2 403.3,641.2 398.8,643.2 394.1,645.5 389.3,647.7 384.4,650.1 379.5,652.4 374.7,654.7 370.0,656.9 365.5,659.0 361.2,661.0 357.2,662.7 353.3,664.3 349.6,665.8 346.1,667.0 342.7,668.1 339.3,669.1 335.9,669.9 332.3,670.6 328.5,671.2 324.6,671.8 320.4,672.3 316.1,672.6 312.0,673.0 308.2,673.2 305.1,673.4 302.9,673.5 301.6,673.6 301.1,673.6 301.0,673.6Z" fill="#C2DF23" fill-opacity="0.5"/>
<path d="M301.0,673.60C374.4,673.60 394.4,675.70 467.8,675.70L467.8,677.76C394.4,677.76 374.4,675.66 301.0,675.66Z" fill="#C2DF23" fill-opacity="0.5"/>
<path d="M301.0,675.66C374.4,675.66 394.4,709.55 467.8,709.55L467.8,711.37C394.4,711.37 374.4,677.48 301.0,677.48Z" fill="#C2DF23" fill-opacity="0.5"/>
<path d="M301.0,677.5 301.1,677.5 301.6,677.5 302.9,677.6 305.1,677.7 308.2,677.9 312.0,678.2 316.1,678.6 320.4,679.1 324.6,679.6 328.5,680.2 332.3,681.0 335.9,681.8 339.3,682.8 342.7,683.9 346.1,685.2 349.6,686.7 353.3,688.3 357.2,690.2 361.2,692.3 365.5,694.6 370.0,697.0 374.7,699.6 379.5,702.3 384.4,705.0 389.3,707.8 394.1,710.4 398.8,713.0 403.3,715.5 407.6,717.7 411.6,719.8 415.5,721.7 419.2,723.4 422.7,724.8 426.1,726.1 429.5,727.3 432.9,728.2 436.5,729.1 440.3,729.8 444.2,730.4 448.4,731.0 452.7,731.4 456.8,731.8 460.6,732.1 463.7,732.3 465.9,732.5 467.2,732.5 467.7,732.5 467.8,732.5 467.8,733.9 467.7,733.9 467.2,733.9 465.9,733.8 463.7,733.7 460.6,733.4 456.8,733.1 452.7,732.8 448.4,732.3 444.2,731.7 440.3,731.1 436.5,730.4 432.9,729.5 429.5,728.6 426.1,727.5 422.7,726.2 419.2,724.7 415.5,723.0 411.6,721.2 407.6,719.1 403.3,716.8 398.8,714.4 394.1,711.8 389.3,709.1 384.4,706.3 379.5,703.6 374.7,700.9 370.0,698.3 365.5,695.9 361.2,693.6 357.2,691.5 353.3,689.7 349.6,688.0 346.1,686.5 342.7,685.2 339.3,684.1 335.9,683.1 332.3,682.3 328.5,681.6 324.6,680.9 320.4,680.4 316.1,679.9 312.0,679.5 308.2,679.3 305.1,679.0 302.9,678.9 301.6,678.8 301.1,678.8 301.0,678.8Z" fill="#C2DF23" fill-opacity="0.5"/>
<path d="M301.0,678.8 301.1,678.8 301.6,678.8 302.9,678.9 305.1,679.1 308.2,679.3 312.0,679.7 316.1,680.1 320.4,680.6 324.6,681.3 328.5,682.0 332.3,682.8 335.9,683.8 339.3,684.9 342.7,686.2 346.1,687.7 349.6,689.4 353.3,691.3 357.2,693.5 361.2,695.9 365.5,698.5 370.0,701.3 374.7,704.3 379.5,707.4 384.4,710.5 389.3,713.7 394.1,716.8 398.8,719.8 403.3,722.6 407.6,725.2 411.6,727.6 415.5,729.7 419.2,731.7 422.7,733.4 426.1,734.9 429.5,736.1 432.9,737.3 436.5,738.2 440.3,739.1 444.2,739.8 448.4,740.4 452.7,741.0 456.8,741.4 460.6,741.7 463.7,742.0 465.9,742.1 467.2,742.2 467.7,742.2 467.8,742.2 467.8,742.7 467.7,742.7 467.2,742.6 465.9,742.6 463.7,742.4 460.6,742.2 456.8,741.8 452.7,741.4 448.4,740.9 444.2,740.2 440.3,739.5 436.5,738.7 432.9,737.7 429.5,736.6 426.1,735.3 422.7,733.8 419.2,732.1 415.5,730.2 411.6,728.0 407.6,725.6 403.3,723.0 398.8,720.2 394.1,717.2 389.3,714.1 384.4,711.0 379.5,707.8 374.7,704.7 370.0,701.7 365.5,698.9 361.2,696.3 357.2,693.9 353.3,691.7 349.6,689.8 346.1,688.1 342.7,686.6 339.3,685.3 335.9,684.2 332.3,683.3 328.5,682.4 324.6,681.7 320.4,681.1 316.1,680.5 312.0,680.1 308.2,679.8 305.1,679.5 302.9,679.4 301.6,679.3 301.1,679.3 301.0,679.2Z" fill="#C2DF23" fill-opacity="0.5"/>
<path d="M301.0,679.2 301.1,679.3 301.6,679.3 302.9,679.4 305.1,679.6 308.2,679.9 312.0,680.3 316.1,680.8 320.4,681.5 324.6,682.3 328.5,683.2 332.3,684.2 335.9,685.4 339.3,686.7 342.7,688.3 346.1,690.2 349.6,692.2 353.3,694.6 357.2,697.3 361.2,700.2 365.5,703.4 370.0,706.9 374.7,710.6 379.5,714.4 384.4,718.2 389.3,722.1 394.1,725.9 398.8,729.6 403.3,733.1 407.6,736.3 411.6,739.2 415.5,741.9 419.2,744.2 422.7,746.3 426.1,748.2 429.5,749.7 432.9,751.1 436.5,752.3 440.3,753.3 444.2,754.2 448.4,755.0 452.7,755.7 456.8,756.2 460.6,756.6 463.7,756.9 465.9,757.1 467.2,757.2 467.7,757.2 467.8,757.2 467.8,758.0 467.7,758.0 467.2,758.0 465.9,757.9 463.7,757.7 460.6,757.4 456.8,757.0 452.7,756.4 448.4,755.8 444.2,755.0 440.3,754.1 436.5,753.1 432.9,751.9 429.5,750.5 426.1,748.9 422.7,747.1 419.2,745.0 415.5,742.6 411.6,740.0 407.6,737.0 403.3,733.8 398.8,730.4 394.1,726.7 389.3,722.9 384.4,719.0 379.5,715.1 374.7,711.3 370.0,707.6 365.5,704.2 361.2,701.0 357.2,698.0 353.3,695.4 349.6,693.0 346.1,690.9 342.7,689.1 339.3,687.5 335.9,686.1 332.3,684.9 328.5,683.9 324.6,683.0 320.4,682.2 316.1,681.6 312.0,681.0 308.2,680.6 305.1,680.3 302.9,680.1 301.6,680.0 301.1,680.0 301.0,680.0Z" fill="#C2DF23" fill-opacity="0.5"/>
<path d="M301.0,680.0 301.1,680.0 301.6,679.8 302.9,679.2 305.1,678.1 308.2,676.3 312.0,673.7 316.1,670.5 320.4,666.5 324.6,661.8 328.5,656.4 332.3,650.2 335.9,643.0 339.3,634.8 342.7,625.3 346.1,614.3 349.6,601.7 353.3,587.4 357.2,571.4 361.2,553.6 365.5,534.3 370.0,513.4 374.7,491.3 379.5,468.4 384.4,445.0 389.3,421.6 394.1,398.7 398.8,376.6 403.3,355.7 407.6,336.4 411.6,318.6 415.5,302.6 419.2,288.3 422.7,275.7 426.1,264.7 429.5,255.2 432.9,247.0 436.5,239.8 440.3,233.6 444.2,228.2 448.4,223.5 452.7,219.5 456.8,216.3 460.6,213.7 463.7,211.9 465.9,210.8 467.2,210.2 467.7,210.0 467.8,210.0 467.8,252.0 467.7,252.0 467.2,252.2 465.9,252.8 463.7,253.9 460.6,255.7 456.8,258.3 452.7,261.5 448.4,265.5 444.2,270.2 440.3,275.6 436.5,281.8 432.9,289.0 429.5,297.2 426.1,306.7 422.7,317.7 419.2,330.3 415.5,344.6 411.6,360.6 407.6,378.4 403.3,397.7 398.8,418.6 394.1,440.7 389.3,463.6 384.4,487.0 379.5,510.4 374.7,533.3 370.0,555.4 365.5,576.3 361.2,595.6 357.2,613.4 353.3,629.4 349.6,643.7 346.1,656.3 342.7,667.3 339.3,676.8 335.9,685.0 332.3,692.2 328.5,698.4 324.6,703.8 320.4,708.5 316.1,712.5 312.0,715.7 308.2,718.3 305.1,720.1 302.9,721.2 301.6,721.8 301.1,722.0 301.0,722.0Z" fill="#FDE725" fill-opacity="0.5"/>
<path d="M301.0,722.0 301.1,722.0 301.6,721.8 302.9,721.2 305.1,720.1 308.2,718.4 312.0,715.9 316.1,712.7 320.4,708.9 324.6,704.3 328.5,699.0 332.3,693.0 335.9,686.0 339.3,678.0 342.7,668.7 346.1,658.0 349.6,645.7 353.3,631.8 357.2,616.2 361.2,599.0 365.5,580.1 370.0,559.8 374.7,538.3 379.5,516.0 384.4,493.2 389.3,470.4 394.1,448.1 398.8,426.6 403.3,406.3 407.6,387.4 411.6,370.1 415.5,354.6 419.2,340.6 422.7,328.3 426.1,317.6 429.5,308.4 432.9,300.3 436.5,293.4 440.3,287.3 444.2,282.1 448.4,277.5 452.7,273.6 456.8,270.4 460.6,268.0 463.7,266.2 465.9,265.2 467.2,264.6 467.7,264.4 467.8,264.4 467.8,270.0 467.7,270.0 467.2,270.2 465.9,270.8 463.7,271.9 460.6,273.6 456.8,276.1 452.7,279.3 448.4,283.1 444.2,287.7 440.3,293.0 436.5,299.0 432.9,306.0 429.5,314.0 426.1,323.3 422.7,334.0 419.2,346.3 415.5,360.2 411.6,375.8 407.6,393.0 403.3,411.9 398.8,432.2 394.1,453.7 389.3,476.0 384.4,498.8 379.5,521.6 374.7,543.9 370.0,565.4 365.5,585.7 361.2,604.6 357.2,621.9 353.3,637.4 349.6,651.4 346.1,663.7 342.7,674.4 339.3,683.6 335.9,691.7 332.3,698.6 328.5,704.7 324.6,709.9 320.4,714.5 316.1,718.4 312.0,721.6 308.2,724.0 305.1,725.8 302.9,726.8 301.6,727.4 301.1,727.6 301.0,727.6Z" fill="#FDE725" fill-opacity="0.5"/>
<path d="M301.0,727.6 301.1,727.6 301.6,727.4 302.9,726.9 305.1,726.0 308.2,724.5 312.0,722.3 316.1,719.5 320.4,716.1 324.6,712.1 328.5,707.5 332.3,702.2 335.9,696.1 339.3,689.1 342.7,681.0 346.1,671.6 349.6,660.8 353.3,648.7 357.2,635.0 361.2,619.9 365.5,603.4 370.0,585.6 374.7,566.8 379.5,547.2 384.4,527.3 389.3,507.3 394.1,487.8 398.8,468.9 403.3,451.1 407.6,434.6 411.6,419.5 415.5,405.9 419.2,393.7 422.7,382.9 426.1,373.5 429.5,365.4 432.9,358.4 436.5,352.3 440.3,347.0 444.2,342.4 448.4,338.4 452.7,335.0 456.8,332.2 460.6,330.1 463.7,328.5 465.9,327.6 467.2,327.1 467.7,326.9 467.8,326.9 467.8,329.0 467.7,329.0 467.2,329.2 465.9,329.7 463.7,330.7 460.6,332.2 456.8,334.3 452.7,337.1 448.4,340.5 444.2,344.5 440.3,349.1 436.5,354.4 432.9,360.5 429.5,367.5 426.1,375.6 422.7,385.0 419.2,395.8 415.5,408.0 411.6,421.6 407.6,436.7 403.3,453.3 398.8,471.1 394.1,489.9 389.3,509.4 384.4,529.4 379.5,549.3 374.7,568.9 370.0,587.7 365.5,605.5 361.2,622.0 357.2,637.1 353.3,650.8 349.6,663.0 346.1,673.7 342.7,683.1 339.3,691.2 335.9,698.3 332.3,704.3 328.5,709.6 324.6,714.3 320.4,718.3 316.1,721.6 312.0,724.4 308.2,726.6 305.1,728.1 302.9,729.1 301.6,729.6 301.1,729.7 301.0,729.8Z" fill="#FDE725" fill-opacity="0.5"/>
<path d="M301.0,729.8 301.1,729.7 301.6,729.6 302.9,729.2 305.1,728.4 308.2,727.2 312.0,725.5 316.1,723.2 320.4,720.5 324.6,717.3 328.5,713.6 332.3,709.3 335.9,704.4 339.3,698.8 342.7,692.3 346.1,684.7 349.6,676.1 353.3,666.3 357.2,655.3 361.2,643.2 365.5,629.9 370.0,615.6 374.7,600.4 379.5,584.7 384.4,568.7 389.3,552.7 394.1,536.9 398.8,521.8 403.3,507.5 407.6,494.2 411.6,482.1 415.5,471.1 419.2,461.3 422.7,452.6 426.1,445.1 429.5,438.6 432.9,432.9 436.5,428.0 440.3,423.8 444.2,420.1 448.4,416.9 452.7,414.1 456.8,411.9 460.6,410.2 463.7,408.9 465.9,408.2 467.2,407.8 467.7,407.6 467.8,407.6 467.8,412.0 467.7,412.0 467.2,412.2 465.9,412.6 463.7,413.3 460.6,414.6 456.8,416.3 452.7,418.5 448.4,421.3 444.2,424.5 440.3,428.2 436.5,432.4 432.9,437.3 429.5,443.0 426.1,449.5 422.7,457.0 419.2,465.7 415.5,475.5 411.6,486.5 407.6,498.6 403.3,511.9 398.8,526.2 394.1,541.3 389.3,557.0 384.4,573.1 379.5,589.1 374.7,604.8 370.0,620.0 365.5,634.3 361.2,647.5 357.2,659.7 353.3,670.7 349.6,680.5 346.1,689.1 342.7,696.7 339.3,703.2 335.9,708.8 332.3,713.7 328.5,718.0 324.6,721.7 320.4,724.9 316.1,727.6 312.0,729.9 308.2,731.6 305.1,732.8 302.9,733.6 301.6,734.0 301.1,734.1 301.0,734.2Z" fill="#FDE725" fill-opacity="0.5"/>
<path d="M301.0,734.2 301.1,734.1 301.6,734.0 302.9,733.7 305.1,733.1 308.2,732.2 312.0,730.8 316.1,729.1 320.4,727.0 324.6,724.5 328.5,721.6 332.3,718.3 335.9,714.5 339.3,710.2 342.7,705.1 346.1,699.3 349.6,692.6 353.3,685.0 357.2,676.5 361.2,667.1 365.5,656.8 370.0,645.7 374.7,634.0 379.5,621.9 384.4,609.4 389.3,597.0 394.1,584.9 398.8,573.1 403.3,562.1 407.6,551.8 411.6,542.4 415.5,533.9 419.2,526.3 422.7,519.6 426.1,513.8 429.5,508.7 432.9,504.3 436.5,500.6 440.3,497.3 444.2,494.4 448.4,491.9 452.7,489.8 456.8,488.0 460.6,486.7 463.7,485.8 465.9,485.2 467.2,484.9 467.7,484.7 467.8,484.7 467.8,491.0 467.7,491.0 467.2,491.1 465.9,491.4 463.7,492.0 460.6,493.0 456.8,494.3 452.7,496.1 448.4,498.2 444.2,500.6 440.3,503.5 436.5,506.8 432.9,510.6 429.5,515.0 426.1,520.0 422.7,525.9 419.2,532.6 415.5,540.2 411.6,548.7 407.6,558.1 403.3,568.3 398.8,579.4 394.1,591.1 389.3,603.3 384.4,615.7 379.5,628.1 374.7,640.3 370.0,652.0 365.5,663.1 361.2,673.4 357.2,682.8 353.3,691.3 349.6,698.9 346.1,705.6 342.7,711.4 339.3,716.4 335.9,720.8 332.3,724.6 328.5,727.9 324.6,730.8 320.4,733.3 316.1,735.4 312.0,737.1 308.2,738.4 305.1,739.4 302.9,740.0 301.6,740.3 301.1,740.4 301.0,740.4Z" fill="#FDE725" fill-opacity="0.5"/>
<path d="M301.0,740.4 301.1,740.4 301.6,740.3 302.9,740.1 305.1,739.6 308.2,738.9 312.0,737.9 316.1,736.5 320.4,734.9 324.6,733.0 328.5,730.8 332.3,728.2 335.9,725.3 339.3,721.9 342.7,718.0 346.1,713.5 349.6,708.4 353.3,702.5 357.2,696.0 361.2,688.7 365.5,680.8 370.0,672.3 374.7,663.2 379.5,653.9 384.4,644.3 389.3,634.7 394.1,625.3 398.8,616.3 403.3,607.8 407.6,599.9 411.6,592.6 415.5,586.1 419.2,580.2 422.7,575.0 426.1,570.5 429.5,566.6 432.9,563.3 436.5,560.4 440.3,557.8 444.2,555.6 448.4,553.7 452.7,552.1 456.8,550.7 460.6,549.7 463.7,549.0 465.9,548.5 467.2,548.3 467.7,548.2 467.8,548.2 467.8,552.0 467.7,552.0 467.2,552.1 465.9,552.3 463.7,552.8 460.6,553.5 456.8,554.6 452.7,555.9 448.4,557.5 444.2,559.4 440.3,561.7 436.5,564.2 432.9,567.1 429.5,570.5 426.1,574.4 422.7,578.9 419.2,584.0 415.5,589.9 411.6,596.4 407.6,603.7 403.3,611.6 398.8,620.1 394.1,629.2 389.3,638.6 384.4,648.1 379.5,657.7 374.7,667.1 370.0,676.1 365.5,684.6 361.2,692.6 357.2,699.8 353.3,706.4 349.6,712.2 346.1,717.4 342.7,721.9 339.3,725.8 335.9,729.1 332.3,732.1 328.5,734.6 324.6,736.8 320.4,738.7 316.1,740.4 312.0,741.7 308.2,742.7 305.1,743.5 302.9,743.9 301.6,744.2 301.1,744.2 301.0,744.3Z" fill="#FDE725" fill-opacity="0.5"/>
<path d="M301.0,744.3 301.1,744.3 301.6,744.2 302.9,744.1 305.1,743.8 308.2,743.3 312.0,742.7 316.1,741.9 320.4,740.9 324.6,739.7 328.5,738.4 332.3,736.8 335.9,735.0 339.3,732.9 342.7,730.6 346.1,727.8 349.6,724.6 353.3,721.1 357.2,717.1 361.2,712.6 365.5,707.8 370.0,702.5 374.7,697.0 379.5,691.3 384.4,685.4 389.3,679.6 394.1,673.8 398.8,668.3 403.3,663.1 407.6,658.2 411.6,653.8 415.5,649.8 419.2,646.2 422.7,643.0 426.1,640.3 429.5,637.9 432.9,635.8 436.5,634.0 440.3,632.5 444.2,631.1 448.4,630.0 452.7,629.0 456.8,628.1 460.6,627.5 463.7,627.1 465.9,626.8 467.2,626.6 467.7,626.6 467.8,626.6 467.8,634.0 467.7,634.0 467.2,634.1 465.9,634.2 463.7,634.5 460.6,634.9 456.8,635.6 452.7,636.4 448.4,637.4 444.2,638.6 440.3,639.9 436.5,641.5 432.9,643.3 429.5,645.3 426.1,647.7 422.7,650.5 419.2,653.6 415.5,657.2 411.6,661.2 407.6,665.6 403.3,670.5 398.8,675.7 394.1,681.2 389.3,687.0 384.4,692.8 379.5,698.7 374.7,704.4 370.0,710.0 365.5,715.2 361.2,720.0 357.2,724.5 353.3,728.5 349.6,732.1 346.1,735.2 342.7,738.0 339.3,740.4 335.9,742.4 332.3,744.2 328.5,745.8 324.6,747.1 320.4,748.3 316.1,749.3 312.0,750.1 308.2,750.8 305.1,751.2 302.9,751.5 301.6,751.6 301.1,751.7 301.0,751.7Z" fill="#FDE725" fill-opacity="0.5"/>
<path d="M301.0,751.7 301.1,751.7 301.6,751.6 302.9,751.6 305.1,751.4 308.2,751.1 312.0,750.7 316.1,750.2 320.4,749.6 324.6,748.8 328.5,748.0 332.3,747.0 335.9,745.9 339.3,744.6 342.7,743.1 346.1,741.4 349.6,739.4 353.3,737.1 357.2,734.6 361.2,731.8 365.5,728.8 370.0,725.5 374.7,722.0 379.5,718.4 384.4,714.7 389.3,711.0 394.1,707.4 398.8,704.0 403.3,700.7 407.6,697.6 411.6,694.8 415.5,692.3 419.2,690.1 422.7,688.1 426.1,686.4 429.5,684.9 432.9,683.6 436.5,682.5 440.3,681.5 444.2,680.6 448.4,679.9 452.7,679.3 456.8,678.7 460.6,678.4 463.7,678.1 465.9,677.9 467.2,677.8 467.7,677.8 467.8,677.8 467.8,681.0 467.7,681.0 467.2,681.0 465.9,681.1 463.7,681.3 460.6,681.6 456.8,682.0 452.7,682.5 448.4,683.1 444.2,683.9 440.3,684.7 436.5,685.7 432.9,686.8 429.5,688.1 426.1,689.6 422.7,691.3 419.2,693.3 415.5,695.6 411.6,698.1 407.6,700.9 403.3,703.9 398.8,707.2 394.1,710.7 389.3,714.3 384.4,718.0 379.5,721.6 374.7,725.2 370.0,728.7 365.5,732.0 361.2,735.0 357.2,737.8 353.3,740.4 349.6,742.6 346.1,744.6 342.7,746.3 339.3,747.8 335.9,749.1 332.3,750.2 328.5,751.2 324.6,752.1 320.4,752.8 316.1,753.4 312.0,753.9 308.2,754.3 305.1,754.6 302.9,754.8 301.6,754.9 301.1,754.9 301.0,754.9Z" fill="#FDE725" fill-opacity="0.5"/>
<path d="M301.0,754.9 301.1,754.9 301.6,754.9 302.9,754.8 305.1,754.7 308.2,754.6 312.0,754.3 316.1,754.0 320.4,753.7 324.6,753.2 328.5,752.7 332.3,752.2 335.9,751.5 339.3,750.7 342.7,749.9 346.1,748.8 349.6,747.7 353.3,746.3 357.2,744.9 361.2,743.2 365.5,741.4 370.0,739.5 374.7,737.4 379.5,735.3 384.4,733.1 389.3,731.0 394.1,728.9 398.8,726.8 403.3,724.9 407.6,723.1 411.6,721.4 415.5,720.0 419.2,718.6 422.7,717.5 426.1,716.4 429.5,715.6 432.9,714.8 436.5,714.1 440.3,713.6 444.2,713.1 448.4,712.6 452.7,712.2 456.8,711.9 460.6,711.7 463.7,711.5 465.9,711.4 467.2,711.4 467.7,711.4 467.8,711.4 467.8,713.0 467.7,713.0 467.2,713.0 465.9,713.1 463.7,713.2 460.6,713.3 456.8,713.6 452.7,713.9 448.4,714.3 444.2,714.7 440.3,715.2 436.5,715.8 432.9,716.4 429.5,717.2 426.1,718.1 422.7,719.1 419.2,720.3 415.5,721.6 411.6,723.1 407.6,724.7 403.3,726.5 398.8,728.4 394.1,730.5 389.3,732.6 384.4,734.8 379.5,736.9 374.7,739.1 370.0,741.1 365.5,743.0 361.2,744.8 357.2,746.5 353.3,748.0 349.6,749.3 346.1,750.5 342.7,751.5 339.3,752.4 335.9,753.1 332.3,753.8 328.5,754.4 324.6,754.9 320.4,755.3 316.1,755.7 312.0,756.0 308.2,756.2 305.1,756.4 302.9,756.5 301.6,756.5 301.1,756.6 301.0,756.6Z" fill="#FDE725" fill-opacity="0.5"/>
<path d="M301.0,756.55C374.4,756.55 394.4,733.88 467.8,733.88L467.8,735.00C394.4,735.00 374.4,757.68 301.0,757.68Z" fill="#FDE725" fill-opacity="0.5"/>
<path d="M301.0,757.68C374.4,757.68 394.4,742.68 467.8,742.68L467.8,743.00C394.4,743.00 374.4,758.00 301.0,758.00Z" fill="#FDE725" fill-opacity="0.5"/>
<path d="M301.0,758.00C374.4,758.00 394.4,758.00 467.8,758.00L467.8,775.00C394.4,775.00 374.4,775.00 301.0,775.00Z" fill="#FDE725" fill-opacity="0.5"/>
<path d="M551.3,79.00C624.7,79.00 644.8,79.00 718.2,79.00L718.2,252.00C644.8,252.00 624.7,252.00 551.3,252.00Z" fill="#440154" fill-opacity="0.5"/>
<path d="M551.3,252.00C624.7,252.00 644.8,252.00 718.2,252.00L718.2,262.18C644.8,262.18 624.7,262.18 551.3,262.18Z" fill="#482173" fill-opacity="0.5"/>
<path d="M551.3,262.2 551.4,262.2 551.9,262.2 553.2,262.4 555.4,262.6 558.5,263.1 562.3,263.7 566.4,264.5 570.7,265.4 574.9,266.5 578.9,267.8 582.6,269.3 586.2,271.1 589.7,273.0 593.0,275.3 596.5,278.0 600.0,281.0 603.6,284.4 607.5,288.3 611.6,292.5 615.9,297.2 620.4,302.2 625.1,307.5 629.9,313.0 634.8,318.6 639.6,324.2 644.4,329.7 649.1,335.0 653.6,340.0 657.9,344.7 662.0,348.9 665.9,352.8 669.5,356.2 673.0,359.2 676.5,361.9 679.8,364.2 683.3,366.1 686.9,367.8 690.6,369.3 694.6,370.6 698.8,371.8 703.1,372.7 707.2,373.5 711.0,374.1 714.1,374.5 716.3,374.8 717.6,374.9 718.1,375.0 718.2,375.0 718.2,382.8 718.1,382.8 717.6,382.8 716.3,382.6 714.1,382.4 711.0,381.9 707.2,381.3 703.1,380.5 698.8,379.6 694.6,378.5 690.6,377.2 686.9,375.7 683.3,373.9 679.8,372.0 676.5,369.7 673.0,367.0 669.5,364.0 665.9,360.6 662.0,356.7 657.9,352.5 653.6,347.8 649.1,342.8 644.4,337.5 639.6,332.0 634.8,326.4 629.9,320.8 625.1,315.3 620.4,310.0 615.9,305.0 611.6,300.3 607.5,296.1 603.6,292.2 600.0,288.8 596.5,285.8 593.0,283.1 589.7,280.8 586.2,278.9 582.6,277.2 578.9,275.7 574.9,274.4 570.7,273.2 566.4,272.3 562.3,271.5 558.5,270.9 555.4,270.5 553.2,270.2 551.9,270.1 551.4,270.0 551.3,270.0Z" fill="#482173" fill-opacity="0.5"/>
<path d="M551.3,270.00C624.7,270.00 644.8,262.18 718.2,262.18L718.2,281.92C644.8,281.92 624.7,289.74 551.3,289.74Z" fill="#433E85" fill-opacity="0.5"/>
<path d="M551.3,289.7 551.4,289.7 551.9,289.8 553.2,289.9 555.4,290.1 558.5,290.5 562.3,291.0 566.4,291.6 570.7,292.4 574.9,293.3 578.9,294.4 582.6,295.6 586.2,297.1 589.7,298.7 593.0,300.6 596.5,302.8 600.0,305.3 603.6,308.1 607.5,311.3 611.6,314.8 615.9,318.6 620.4,322.7 625.1,327.1 629.9,331.6 634.8,336.3 639.6,340.9 644.4,345.5 649.1,349.8 653.6,354.0 657.9,357.8 662.0,361.3 665.9,364.5 669.5,367.3 673.0,369.8 676.5,372.0 679.8,373.9 683.3,375.5 686.9,376.9 690.6,378.1 694.6,379.2 698.8,380.1 703.1,380.9 707.2,381.6 711.0,382.1 714.1,382.4 716.3,382.7 717.6,382.8 718.1,382.8 718.2,382.8 718.2,394.5 718.1,394.5 717.6,394.5 716.3,394.4 714.1,394.1 711.0,393.8 707.2,393.3 703.1,392.6 698.8,391.8 694.6,390.9 690.6,389.8 686.9,388.6 683.3,387.2 679.8,385.6 676.5,383.7 673.0,381.5 669.5,379.0 665.9,376.2 662.0,373.0 657.9,369.5 653.6,365.7 649.1,361.5 644.4,357.2 639.6,352.6 634.8,348.0 629.9,343.3 625.1,338.8 620.4,334.4 615.9,330.3 611.6,326.5 607.5,323.0 603.6,319.8 600.0,317.0 596.5,314.4 593.0,312.3 589.7,310.4 586.2,308.8 582.6,307.3 578.9,306.1 574.9,305.0 570.7,304.1 566.4,303.3 562.3,302.7 558.5,302.2 555.4,301.8 553.2,301.6 551.9,301.5 551.4,301.4 551.3,301.4Z" fill="#433E85" fill-opacity="0.5"/>
<path d="M551.3,301.4 551.4,301.4 551.9,301.5 553.2,301.7 555.4,302.2 558.5,302.8 562.3,303.8 566.4,305.0 570.7,306.5 574.9,308.2 578.9,310.3 582.6,312.6 586.2,315.2 589.7,318.3 593.0,321.9 596.5,326.0 600.0,330.7 603.6,336.0 607.5,342.0 611.6,348.6 615.9,355.9 620.4,363.7 625.1,371.9 629.9,380.5 634.8,389.2 639.6,398.0 644.4,406.5 649.1,414.8 653.6,422.6 657.9,429.8 662.0,436.4 665.9,442.4 669.5,447.7 673.0,452.5 676.5,456.6 679.8,460.1 683.3,463.2 686.9,465.9 690.6,468.2 694.6,470.2 698.8,472.0 703.1,473.4 707.2,474.7 711.0,475.6 714.1,476.3 716.3,476.7 717.6,476.9 718.1,477.0 718.2,477.0 718.2,504.6 718.1,504.6 717.6,504.5 716.3,504.3 714.1,503.8 711.0,503.2 707.2,502.2 703.1,501.0 698.8,499.5 694.6,497.8 690.6,495.7 686.9,493.4 683.3,490.8 679.8,487.7 676.5,484.1 673.0,480.0 669.5,475.3 665.9,470.0 662.0,464.0 657.9,457.4 653.6,450.1 649.1,442.3 644.4,434.1 639.6,425.5 634.8,416.8 629.9,408.0 625.1,399.5 620.4,391.2 615.9,383.4 611.6,376.2 607.5,369.6 603.6,363.6 600.0,358.3 596.5,353.5 593.0,349.4 589.7,345.9 586.2,342.8 582.6,340.1 578.9,337.8 574.9,335.8 570.7,334.0 566.4,332.6 562.3,331.3 558.5,330.4 555.4,329.7 553.2,329.3 551.9,329.1 551.4,329.0 551.3,329.0Z" fill="#433E85" fill-opacity="0.5"/>
<path d="M551.3,329.0 551.4,329.0 551.9,329.0 553.2,328.9 555.4,328.8 558.5,328.6 562.3,328.4 566.4,328.0 570.7,327.6 574.9,327.2 578.9,326.6 582.6,326.0 586.2,325.3 589.7,324.5 593.0,323.5 596.5,322.4 600.0,321.2 603.6,319.7 607.5,318.1 611.6,316.3 615.9,314.4 620.4,312.3 625.1,310.1 629.9,307.8 634.8,305.5 639.6,303.1 644.4,300.8 649.1,298.6 653.6,296.5 657.9,294.6 662.0,292.8 665.9,291.2 669.5,289.8 673.0,288.5 676.5,287.4 679.8,286.4 683.3,285.6 686.9,284.9 690.6,284.3 694.6,283.7 698.8,283.3 703.1,282.9 707.2,282.5 711.0,282.3 714.1,282.1 716.3,282.0 717.6,281.9 718.1,281.9 718.2,281.9 718.2,304.6 718.1,304.7 717.6,304.7 716.3,304.7 714.1,304.8 711.0,305.0 707.2,305.3 703.1,305.6 698.8,306.0 694.6,306.5 690.6,307.0 686.9,307.6 683.3,308.3 679.8,309.2 676.5,310.1 673.0,311.2 669.5,312.5 665.9,313.9 662.0,315.5 657.9,317.3 653.6,319.2 649.1,321.3 644.4,323.5 639.6,325.8 634.8,328.2 629.9,330.5 625.1,332.8 620.4,335.0 615.9,337.1 611.6,339.1 607.5,340.8 603.6,342.4 600.0,343.9 596.5,345.1 593.0,346.2 589.7,347.2 586.2,348.0 582.6,348.7 578.9,349.4 574.9,349.9 570.7,350.4 566.4,350.8 562.3,351.1 558.5,351.4 555.4,351.5 553.2,351.6 551.9,351.7 551.4,351.7 551.3,351.7Z" fill="#38598C" fill-opacity="0.5"/>
<path d="M551.3,351.7 551.4,351.7 551.9,351.7 553.2,351.8 555.4,351.9 558.5,352.1 562.3,352.3 566.4,352.6 570.7,353.0 574.9,353.4 578.9,353.9 582.6,354.4 586.2,355.1 589.7,355.8 593.0,356.7 596.5,357.7 600.0,358.9 603.6,360.2 607.5,361.6 611.6,363.2 615.9,365.0 620.4,366.9 625.1,368.9 629.9,371.0 634.8,373.1 639.6,375.3 644.4,377.3 649.1,379.3 653.6,381.2 657.9,383.0 662.0,384.6 665.9,386.1 669.5,387.4 673.0,388.5 676.5,389.5 679.8,390.4 683.3,391.2 686.9,391.8 690.6,392.4 694.6,392.9 698.8,393.3 703.1,393.6 707.2,393.9 711.0,394.2 714.1,394.3 716.3,394.4 717.6,394.5 718.1,394.5 718.2,394.5 718.2,407.7 718.1,407.7 717.6,407.6 716.3,407.6 714.1,407.5 711.0,407.3 707.2,407.1 703.1,406.8 698.8,406.4 694.6,406.0 690.6,405.5 686.9,405.0 683.3,404.3 679.8,403.6 676.5,402.7 673.0,401.7 669.5,400.5 665.9,399.2 662.0,397.8 657.9,396.2 653.6,394.4 649.1,392.5 644.4,390.5 639.6,388.4 634.8,386.3 629.9,384.1 625.1,382.1 620.4,380.0 615.9,378.1 611.6,376.4 607.5,374.8 603.6,373.3 600.0,372.0 596.5,370.9 593.0,369.9 589.7,369.0 586.2,368.2 582.6,367.6 578.9,367.0 574.9,366.5 570.7,366.1 566.4,365.7 562.3,365.4 558.5,365.2 555.4,365.1 553.2,364.9 551.9,364.9 551.4,364.9 551.3,364.9Z" fill="#38598C" fill-opacity="0.5"/>
<path d="M551.3,364.9 551.4,364.9 551.9,364.9 553.2,365.1 555.4,365.5 558.5,366.0 562.3,366.7 566.4,367.7 570.7,368.9 574.9,370.3 578.9,371.9 582.6,373.7 586.2,375.9 589.7,378.3 593.0,381.1 596.5,384.4 600.0,388.2 603.6,392.4 607.5,397.2 611.6,402.4 615.9,408.2 620.4,414.4 625.1,420.9 629.9,427.8 634.8,434.7 639.6,441.7 644.4,448.5 649.1,455.0 653.6,461.2 657.9,467.0 662.0,472.3 665.9,477.0 669.5,481.3 673.0,485.0 676.5,488.3 679.8,491.1 683.3,493.6 686.9,495.7 690.6,497.5 694.6,499.2 698.8,500.6 703.1,501.7 707.2,502.7 711.0,503.5 714.1,504.0 716.3,504.3 717.6,504.5 718.1,504.6 718.2,504.6 718.2,521.4 718.1,521.4 717.6,521.3 716.3,521.1 714.1,520.8 711.0,520.3 707.2,519.5 703.1,518.5 698.8,517.4 694.6,516.0 690.6,514.4 686.9,512.5 683.3,510.4 679.8,507.9 676.5,505.1 673.0,501.9 669.5,498.1 665.9,493.8 662.0,489.1 657.9,483.8 653.6,478.1 649.1,471.9 644.4,465.3 639.6,458.5 634.8,451.5 629.9,444.6 625.1,437.8 620.4,431.2 615.9,425.0 611.6,419.2 607.5,414.0 603.6,409.2 600.0,405.0 596.5,401.2 593.0,397.9 589.7,395.1 586.2,392.7 582.6,390.6 578.9,388.7 574.9,387.1 570.7,385.7 566.4,384.5 562.3,383.5 558.5,382.8 555.4,382.3 553.2,381.9 551.9,381.8 551.4,381.7 551.3,381.7Z" fill="#38598C" fill-opacity="0.5"/>
<path d="M551.3,381.7 551.4,381.7 551.9,381.8 553.2,382.0 555.4,382.4 558.5,383.1 562.3,384.1 566.4,385.3 570.7,386.8 574.9,388.6 578.9,390.6 582.6,393.0 586.2,395.7 589.7,398.8 593.0,402.4 596.5,406.6 600.0,411.4 603.6,416.8 607.5,422.9 611.6,429.6 615.9,437.0 620.4,444.9 625.1,453.3 629.9,462.0 634.8,470.8 639.6,479.7 644.4,488.4 649.1,496.8 653.6,504.7 657.9,512.1 662.0,518.8 665.9,524.9 669.5,530.3 673.0,535.1 676.5,539.2 679.8,542.9 683.3,546.0 686.9,548.7 690.6,551.0 694.6,553.1 698.8,554.9 703.1,556.4 707.2,557.6 711.0,558.6 714.1,559.3 716.3,559.7 717.6,559.9 718.1,560.0 718.2,560.0 718.2,590.3 718.1,590.3 717.6,590.2 716.3,590.0 714.1,589.6 711.0,588.9 707.2,587.9 703.1,586.7 698.8,585.2 694.6,583.4 690.6,581.4 686.9,579.0 683.3,576.3 679.8,573.2 676.5,569.6 673.0,565.4 669.5,560.6 665.9,555.2 662.0,549.1 657.9,542.4 653.6,535.0 649.1,527.1 644.4,518.7 639.6,510.0 634.8,501.2 629.9,492.3 625.1,483.6 620.4,475.2 615.9,467.3 611.6,459.9 607.5,453.2 603.6,447.1 600.0,441.7 596.5,436.9 593.0,432.8 589.7,429.1 586.2,426.0 582.6,423.3 578.9,421.0 574.9,418.9 570.7,417.1 566.4,415.6 562.3,414.4 558.5,413.4 555.4,412.7 553.2,412.3 551.9,412.1 551.4,412.0 551.3,412.0Z" fill="#38598C" fill-opacity="0.5"/>
<path d="M551.3,412.0 551.4,412.0 551.9,411.9 553.2,411.8 555.4,411.6 558.5,411.1 562.3,410.6 566.4,409.8 570.7,408.9 574.9,407.8 578.9,406.6 582.6,405.2 586.2,403.6 589.7,401.7 593.0,399.5 596.5,397.0 600.0,394.1 603.6,390.8 607.5,387.2 611.6,383.1 615.9,378.7 620.4,373.9 625.1,368.9 629.9,363.7 634.8,358.3 639.6,353.0 644.4,347.7 649.1,342.7 653.6,337.9 657.9,333.5 662.0,329.5 665.9,325.8 669.5,322.5 673.0,319.7 676.5,317.1 679.8,315.0 683.3,313.1 686.9,311.5 690.6,310.0 694.6,308.8 698.8,307.7 703.1,306.8 707.2,306.1 711.0,305.5 714.1,305.1 716.3,304.8 717.6,304.7 718.1,304.7 718.2,304.6 718.2,324.9 718.1,324.9 717.6,325.0 716.3,325.1 714.1,325.4 711.0,325.8 707.2,326.3 703.1,327.1 698.8,328.0 694.6,329.1 690.6,330.3 686.9,331.7 683.3,333.4 679.8,335.2 676.5,337.4 673.0,339.9 669.5,342.8 665.9,346.1 662.0,349.7 657.9,353.8 653.6,358.2 649.1,363.0 644.4,368.0 639.6,373.2 634.8,378.6 629.9,383.9 625.1,389.2 620.4,394.2 615.9,399.0 611.6,403.4 607.5,407.4 603.6,411.1 600.0,414.4 596.5,417.3 593.0,419.8 589.7,421.9 586.2,423.8 582.6,425.5 578.9,426.9 574.9,428.1 570.7,429.2 566.4,430.1 562.3,430.8 558.5,431.4 555.4,431.8 553.2,432.1 551.9,432.2 551.4,432.3 551.3,432.3Z" fill="#2D708E" fill-opacity="0.5"/>
<path d="M551.3,432.26C624.7,432.26 644.8,407.66 718.2,407.66L718.2,421.99C644.8,421.99 624.7,446.58 551.3,446.58Z" fill="#2D708E" fill-opacity="0.5"/>
<path d="M551.3,446.6 551.4,446.6 551.9,446.6 553.2,446.7 555.4,446.9 558.5,447.2 562.3,447.6 566.4,448.1 570.7,448.7 574.9,449.5 578.9,450.3 582.6,451.3 586.2,452.5 589.7,453.8 593.0,455.3 596.5,457.0 600.0,459.0 603.6,461.3 607.5,463.9 611.6,466.7 615.9,469.8 620.4,473.1 625.1,476.6 629.9,480.3 634.8,484.0 639.6,487.7 644.4,491.4 649.1,494.9 653.6,498.2 657.9,501.3 662.0,504.1 665.9,506.6 669.5,508.9 673.0,510.9 676.5,512.7 679.8,514.2 683.3,515.5 686.9,516.6 690.6,517.6 694.6,518.5 698.8,519.2 703.1,519.9 707.2,520.4 711.0,520.8 714.1,521.1 716.3,521.2 717.6,521.3 718.1,521.4 718.2,521.4 718.2,531.5 718.1,531.5 717.6,531.5 716.3,531.4 714.1,531.2 711.0,530.9 707.2,530.5 703.1,530.0 698.8,529.4 694.6,528.6 690.6,527.8 686.9,526.8 683.3,525.6 679.8,524.3 676.5,522.8 673.0,521.1 669.5,519.1 665.9,516.8 662.0,514.2 657.9,511.4 653.6,508.3 649.1,505.0 644.4,501.5 639.6,497.8 634.8,494.1 629.9,490.4 625.1,486.7 620.4,483.2 615.9,479.9 611.6,476.8 607.5,474.0 603.6,471.5 600.0,469.2 596.5,467.2 593.0,465.4 589.7,463.9 586.2,462.6 582.6,461.5 578.9,460.5 574.9,459.6 570.7,458.9 566.4,458.2 562.3,457.7 558.5,457.3 555.4,457.0 553.2,456.9 551.9,456.8 551.4,456.7 551.3,456.7Z" fill="#2D708E" fill-opacity="0.5"/>
<path d="M551.3,456.7 551.4,456.7 551.9,456.8 553.2,457.0 555.4,457.3 558.5,457.8 562.3,458.5 566.4,459.4 570.7,460.6 574.9,461.9 578.9,463.4 582.6,465.2 586.2,467.2 589.7,469.6 593.0,472.3 596.5,475.4 600.0,479.0 603.6,483.1 607.5,487.6 611.6,492.6 615.9,498.1 620.4,504.1 625.1,510.3 629.9,516.9 634.8,523.5 639.6,530.2 644.4,536.7 649.1,543.0 653.6,548.9 657.9,554.4 662.0,559.4 665.9,564.0 669.5,568.0 673.0,571.6 676.5,574.8 679.8,577.5 683.3,579.8 686.9,581.8 690.6,583.6 694.6,585.1 698.8,586.5 703.1,587.6 707.2,588.5 711.0,589.2 714.1,589.8 716.3,590.1 717.6,590.2 718.1,590.3 718.2,590.3 718.2,599.7 718.1,599.7 717.6,599.7 716.3,599.5 714.1,599.2 711.0,598.7 707.2,597.9 703.1,597.0 698.8,595.9 694.6,594.6 690.6,593.0 686.9,591.2 683.3,589.2 679.8,586.9 676.5,584.2 673.0,581.1 669.5,577.5 665.9,573.4 662.0,568.8 657.9,563.8 653.6,558.3 649.1,552.4 644.4,546.1 639.6,539.6 634.8,532.9 629.9,526.3 625.1,519.8 620.4,513.5 615.9,507.6 611.6,502.1 607.5,497.0 603.6,492.5 600.0,488.4 596.5,484.8 593.0,481.7 589.7,479.0 586.2,476.6 582.6,474.6 578.9,472.8 574.9,471.3 570.7,470.0 566.4,468.8 562.3,467.9 558.5,467.2 555.4,466.7 553.2,466.4 551.9,466.2 551.4,466.1 551.3,466.1Z" fill="#2D708E" fill-opacity="0.5"/>
<path d="M551.3,466.1 551.4,466.1 551.9,466.2 553.2,466.4 555.4,466.8 558.5,467.4 562.3,468.2 566.4,469.3 570.7,470.6 574.9,472.2 578.9,474.0 582.6,476.1 586.2,478.5 589.7,481.2 593.0,484.4 596.5,488.1 600.0,492.3 603.6,497.1 607.5,502.4 611.6,508.3 615.9,514.8 620.4,521.7 625.1,529.1 629.9,536.8 634.8,544.6 639.6,552.4 644.4,560.0 649.1,567.4 653.6,574.4 657.9,580.8 662.0,586.7 665.9,592.1 669.5,596.9 673.0,601.1 676.5,604.7 679.8,607.9 683.3,610.7 686.9,613.0 690.6,615.1 694.6,616.9 698.8,618.5 703.1,619.8 707.2,620.9 711.0,621.8 714.1,622.4 716.3,622.7 717.6,622.9 718.1,623.0 718.2,623.0 718.2,647.9 718.1,647.9 717.6,647.8 716.3,647.6 714.1,647.2 711.0,646.6 707.2,645.8 703.1,644.7 698.8,643.4 694.6,641.8 690.6,640.0 686.9,637.9 683.3,635.5 679.8,632.8 676.5,629.6 673.0,625.9 669.5,621.7 665.9,616.9 662.0,611.6 657.9,605.7 653.6,599.2 649.1,592.3 644.4,584.9 639.6,577.2 634.8,569.4 629.9,561.6 625.1,554.0 620.4,546.6 615.9,539.6 611.6,533.2 607.5,527.3 603.6,521.9 600.0,517.1 596.5,512.9 593.0,509.3 589.7,506.1 586.2,503.3 582.6,501.0 578.9,498.9 574.9,497.1 570.7,495.5 566.4,494.2 562.3,493.1 558.5,492.2 555.4,491.6 553.2,491.3 551.9,491.1 551.4,491.0 551.3,491.0Z" fill="#2D708E" fill-opacity="0.5"/>
<path d="M551.3,491.0 551.4,491.0 551.9,490.9 553.2,490.7 555.4,490.3 558.5,489.7 562.3,488.8 566.4,487.6 570.7,486.2 574.9,484.6 578.9,482.7 582.6,480.5 586.2,477.9 589.7,475.0 593.0,471.7 596.5,467.8 600.0,463.3 603.6,458.3 607.5,452.6 611.6,446.3 615.9,439.5 620.4,432.1 625.1,424.3 629.9,416.2 634.8,408.0 639.6,399.7 644.4,391.6 649.1,383.8 653.6,376.4 657.9,369.6 662.0,363.3 665.9,357.6 669.5,352.6 673.0,348.1 676.5,344.2 679.8,340.9 683.3,338.0 686.9,335.4 690.6,333.2 694.6,331.3 698.8,329.7 703.1,328.3 707.2,327.1 711.0,326.2 714.1,325.6 716.3,325.2 717.6,325.0 718.1,324.9 718.2,324.9 718.2,337.9 718.1,337.9 717.6,338.0 716.3,338.2 714.1,338.6 711.0,339.2 707.2,340.1 703.1,341.3 698.8,342.7 694.6,344.3 690.6,346.2 686.9,348.4 683.3,351.0 679.8,353.9 676.5,357.2 673.0,361.1 669.5,365.6 665.9,370.6 662.0,376.3 657.9,382.6 653.6,389.4 649.1,396.8 644.4,404.6 639.6,412.7 634.8,421.0 629.9,429.2 625.1,437.3 620.4,445.1 615.9,452.5 611.6,459.3 607.5,465.6 603.6,471.3 600.0,476.3 596.5,480.8 593.0,484.7 589.7,488.0 586.2,490.9 582.6,493.5 578.9,495.7 574.9,497.6 570.7,499.2 566.4,500.6 562.3,501.8 558.5,502.7 555.4,503.3 553.2,503.7 551.9,503.9 551.4,504.0 551.3,504.0Z" fill="#25858E" fill-opacity="0.5"/>
<path d="M551.3,504.0 551.4,504.0 551.9,504.0 553.2,503.9 555.4,503.7 558.5,503.3 562.3,502.9 566.4,502.3 570.7,501.6 574.9,500.8 578.9,499.9 582.6,498.8 586.2,497.5 589.7,496.1 593.0,494.5 596.5,492.5 600.0,490.3 603.6,487.8 607.5,485.0 611.6,481.9 615.9,478.6 620.4,474.9 625.1,471.1 629.9,467.1 634.8,463.0 639.6,458.9 644.4,454.9 649.1,451.1 653.6,447.4 657.9,444.0 662.0,440.9 665.9,438.1 669.5,435.7 673.0,433.4 676.5,431.5 679.8,429.9 683.3,428.4 686.9,427.2 690.6,426.1 694.6,425.2 698.8,424.3 703.1,423.6 707.2,423.1 711.0,422.6 714.1,422.3 716.3,422.1 717.6,422.0 718.1,422.0 718.2,422.0 718.2,437.5 718.1,437.5 717.6,437.5 716.3,437.7 714.1,437.8 711.0,438.2 707.2,438.6 703.1,439.2 698.8,439.9 694.6,440.7 690.6,441.6 686.9,442.7 683.3,444.0 679.8,445.4 676.5,447.1 673.0,449.0 669.5,451.2 665.9,453.7 662.0,456.5 657.9,459.6 653.6,462.9 649.1,466.6 644.4,470.4 639.6,474.4 634.8,478.5 629.9,482.6 625.1,486.6 620.4,490.4 615.9,494.1 611.6,497.5 607.5,500.6 603.6,503.4 600.0,505.9 596.5,508.1 593.0,510.0 589.7,511.6 586.2,513.1 582.6,514.3 578.9,515.4 574.9,516.3 570.7,517.2 566.4,517.9 562.3,518.4 558.5,518.9 555.4,519.2 553.2,519.4 551.9,519.5 551.4,519.5 551.3,519.5Z" fill="#25858E" fill-opacity="0.5"/>
<path d="M551.3,519.52C624.7,519.52 644.8,531.52 718.2,531.52L718.2,539.93C644.8,539.93 624.7,527.93 551.3,527.93Z" fill="#25858E" fill-opacity="0.5"/>
<path d="M551.3,527.9 551.4,527.9 551.9,528.0 553.2,528.1 555.4,528.2 558.5,528.5 562.3,528.9 566.4,529.4 570.7,530.0 574.9,530.7 578.9,531.5 582.6,532.5 586.2,533.6 589.7,534.8 593.0,536.3 596.5,538.0 600.0,539.9 603.6,542.1 607.5,544.5 611.6,547.2 615.9,550.2 620.4,553.4 625.1,556.8 629.9,560.3 634.8,563.8 639.6,567.4 644.4,570.9 649.1,574.3 653.6,577.5 657.9,580.4 662.0,583.1 665.9,585.6 669.5,587.8 673.0,589.7 676.5,591.4 679.8,592.8 683.3,594.1 686.9,595.2 690.6,596.1 694.6,596.9 698.8,597.7 703.1,598.3 707.2,598.8 711.0,599.2 714.1,599.4 716.3,599.6 717.6,599.7 718.1,599.7 718.2,599.7 718.2,606.4 718.1,606.4 717.6,606.4 716.3,606.3 714.1,606.1 711.0,605.9 707.2,605.5 703.1,605.0 698.8,604.4 694.6,603.7 690.6,602.8 686.9,601.9 683.3,600.8 679.8,599.5 676.5,598.1 673.0,596.4 669.5,594.5 665.9,592.3 662.0,589.8 657.9,587.1 653.6,584.2 649.1,581.0 644.4,577.6 639.6,574.1 634.8,570.5 629.9,567.0 625.1,563.5 620.4,560.1 615.9,556.9 611.6,553.9 607.5,551.2 603.6,548.8 600.0,546.6 596.5,544.7 593.0,543.0 589.7,541.5 586.2,540.3 582.6,539.2 578.9,538.2 574.9,537.4 570.7,536.7 566.4,536.1 562.3,535.6 558.5,535.2 555.4,534.9 553.2,534.8 551.9,534.7 551.4,534.6 551.3,534.6Z" fill="#25858E" fill-opacity="0.5"/>
<path d="M551.3,534.6 551.4,534.7 551.9,534.7 553.2,534.8 555.4,535.1 558.5,535.5 562.3,536.2 566.4,536.9 570.7,537.9 574.9,539.0 578.9,540.3 582.6,541.8 586.2,543.5 589.7,545.5 593.0,547.8 596.5,550.5 600.0,553.5 603.6,557.0 607.5,560.8 611.6,565.1 615.9,569.8 620.4,574.8 625.1,580.1 629.9,585.6 634.8,591.3 639.6,596.9 644.4,602.4 649.1,607.7 653.6,612.8 657.9,617.4 662.0,621.7 665.9,625.5 669.5,629.0 673.0,632.0 676.5,634.7 679.8,637.0 683.3,639.0 686.9,640.7 690.6,642.2 694.6,643.5 698.8,644.6 703.1,645.6 707.2,646.4 711.0,647.0 714.1,647.4 716.3,647.7 717.6,647.8 718.1,647.9 718.2,647.9 718.2,655.0 718.1,655.0 717.6,654.9 716.3,654.8 714.1,654.5 711.0,654.1 707.2,653.5 703.1,652.7 698.8,651.8 694.6,650.6 690.6,649.3 686.9,647.8 683.3,646.1 679.8,644.1 676.5,641.8 673.0,639.2 669.5,636.1 665.9,632.7 662.0,628.8 657.9,624.6 653.6,619.9 649.1,614.9 644.4,609.6 639.6,604.0 634.8,598.4 629.9,592.8 625.1,587.2 620.4,581.9 615.9,576.9 611.6,572.2 607.5,568.0 603.6,564.1 600.0,560.7 596.5,557.6 593.0,555.0 589.7,552.7 586.2,550.7 582.6,549.0 578.9,547.5 574.9,546.2 570.7,545.0 566.4,544.1 562.3,543.3 558.5,542.7 555.4,542.3 553.2,542.0 551.9,541.8 551.4,541.8 551.3,541.8Z" fill="#25858E" fill-opacity="0.5"/>
<path d="M551.3,541.8 551.4,541.8 551.9,541.9 553.2,542.0 555.4,542.3 558.5,542.8 562.3,543.4 566.4,544.3 570.7,545.3 574.9,546.5 578.9,547.9 582.6,549.5 586.2,551.4 589.7,553.5 593.0,556.0 596.5,558.9 600.0,562.2 603.6,565.9 607.5,570.0 611.6,574.6 615.9,579.7 620.4,585.1 625.1,590.8 629.9,596.8 634.8,602.9 639.6,609.0 644.4,614.9 649.1,620.7 653.6,626.1 657.9,631.1 662.0,635.8 665.9,639.9 669.5,643.6 673.0,646.9 676.5,649.8 679.8,652.3 683.3,654.4 686.9,656.2 690.6,657.9 694.6,659.3 698.8,660.5 703.1,661.5 707.2,662.4 711.0,663.0 714.1,663.5 716.3,663.8 717.6,663.9 718.1,664.0 718.2,664.0 718.2,674.2 718.1,674.2 717.6,674.1 716.3,674.0 714.1,673.7 711.0,673.2 707.2,672.6 703.1,671.7 698.8,670.7 694.6,669.5 690.6,668.1 686.9,666.5 683.3,664.6 679.8,662.5 676.5,660.0 673.0,657.1 669.5,653.8 665.9,650.1 662.0,646.0 657.9,641.4 653.6,636.3 649.1,630.9 644.4,625.2 639.6,619.2 634.8,613.1 629.9,607.0 625.1,601.1 620.4,595.3 615.9,589.9 611.6,584.9 607.5,580.2 603.6,576.1 600.0,572.4 596.5,569.1 593.0,566.2 589.7,563.7 586.2,561.6 582.6,559.8 578.9,558.1 574.9,556.7 570.7,555.5 566.4,554.5 562.3,553.6 558.5,553.0 555.4,552.5 553.2,552.2 551.9,552.1 551.4,552.0 551.3,552.0Z" fill="#25858E" fill-opacity="0.5"/>
<path d="M551.3,552.0 551.4,552.0 551.9,551.9 553.2,551.6 555.4,551.1 558.5,550.3 562.3,549.1 566.4,547.7 570.7,545.9 574.9,543.7 578.9,541.3 582.6,538.4 586.2,535.2 589.7,531.4 593.0,527.1 596.5,522.1 600.0,516.3 603.6,509.8 607.5,502.5 611.6,494.4 615.9,485.6 620.4,476.1 625.1,466.1 629.9,455.6 634.8,445.0 639.6,434.3 644.4,423.8 649.1,413.8 653.6,404.3 657.9,395.5 662.0,387.4 665.9,380.1 669.5,373.6 673.0,367.8 676.5,362.8 679.8,358.5 683.3,354.7 686.9,351.5 690.6,348.7 694.6,346.2 698.8,344.1 703.1,342.2 707.2,340.8 711.0,339.6 714.1,338.8 716.3,338.3 717.6,338.0 718.1,337.9 718.2,337.9 718.2,350.2 718.1,350.2 717.6,350.3 716.3,350.6 714.1,351.1 711.0,351.9 707.2,353.1 703.1,354.5 698.8,356.3 694.6,358.5 690.6,361.0 686.9,363.8 683.3,367.0 679.8,370.8 676.5,375.1 673.0,380.1 669.5,385.9 665.9,392.4 662.0,399.7 657.9,407.8 653.6,416.6 649.1,426.1 644.4,436.1 639.6,446.6 634.8,457.2 629.9,467.9 625.1,478.4 620.4,488.4 615.9,497.9 611.6,506.7 607.5,514.8 603.6,522.1 600.0,528.6 596.5,534.4 593.0,539.4 589.7,543.7 586.2,547.5 582.6,550.7 578.9,553.5 574.9,556.0 570.7,558.1 566.4,560.0 562.3,561.4 558.5,562.6 555.4,563.4 553.2,563.9 551.9,564.2 551.4,564.3 551.3,564.3Z" fill="#1E9B8A" fill-opacity="0.5"/>
<path d="M551.3,564.3 551.4,564.3 551.9,564.2 553.2,564.1 555.4,563.8 558.5,563.3 562.3,562.6 566.4,561.7 570.7,560.7 574.9,559.4 578.9,557.9 582.6,556.3 586.2,554.3 589.7,552.1 593.0,549.5 596.5,546.6 600.0,543.2 603.6,539.3 607.5,535.0 611.6,530.2 615.9,525.0 620.4,519.4 625.1,513.4 629.9,507.2 634.8,500.9 639.6,494.6 644.4,488.4 649.1,482.4 653.6,476.8 657.9,471.6 662.0,466.8 665.9,462.5 669.5,458.6 673.0,455.2 676.5,452.3 679.8,449.7 683.3,447.5 686.9,445.6 690.6,443.9 694.6,442.4 698.8,441.1 703.1,440.1 707.2,439.2 711.0,438.5 714.1,438.0 716.3,437.7 717.6,437.6 718.1,437.5 718.2,437.5 718.2,452.2 718.1,452.2 717.6,452.3 716.3,452.4 714.1,452.7 711.0,453.2 707.2,453.9 703.1,454.8 698.8,455.8 694.6,457.1 690.6,458.6 686.9,460.2 683.3,462.2 679.8,464.4 676.5,466.9 673.0,469.9 669.5,473.3 665.9,477.2 662.0,481.5 657.9,486.3 653.6,491.5 649.1,497.1 644.4,503.1 639.6,509.3 634.8,515.6 629.9,521.9 625.1,528.1 620.4,534.0 615.9,539.7 611.6,544.9 607.5,549.7 603.6,554.0 600.0,557.8 596.5,561.3 593.0,564.2 589.7,566.8 586.2,569.0 582.6,570.9 578.9,572.6 574.9,574.1 570.7,575.3 566.4,576.4 562.3,577.3 558.5,578.0 555.4,578.5 553.2,578.8 551.9,578.9 551.4,579.0 551.3,579.0Z" fill="#1E9B8A" fill-opacity="0.5"/>
<path d="M551.3,578.98C624.7,578.98 644.8,539.93 718.2,539.93L718.2,547.32C644.8,547.32 624.7,586.36 551.3,586.36Z" fill="#1E9B8A" fill-opacity="0.5"/>
<path d="M551.3,586.36C624.7,586.36 644.8,606.43 718.2,606.43L718.2,612.62C644.8,612.62 624.7,592.55 551.3,592.55Z" fill="#1E9B8A" fill-opacity="0.5"/>
<path d="M551.3,592.5 551.4,592.6 551.9,592.6 553.2,592.7 555.4,592.8 558.5,593.0 562.3,593.4 566.4,593.8 570.7,594.3 574.9,595.0 578.9,595.7 582.6,596.5 586.2,597.5 589.7,598.6 593.0,599.8 596.5,601.3 600.0,603.0 603.6,604.9 607.5,607.0 611.6,609.3 615.9,611.9 620.4,614.7 625.1,617.6 629.9,620.7 634.8,623.8 639.6,626.9 644.4,629.9 649.1,632.9 653.6,635.6 657.9,638.2 662.0,640.6 665.9,642.7 669.5,644.6 673.0,646.3 676.5,647.7 679.8,649.0 683.3,650.1 686.9,651.0 690.6,651.9 694.6,652.6 698.8,653.2 703.1,653.7 707.2,654.2 711.0,654.5 714.1,654.7 716.3,654.9 717.6,655.0 718.1,655.0 718.2,655.0 718.2,659.7 718.1,659.6 717.6,659.6 716.3,659.5 714.1,659.4 711.0,659.2 707.2,658.8 703.1,658.4 698.8,657.9 694.6,657.2 690.6,656.5 686.9,655.7 683.3,654.7 679.8,653.6 676.5,652.4 673.0,650.9 669.5,649.2 665.9,647.3 662.0,645.2 657.9,642.9 653.6,640.3 649.1,637.5 644.4,634.6 639.6,631.5 634.8,628.4 629.9,625.3 625.1,622.3 620.4,619.3 615.9,616.6 611.6,614.0 607.5,611.6 603.6,609.5 600.0,607.6 596.5,605.9 593.0,604.5 589.7,603.2 586.2,602.1 582.6,601.2 578.9,600.3 574.9,599.6 570.7,599.0 566.4,598.5 562.3,598.0 558.5,597.7 555.4,597.5 553.2,597.3 551.9,597.2 551.4,597.2 551.3,597.2Z" fill="#1E9B8A" fill-opacity="0.5"/>
<path d="M551.3,597.2 551.4,597.2 551.9,597.2 553.2,597.3 555.4,597.5 558.5,597.8 562.3,598.2 566.4,598.8 570.7,599.4 574.9,600.2 578.9,601.1 582.6,602.1 586.2,603.2 589.7,604.6 593.0,606.2 596.5,608.0 600.0,610.0 603.6,612.4 607.5,615.0 611.6,617.9 615.9,621.1 620.4,624.5 625.1,628.1 629.9,631.9 634.8,635.7 639.6,639.5 644.4,643.3 649.1,646.9 653.6,650.3 657.9,653.5 662.0,656.4 665.9,659.0 669.5,661.4 673.0,663.4 676.5,665.2 679.8,666.8 683.3,668.2 686.9,669.3 690.6,670.3 694.6,671.2 698.8,672.0 703.1,672.7 707.2,673.2 711.0,673.6 714.1,673.9 716.3,674.1 717.6,674.2 718.1,674.2 718.2,674.2 718.2,681.2 718.1,681.2 717.6,681.2 716.3,681.1 714.1,680.9 711.0,680.6 707.2,680.2 703.1,679.7 698.8,679.0 694.6,678.3 690.6,677.4 686.9,676.4 683.3,675.2 679.8,673.8 676.5,672.3 673.0,670.5 669.5,668.4 665.9,666.1 662.0,663.4 657.9,660.5 653.6,657.4 649.1,653.9 644.4,650.3 639.6,646.6 634.8,642.7 629.9,638.9 625.1,635.1 620.4,631.5 615.9,628.1 611.6,624.9 607.5,622.0 603.6,619.4 600.0,617.1 596.5,615.0 593.0,613.2 589.7,611.6 586.2,610.3 582.6,609.1 578.9,608.1 574.9,607.2 570.7,606.4 566.4,605.8 562.3,605.2 558.5,604.8 555.4,604.5 553.2,604.4 551.9,604.3 551.4,604.2 551.3,604.2Z" fill="#1E9B8A" fill-opacity="0.5"/>
<path d="M551.3,604.2 551.4,604.2 551.9,604.3 553.2,604.4 555.4,604.5 558.5,604.9 562.3,605.3 566.4,605.8 570.7,606.5 574.9,607.3 578.9,608.2 582.6,609.3 586.2,610.5 589.7,611.9 593.0,613.5 596.5,615.4 600.0,617.5 603.6,619.9 607.5,622.7 611.6,625.7 615.9,629.0 620.4,632.5 625.1,636.2 629.9,640.1 634.8,644.1 639.6,648.1 644.4,652.0 649.1,655.7 653.6,659.3 657.9,662.6 662.0,665.6 665.9,668.3 669.5,670.7 673.0,672.8 676.5,674.7 679.8,676.3 683.3,677.7 686.9,678.9 690.6,680.0 694.6,680.9 698.8,681.7 703.1,682.4 707.2,682.9 711.0,683.4 714.1,683.7 716.3,683.9 717.6,684.0 718.1,684.0 718.2,684.0 718.2,713.8 718.1,713.8 717.6,713.7 716.3,713.6 714.1,713.5 711.0,713.1 707.2,712.7 703.1,712.2 698.8,711.5 694.6,710.7 690.6,709.8 686.9,708.7 683.3,707.5 679.8,706.1 676.5,704.5 673.0,702.6 669.5,700.5 665.9,698.1 662.0,695.3 657.9,692.3 653.6,689.0 649.1,685.5 644.4,681.8 639.6,677.9 634.8,673.9 629.9,669.9 625.1,666.0 620.4,662.3 615.9,658.7 611.6,655.4 607.5,652.4 603.6,649.7 600.0,647.3 596.5,645.2 593.0,643.3 589.7,641.7 586.2,640.3 582.6,639.1 578.9,638.0 574.9,637.1 570.7,636.3 566.4,635.6 562.3,635.1 558.5,634.6 555.4,634.3 553.2,634.1 551.9,634.0 551.4,634.0 551.3,634.0Z" fill="#1E9B8A" fill-opacity="0.5"/>
<path d="M551.3,634.0 551.4,634.0 551.9,633.9 553.2,633.5 555.4,632.8 558.5,631.7 562.3,630.2 566.4,628.3 570.7,625.9 574.9,623.0 578.9,619.8 582.6,616.0 586.2,611.7 589.7,606.7 593.0,601.0 596.5,594.3 600.0,586.7 603.6,578.1 607.5,568.4 611.6,557.7 615.9,546.0 620.4,533.4 625.1,520.1 629.9,506.2 634.8,492.1 639.6,478.0 644.4,464.1 649.1,450.8 653.6,438.2 657.9,426.5 662.0,415.8 665.9,406.1 669.5,397.5 673.0,389.9 676.5,383.2 679.8,377.5 683.3,372.5 686.9,368.2 690.6,364.5 694.6,361.2 698.8,358.4 703.1,355.9 707.2,354.0 711.0,352.5 714.1,351.4 716.3,350.7 717.6,350.3 718.1,350.2 718.2,350.2 718.2,359.1 718.1,359.1 717.6,359.2 716.3,359.6 714.1,360.2 711.0,361.3 707.2,362.9 703.1,364.8 698.8,367.2 694.6,370.1 690.6,373.3 686.9,377.1 683.3,381.4 679.8,386.4 676.5,392.1 673.0,398.7 669.5,406.4 665.9,415.0 662.0,424.7 657.9,435.4 653.6,447.1 649.1,459.7 644.4,473.0 639.6,486.8 634.8,501.0 629.9,515.1 625.1,528.9 620.4,542.3 615.9,554.9 611.6,566.6 607.5,577.3 603.6,586.9 600.0,595.6 596.5,603.2 593.0,609.8 589.7,615.6 586.2,620.6 582.6,624.9 578.9,628.6 574.9,631.9 570.7,634.7 566.4,637.1 562.3,639.1 558.5,640.6 555.4,641.7 553.2,642.4 551.9,642.7 551.4,642.9 551.3,642.9Z" fill="#2BB07F" fill-opacity="0.5"/>
<path d="M551.3,642.9 551.4,642.9 551.9,642.8 553.2,642.5 555.4,642.1 558.5,641.4 562.3,640.3 566.4,639.0 570.7,637.4 574.9,635.5 578.9,633.3 582.6,630.8 586.2,627.9 589.7,624.5 593.0,620.7 596.5,616.2 600.0,611.1 603.6,605.3 607.5,598.8 611.6,591.6 615.9,583.7 620.4,575.3 625.1,566.3 629.9,557.0 634.8,547.5 639.6,538.0 644.4,528.7 649.1,519.8 653.6,511.3 657.9,503.5 662.0,496.3 665.9,489.8 669.5,484.0 673.0,478.8 676.5,474.4 679.8,470.5 683.3,467.2 686.9,464.3 690.6,461.8 694.6,459.6 698.8,457.7 703.1,456.1 707.2,454.7 711.0,453.7 714.1,453.0 716.3,452.5 717.6,452.3 718.1,452.2 718.2,452.2 718.2,464.0 718.1,464.0 717.6,464.1 716.3,464.3 714.1,464.8 711.0,465.5 707.2,466.5 703.1,467.9 698.8,469.5 694.6,471.4 690.6,473.6 686.9,476.1 683.3,479.0 679.8,482.3 676.5,486.2 673.0,490.7 669.5,495.8 665.9,501.6 662.0,508.1 657.9,515.3 653.6,523.1 649.1,531.6 644.4,540.5 639.6,549.8 634.8,559.3 629.9,568.8 625.1,578.1 620.4,587.1 615.9,595.6 611.6,603.4 607.5,610.6 603.6,617.1 600.0,622.9 596.5,628.0 593.0,632.5 589.7,636.3 586.2,639.7 582.6,642.6 578.9,645.1 574.9,647.3 570.7,649.2 566.4,650.8 562.3,652.1 558.5,653.2 555.4,653.9 553.2,654.3 551.9,654.6 551.4,654.7 551.3,654.7Z" fill="#2BB07F" fill-opacity="0.5"/>
<path d="M551.3,654.7 551.4,654.7 551.9,654.6 553.2,654.5 555.4,654.2 558.5,653.8 562.3,653.3 566.4,652.5 570.7,651.6 574.9,650.5 578.9,649.3 582.6,647.9 586.2,646.2 589.7,644.4 593.0,642.2 596.5,639.7 600.0,636.8 603.6,633.5 607.5,629.9 611.6,625.8 615.9,621.4 620.4,616.6 625.1,611.6 629.9,606.3 634.8,601.0 639.6,595.7 644.4,590.4 649.1,585.4 653.6,580.6 657.9,576.2 662.0,572.1 665.9,568.5 669.5,565.2 673.0,562.3 676.5,559.8 679.8,557.6 683.3,555.8 686.9,554.1 690.6,552.7 694.6,551.5 698.8,550.4 703.1,549.5 707.2,548.7 711.0,548.2 714.1,547.8 716.3,547.5 717.6,547.4 718.1,547.3 718.2,547.3 718.2,552.4 718.1,552.4 717.6,552.4 716.3,552.6 714.1,552.8 711.0,553.2 707.2,553.8 703.1,554.6 698.8,555.5 694.6,556.5 690.6,557.8 686.9,559.2 683.3,560.8 679.8,562.7 676.5,564.9 673.0,567.4 669.5,570.3 665.9,573.5 662.0,577.2 657.9,581.2 653.6,585.7 649.1,590.4 644.4,595.5 639.6,600.7 634.8,606.1 629.9,611.4 625.1,616.6 620.4,621.7 615.9,626.5 611.6,630.9 607.5,634.9 603.6,638.6 600.0,641.8 596.5,644.7 593.0,647.2 589.7,649.4 586.2,651.3 582.6,652.9 578.9,654.4 574.9,655.6 570.7,656.7 566.4,657.6 562.3,658.3 558.5,658.9 555.4,659.3 553.2,659.6 551.9,659.7 551.4,659.7 551.3,659.7Z" fill="#2BB07F" fill-opacity="0.5"/>
<path d="M551.3,659.7 551.4,659.7 551.9,659.7 553.2,659.7 555.4,659.5 558.5,659.4 562.3,659.1 566.4,658.8 570.7,658.4 574.9,657.9 578.9,657.4 582.6,656.8 586.2,656.0 589.7,655.2 593.0,654.3 596.5,653.2 600.0,651.9 603.6,650.5 607.5,648.9 611.6,647.1 615.9,645.1 620.4,643.0 625.1,640.8 629.9,638.5 634.8,636.2 639.6,633.8 644.4,631.5 649.1,629.3 653.6,627.2 657.9,625.3 662.0,623.5 665.9,621.9 669.5,620.5 673.0,619.2 676.5,618.1 679.8,617.1 683.3,616.3 686.9,615.6 690.6,615.0 694.6,614.4 698.8,614.0 703.1,613.6 707.2,613.2 711.0,613.0 714.1,612.8 716.3,612.7 717.6,612.6 718.1,612.6 718.2,612.6 718.2,617.0 718.1,617.0 717.6,617.0 716.3,617.1 714.1,617.2 711.0,617.4 707.2,617.6 703.1,617.9 698.8,618.3 694.6,618.8 690.6,619.4 686.9,620.0 683.3,620.7 679.8,621.5 676.5,622.5 673.0,623.6 669.5,624.8 665.9,626.3 662.0,627.9 657.9,629.7 653.6,631.6 649.1,633.7 644.4,635.9 639.6,638.2 634.8,640.6 629.9,642.9 625.1,645.2 620.4,647.4 615.9,649.5 611.6,651.4 607.5,653.2 603.6,654.8 600.0,656.3 596.5,657.5 593.0,658.6 589.7,659.6 586.2,660.4 582.6,661.1 578.9,661.7 574.9,662.3 570.7,662.8 566.4,663.2 562.3,663.5 558.5,663.7 555.4,663.9 553.2,664.0 551.9,664.1 551.4,664.1 551.3,664.1Z" fill="#2BB07F" fill-opacity="0.5"/>
<path d="M551.3,664.12C624.7,664.12 644.8,659.65 718.2,659.65L718.2,661.02C644.8,661.02 624.7,665.49 551.3,665.49Z" fill="#2BB07F" fill-opacity="0.5"/>
<path d="M551.3,665.49C624.7,665.49 644.8,681.24 718.2,681.24L718.2,682.19C644.8,682.19 624.7,666.44 551.3,666.44Z" fill="#2BB07F" fill-opacity="0.5"/>
<path d="M551.3,666.4 551.4,666.4 551.9,666.5 553.2,666.5 555.4,666.6 558.5,666.8 562.3,667.1 566.4,667.4 570.7,667.8 574.9,668.3 578.9,668.8 582.6,669.4 586.2,670.2 589.7,671.0 593.0,671.9 596.5,673.1 600.0,674.3 603.6,675.8 607.5,677.4 611.6,679.2 615.9,681.1 620.4,683.2 625.1,685.4 629.9,687.8 634.8,690.1 639.6,692.5 644.4,694.8 649.1,697.0 653.6,699.1 657.9,701.1 662.0,702.8 665.9,704.5 669.5,705.9 673.0,707.2 676.5,708.3 679.8,709.2 683.3,710.1 686.9,710.8 690.6,711.4 694.6,712.0 698.8,712.4 703.1,712.8 707.2,713.2 711.0,713.4 714.1,713.6 716.3,713.7 717.6,713.8 718.1,713.8 718.2,713.8 718.2,715.8 718.1,715.8 717.6,715.8 716.3,715.7 714.1,715.6 711.0,715.4 707.2,715.2 703.1,714.8 698.8,714.4 694.6,714.0 690.6,713.4 686.9,712.8 683.3,712.1 679.8,711.2 676.5,710.3 673.0,709.2 669.5,707.9 665.9,706.5 662.0,704.9 657.9,703.1 653.6,701.1 649.1,699.0 644.4,696.8 639.6,694.5 634.8,692.1 629.9,689.8 625.1,687.5 620.4,685.2 615.9,683.1 611.6,681.2 607.5,679.4 603.6,677.8 600.0,676.3 596.5,675.1 593.0,674.0 589.7,673.0 586.2,672.2 582.6,671.5 578.9,670.8 574.9,670.3 570.7,669.8 566.4,669.4 562.3,669.1 558.5,668.8 555.4,668.6 553.2,668.5 551.9,668.5 551.4,668.5 551.3,668.5Z" fill="#2BB07F" fill-opacity="0.5"/>
<path d="M551.3,668.5 551.4,668.5 551.9,668.5 553.2,668.5 555.4,668.7 558.5,668.8 562.3,669.1 566.4,669.5 570.7,669.9 574.9,670.4 578.9,670.9 582.6,671.6 586.2,672.3 589.7,673.2 593.0,674.2 596.5,675.4 600.0,676.7 603.6,678.2 607.5,679.9 611.6,681.8 615.9,683.8 620.4,686.0 625.1,688.3 629.9,690.8 634.8,693.2 639.6,695.7 644.4,698.1 649.1,700.4 653.6,702.6 657.9,704.7 662.0,706.5 665.9,708.2 669.5,709.7 673.0,711.1 676.5,712.2 679.8,713.2 683.3,714.1 686.9,714.9 690.6,715.5 694.6,716.1 698.8,716.6 703.1,717.0 707.2,717.3 711.0,717.6 714.1,717.8 716.3,717.9 717.6,718.0 718.1,718.0 718.2,718.0 718.2,730.5 718.1,730.5 717.6,730.5 716.3,730.5 714.1,730.3 711.0,730.2 707.2,729.9 703.1,729.5 698.8,729.1 694.6,728.6 690.6,728.1 686.9,727.4 683.3,726.7 679.8,725.8 676.5,724.8 673.0,723.6 669.5,722.3 665.9,720.8 662.0,719.1 657.9,717.2 653.6,715.2 649.1,713.0 644.4,710.7 639.6,708.2 634.8,705.8 629.9,703.3 625.1,700.9 620.4,698.6 615.9,696.4 611.6,694.3 607.5,692.5 603.6,690.8 600.0,689.3 596.5,687.9 593.0,686.8 589.7,685.8 586.2,684.9 582.6,684.1 578.9,683.5 574.9,682.9 570.7,682.4 566.4,682.0 562.3,681.7 558.5,681.4 555.4,681.2 553.2,681.1 551.9,681.0 551.4,681.0 551.3,681.0Z" fill="#2BB07F" fill-opacity="0.5"/>
<path d="M551.3,681.0 551.4,681.0 551.9,680.8 553.2,680.4 555.4,679.7 558.5,678.4 562.3,676.7 566.4,674.5 570.7,671.8 574.9,668.5 578.9,664.8 582.6,660.6 586.2,655.7 589.7,650.1 593.0,643.5 596.5,636.0 600.0,627.3 603.6,617.6 607.5,606.6 611.6,594.4 615.9,581.2 620.4,566.9 625.1,551.8 629.9,536.1 634.8,520.0 639.6,504.0 644.4,488.3 649.1,473.2 653.6,458.9 657.9,445.6 662.0,433.5 665.9,422.5 669.5,412.7 673.0,404.1 676.5,396.5 679.8,390.0 683.3,384.4 686.9,379.5 690.6,375.2 694.6,371.5 698.8,368.3 703.1,365.6 707.2,363.4 711.0,361.6 714.1,360.4 716.3,359.6 717.6,359.2 718.1,359.1 718.2,359.1 718.2,369.0 718.1,369.0 717.6,369.2 716.3,369.6 714.1,370.4 711.0,371.6 707.2,373.3 703.1,375.5 698.8,378.3 694.6,381.5 690.6,385.2 686.9,389.4 683.3,394.3 679.8,400.0 676.5,406.5 673.0,414.0 669.5,422.7 665.9,432.5 662.0,443.4 657.9,455.6 653.6,468.8 649.1,483.1 644.4,498.3 639.6,514.0 634.8,530.0 629.9,546.0 625.1,561.7 620.4,576.8 615.9,591.1 611.6,604.4 607.5,616.5 603.6,627.5 600.0,637.3 596.5,646.0 593.0,653.5 589.7,660.0 586.2,665.6 582.6,670.5 578.9,674.8 574.9,678.5 570.7,681.7 566.4,684.4 562.3,686.7 558.5,688.4 555.4,689.6 553.2,690.4 551.9,690.8 551.4,690.9 551.3,691.0Z" fill="#51C56A" fill-opacity="0.5"/>
<path d="M551.3,691.0 551.4,690.9 551.9,690.8 553.2,690.6 555.4,690.0 558.5,689.1 562.3,687.9 566.4,686.4 570.7,684.4 574.9,682.2 578.9,679.6 582.6,676.6 586.2,673.1 589.7,669.1 593.0,664.5 596.5,659.2 600.0,653.1 603.6,646.2 607.5,638.5 611.6,629.9 615.9,620.6 620.4,610.5 625.1,599.8 629.9,588.8 634.8,577.5 639.6,566.2 644.4,555.1 649.1,544.4 653.6,534.4 657.9,525.0 662.0,516.5 665.9,508.7 669.5,501.8 673.0,495.7 676.5,490.4 679.8,485.8 683.3,481.8 686.9,478.4 690.6,475.4 694.6,472.8 698.8,470.5 703.1,468.6 707.2,467.0 711.0,465.8 714.1,464.9 716.3,464.4 717.6,464.1 718.1,464.0 718.2,464.0 718.2,470.4 718.1,470.4 717.6,470.5 716.3,470.8 714.1,471.3 711.0,472.2 707.2,473.4 703.1,475.0 698.8,476.9 694.6,479.1 690.6,481.8 686.9,484.8 683.3,488.2 679.8,492.2 676.5,496.8 673.0,502.1 669.5,508.2 665.9,515.1 662.0,522.8 657.9,531.4 653.6,540.7 649.1,550.8 644.4,561.5 639.6,572.5 634.8,583.8 629.9,595.1 625.1,606.2 620.4,616.9 615.9,626.9 611.6,636.3 607.5,644.9 603.6,652.6 600.0,659.5 596.5,665.6 593.0,670.9 589.7,675.5 586.2,679.5 582.6,682.9 578.9,685.9 574.9,688.5 570.7,690.8 566.4,692.7 562.3,694.3 558.5,695.5 555.4,696.4 553.2,696.9 551.9,697.2 551.4,697.3 551.3,697.3Z" fill="#51C56A" fill-opacity="0.5"/>
<path d="M551.3,697.3 551.4,697.3 551.9,697.2 553.2,697.1 555.4,696.7 558.5,696.2 562.3,695.4 566.4,694.4 570.7,693.2 574.9,691.7 578.9,690.0 582.6,688.1 586.2,685.9 589.7,683.4 593.0,680.5 596.5,677.1 600.0,673.2 603.6,668.8 607.5,663.8 611.6,658.4 615.9,652.4 620.4,645.9 625.1,639.1 629.9,632.1 634.8,624.9 639.6,617.6 644.4,610.6 649.1,603.8 653.6,597.3 657.9,591.3 662.0,585.9 665.9,580.9 669.5,576.5 673.0,572.6 676.5,569.2 679.8,566.3 683.3,563.8 686.9,561.6 690.6,559.7 694.6,558.0 698.8,556.5 703.1,555.3 707.2,554.3 711.0,553.5 714.1,553.0 716.3,552.6 717.6,552.5 718.1,552.4 718.2,552.4 718.2,556.1 718.1,556.1 717.6,556.2 716.3,556.4 714.1,556.7 711.0,557.3 707.2,558.0 703.1,559.1 698.8,560.3 694.6,561.7 690.6,563.4 686.9,565.3 683.3,567.5 679.8,570.1 676.5,573.0 673.0,576.4 669.5,580.3 665.9,584.7 662.0,589.6 657.9,595.1 653.6,601.1 649.1,607.5 644.4,614.3 639.6,621.4 634.8,628.6 629.9,635.8 625.1,642.9 620.4,649.7 615.9,656.1 611.6,662.1 607.5,667.6 603.6,672.5 600.0,676.9 596.5,680.8 593.0,684.2 589.7,687.1 586.2,689.7 582.6,691.9 578.9,693.8 574.9,695.4 570.7,696.9 566.4,698.1 562.3,699.1 558.5,699.9 555.4,700.5 553.2,700.8 551.9,701.0 551.4,701.0 551.3,701.1Z" fill="#51C56A" fill-opacity="0.5"/>
<path d="M551.3,701.1 551.4,701.0 551.9,701.0 553.2,700.9 555.4,700.7 558.5,700.4 562.3,699.9 566.4,699.4 570.7,698.6 574.9,697.8 578.9,696.8 582.6,695.7 586.2,694.4 589.7,693.0 593.0,691.3 596.5,689.3 600.0,687.0 603.6,684.5 607.5,681.6 611.6,678.5 615.9,675.0 620.4,671.3 625.1,667.3 629.9,663.2 634.8,659.0 639.6,654.8 644.4,650.7 649.1,646.8 653.6,643.1 657.9,639.6 662.0,636.4 665.9,633.6 669.5,631.0 673.0,628.7 676.5,626.8 679.8,625.1 683.3,623.6 686.9,622.3 690.6,621.2 694.6,620.2 698.8,619.4 703.1,618.7 707.2,618.1 711.0,617.7 714.1,617.3 716.3,617.1 717.6,617.0 718.1,617.0 718.2,617.0 718.2,619.5 718.1,619.5 717.6,619.5 716.3,619.6 714.1,619.8 711.0,620.2 707.2,620.6 703.1,621.2 698.8,621.9 694.6,622.7 690.6,623.7 686.9,624.8 683.3,626.1 679.8,627.6 676.5,629.3 673.0,631.2 669.5,633.5 665.9,636.1 662.0,638.9 657.9,642.1 653.6,645.6 649.1,649.3 644.4,653.2 639.6,657.3 634.8,661.5 629.9,665.7 625.1,669.8 620.4,673.8 615.9,677.5 611.6,681.0 607.5,684.1 603.6,687.0 600.0,689.5 596.5,691.8 593.0,693.8 589.7,695.5 586.2,696.9 582.6,698.2 578.9,699.3 574.9,700.3 570.7,701.1 566.4,701.9 562.3,702.4 558.5,702.9 555.4,703.2 553.2,703.4 551.9,703.5 551.4,703.6 551.3,703.6Z" fill="#51C56A" fill-opacity="0.5"/>
<path d="M551.3,703.6 551.4,703.6 551.9,703.5 553.2,703.5 555.4,703.4 558.5,703.2 562.3,703.0 566.4,702.7 570.7,702.3 574.9,701.9 578.9,701.4 582.6,700.9 586.2,700.2 589.7,699.5 593.0,698.6 596.5,697.6 600.0,696.5 603.6,695.2 607.5,693.7 611.6,692.1 615.9,690.4 620.4,688.5 625.1,686.5 629.9,684.4 634.8,682.3 639.6,680.2 644.4,678.1 649.1,676.1 653.6,674.2 657.9,672.5 662.0,670.9 665.9,669.4 669.5,668.1 673.0,667.0 676.5,666.0 679.8,665.1 683.3,664.4 686.9,663.7 690.6,663.2 694.6,662.7 698.8,662.2 703.1,661.9 707.2,661.6 711.0,661.4 714.1,661.2 716.3,661.1 717.6,661.0 718.1,661.0 718.2,661.0 718.2,661.9 718.1,661.9 717.6,661.9 716.3,662.0 714.1,662.1 711.0,662.3 707.2,662.5 703.1,662.8 698.8,663.1 694.6,663.6 690.6,664.1 686.9,664.6 683.3,665.3 679.8,666.0 676.5,666.9 673.0,667.9 669.5,669.0 665.9,670.3 662.0,671.8 657.9,673.4 653.6,675.1 649.1,677.0 644.4,679.0 639.6,681.1 634.8,683.2 629.9,685.3 625.1,687.4 620.4,689.4 615.9,691.3 611.6,693.0 607.5,694.6 603.6,696.1 600.0,697.4 596.5,698.5 593.0,699.5 589.7,700.4 586.2,701.1 582.6,701.8 578.9,702.3 574.9,702.8 570.7,703.2 566.4,703.6 562.3,703.9 558.5,704.1 555.4,704.3 553.2,704.4 551.9,704.4 551.4,704.5 551.3,704.5Z" fill="#51C56A" fill-opacity="0.5"/>
<path d="M551.3,704.45C624.7,704.45 644.8,682.19 718.2,682.19L718.2,682.59C644.8,682.59 624.7,704.85 551.3,704.85Z" fill="#51C56A" fill-opacity="0.5"/>
<path d="M551.3,704.85C624.7,704.85 644.8,715.80 718.2,715.80L718.2,716.50C644.8,716.50 624.7,705.56 551.3,705.56Z" fill="#51C56A" fill-opacity="0.5"/>
<path d="M551.3,705.56C624.7,705.56 644.8,730.55 718.2,730.55L718.2,732.43C644.8,732.43 624.7,707.45 551.3,707.45Z" fill="#51C56A" fill-opacity="0.5"/>
<path d="M551.3,707.45C624.7,707.45 644.8,734.00 718.2,734.00L718.2,739.55C644.8,739.55 624.7,713.00 551.3,713.00Z" fill="#51C56A" fill-opacity="0.5"/>
<path d="M551.3,713.0 551.4,713.0 551.9,712.8 553.2,712.4 555.4,711.6 558.5,710.3 562.3,708.4 566.4,706.0 570.7,703.1 574.9,699.7 578.9,695.7 582.6,691.2 586.2,686.0 589.7,679.9 593.0,673.0 596.5,664.9 600.0,655.7 603.6,645.2 607.5,633.5 611.6,620.5 615.9,606.3 620.4,591.1 625.1,574.9 629.9,558.1 634.8,541.0 639.6,523.9 644.4,507.1 649.1,491.0 653.6,475.7 657.9,461.5 662.0,448.5 665.9,436.8 669.5,426.4 673.0,417.1 676.5,409.1 679.8,402.1 683.3,396.1 686.9,390.8 690.6,386.3 694.6,382.3 698.8,378.9 703.1,376.0 707.2,373.6 711.0,371.8 714.1,370.4 716.3,369.6 717.6,369.2 718.1,369.0 718.2,369.0 718.2,372.1 718.1,372.2 717.6,372.3 716.3,372.7 714.1,373.6 711.0,374.9 707.2,376.7 703.1,379.1 698.8,382.0 694.6,385.5 690.6,389.4 686.9,394.0 683.3,399.2 679.8,405.2 676.5,412.2 673.0,420.2 669.5,429.5 665.9,439.9 662.0,451.6 657.9,464.6 653.6,478.8 649.1,494.1 644.4,510.2 639.6,527.0 634.8,544.1 629.9,561.2 625.1,578.0 620.4,594.2 615.9,609.5 611.6,623.6 607.5,636.6 603.6,648.3 600.0,658.8 596.5,668.0 593.0,676.1 589.7,683.1 586.2,689.1 582.6,694.3 578.9,698.8 574.9,702.8 570.7,706.2 566.4,709.2 562.3,711.5 558.5,713.4 555.4,714.7 553.2,715.5 551.9,715.9 551.4,716.1 551.3,716.1Z" fill="#85D54A" fill-opacity="0.5"/>
<path d="M551.3,716.1 551.4,716.1 551.9,716.0 553.2,715.7 555.4,715.1 558.5,714.2 562.3,712.8 566.4,711.1 570.7,709.1 574.9,706.6 578.9,703.8 582.6,700.5 586.2,696.8 589.7,692.5 593.0,687.5 596.5,681.8 600.0,675.2 603.6,667.7 607.5,659.3 611.6,650.0 615.9,639.9 620.4,629.0 625.1,617.5 629.9,605.5 634.8,593.2 639.6,581.0 644.4,569.0 649.1,557.5 653.6,546.6 657.9,536.4 662.0,527.2 665.9,518.8 669.5,511.3 673.0,504.7 676.5,499.0 679.8,494.0 683.3,489.7 686.9,486.0 690.6,482.7 694.6,479.9 698.8,477.4 703.1,475.3 707.2,473.6 711.0,472.3 714.1,471.4 716.3,470.8 717.6,470.5 718.1,470.4 718.2,470.4 718.2,474.8 718.1,474.8 717.6,474.9 716.3,475.2 714.1,475.8 711.0,476.7 707.2,478.0 703.1,479.7 698.8,481.8 694.6,484.3 690.6,487.1 686.9,490.3 683.3,494.1 679.8,498.4 676.5,503.4 673.0,509.1 669.5,515.7 665.9,523.2 662.0,531.6 657.9,540.8 653.6,551.0 649.1,561.9 644.4,573.4 639.6,585.4 634.8,597.6 629.9,609.9 625.1,621.9 620.4,633.4 615.9,644.3 611.6,654.4 607.5,663.7 603.6,672.1 600.0,679.5 596.5,686.2 593.0,691.9 589.7,696.9 586.2,701.2 582.6,704.9 578.9,708.2 574.9,711.0 570.7,713.4 566.4,715.5 562.3,717.2 558.5,718.6 555.4,719.5 553.2,720.1 551.9,720.4 551.4,720.5 551.3,720.5Z" fill="#85D54A" fill-opacity="0.5"/>
<path d="M551.3,720.5 551.4,720.5 551.9,720.4 553.2,720.2 555.4,719.8 558.5,719.2 562.3,718.3 566.4,717.2 570.7,715.8 574.9,714.1 578.9,712.3 582.6,710.1 586.2,707.6 589.7,704.7 593.0,701.4 596.5,697.5 600.0,693.1 603.6,688.1 607.5,682.5 611.6,676.3 615.9,669.5 620.4,662.2 625.1,654.5 629.9,646.5 634.8,638.3 639.6,630.1 644.4,622.1 649.1,614.4 653.6,607.1 657.9,600.3 662.0,594.1 665.9,588.5 669.5,583.5 673.0,579.1 676.5,575.2 679.8,571.9 683.3,569.0 686.9,566.5 690.6,564.4 694.6,562.5 698.8,560.8 703.1,559.4 707.2,558.3 711.0,557.4 714.1,556.8 716.3,556.4 717.6,556.2 718.1,556.1 718.2,556.1 718.2,558.8 718.1,558.9 717.6,558.9 716.3,559.1 714.1,559.5 711.0,560.2 707.2,561.0 703.1,562.2 698.8,563.6 694.6,565.2 690.6,567.1 686.9,569.3 683.3,571.8 679.8,574.7 676.5,578.0 673.0,581.8 669.5,586.2 665.9,591.2 662.0,596.8 657.9,603.0 653.6,609.8 649.1,617.1 644.4,624.8 639.6,632.9 634.8,641.0 629.9,649.2 625.1,657.2 620.4,665.0 615.9,672.3 611.6,679.0 607.5,685.2 603.6,690.8 600.0,695.8 596.5,700.3 593.0,704.1 589.7,707.4 586.2,710.3 582.6,712.8 578.9,715.0 574.9,716.9 570.7,718.5 566.4,719.9 562.3,721.0 558.5,721.9 555.4,722.6 553.2,722.9 551.9,723.2 551.4,723.2 551.3,723.2Z" fill="#85D54A" fill-opacity="0.5"/>
<path d="M551.3,723.2 551.4,723.2 551.9,723.2 553.2,723.1 555.4,722.8 558.5,722.4 562.3,721.9 566.4,721.1 570.7,720.3 574.9,719.2 578.9,718.0 582.6,716.7 586.2,715.1 589.7,713.3 593.0,711.2 596.5,708.7 600.0,705.9 603.6,702.8 607.5,699.3 611.6,695.3 615.9,691.1 620.4,686.5 625.1,681.6 629.9,676.5 634.8,671.4 639.6,666.2 644.4,661.1 649.1,656.3 653.6,651.7 657.9,647.4 662.0,643.5 665.9,639.9 669.5,636.8 673.0,634.0 676.5,631.6 679.8,629.5 683.3,627.6 686.9,626.1 690.6,624.7 694.6,623.5 698.8,622.5 703.1,621.6 707.2,620.9 711.0,620.3 714.1,619.9 716.3,619.7 717.6,619.5 718.1,619.5 718.2,619.5 718.2,621.8 718.1,621.8 717.6,621.9 716.3,622.0 714.1,622.3 711.0,622.7 707.2,623.2 703.1,623.9 698.8,624.8 694.6,625.9 690.6,627.1 686.9,628.4 683.3,630.0 679.8,631.8 676.5,633.9 673.0,636.3 669.5,639.1 665.9,642.3 662.0,645.8 657.9,649.7 653.6,654.0 649.1,658.6 644.4,663.5 639.6,668.6 634.8,673.7 629.9,678.9 625.1,683.9 620.4,688.8 615.9,693.4 611.6,697.7 607.5,701.6 603.6,705.1 600.0,708.3 596.5,711.1 593.0,713.5 589.7,715.6 586.2,717.4 582.6,719.0 578.9,720.4 574.9,721.6 570.7,722.6 566.4,723.5 562.3,724.2 558.5,724.8 555.4,725.2 553.2,725.4 551.9,725.5 551.4,725.6 551.3,725.6Z" fill="#85D54A" fill-opacity="0.5"/>
<path d="M551.3,725.6 551.4,725.6 551.9,725.6 553.2,725.5 555.4,725.3 558.5,725.1 562.3,724.7 566.4,724.3 570.7,723.8 574.9,723.1 578.9,722.4 582.6,721.5 586.2,720.6 589.7,719.5 593.0,718.2 596.5,716.7 600.0,715.0 603.6,713.0 607.5,710.9 611.6,708.5 615.9,705.8 620.4,703.0 625.1,700.0 629.9,696.9 634.8,693.8 639.6,690.6 644.4,687.5 649.1,684.5 653.6,681.7 657.9,679.0 662.0,676.6 665.9,674.5 669.5,672.5 673.0,670.8 676.5,669.3 679.8,668.0 683.3,666.9 686.9,666.0 690.6,665.1 694.6,664.4 698.8,663.8 703.1,663.2 707.2,662.8 711.0,662.4 714.1,662.2 716.3,662.0 717.6,662.0 718.1,661.9 718.2,661.9 718.2,663.4 718.1,663.4 717.6,663.4 716.3,663.5 714.1,663.6 711.0,663.9 707.2,664.2 703.1,664.7 698.8,665.2 694.6,665.8 690.6,666.6 686.9,667.4 683.3,668.4 679.8,669.5 676.5,670.8 673.0,672.3 669.5,674.0 665.9,675.9 662.0,678.1 657.9,680.5 653.6,683.1 649.1,685.9 644.4,688.9 639.6,692.0 634.8,695.2 629.9,698.4 625.1,701.5 620.4,704.5 615.9,707.3 611.6,709.9 607.5,712.3 603.6,714.5 600.0,716.4 596.5,718.1 593.0,719.6 589.7,720.9 586.2,722.0 582.6,723.0 578.9,723.8 574.9,724.6 570.7,725.2 566.4,725.7 562.3,726.2 558.5,726.5 555.4,726.8 553.2,726.9 551.9,727.0 551.4,727.0 551.3,727.0Z" fill="#85D54A" fill-opacity="0.5"/>
<path d="M551.3,727.0 551.4,727.0 551.9,727.0 553.2,727.0 555.4,726.8 558.5,726.7 562.3,726.4 566.4,726.1 570.7,725.8 574.9,725.3 578.9,724.8 582.6,724.2 586.2,723.5 589.7,722.8 593.0,721.9 596.5,720.8 600.0,719.6 603.6,718.3 607.5,716.8 611.6,715.1 615.9,713.3 620.4,711.3 625.1,709.2 629.9,707.0 634.8,704.8 639.6,702.6 644.4,700.4 649.1,698.3 653.6,696.4 657.9,694.5 662.0,692.9 665.9,691.3 669.5,690.0 673.0,688.8 676.5,687.8 679.8,686.9 683.3,686.1 686.9,685.4 690.6,684.8 694.6,684.3 698.8,683.9 703.1,683.5 707.2,683.2 711.0,682.9 714.1,682.8 716.3,682.7 717.6,682.6 718.1,682.6 718.2,682.6 718.2,683.6 718.1,683.6 717.6,683.6 716.3,683.7 714.1,683.8 711.0,683.9 707.2,684.2 703.1,684.5 698.8,684.9 694.6,685.3 690.6,685.8 686.9,686.4 683.3,687.1 679.8,687.9 676.5,688.8 673.0,689.8 669.5,691.0 665.9,692.3 662.0,693.9 657.9,695.5 653.6,697.4 649.1,699.3 644.4,701.4 639.6,703.6 634.8,705.8 629.9,708.0 625.1,710.2 620.4,712.3 615.9,714.3 611.6,716.1 607.5,717.8 603.6,719.3 600.0,720.6 596.5,721.8 593.0,722.9 589.7,723.8 586.2,724.5 582.6,725.2 578.9,725.8 574.9,726.3 570.7,726.8 566.4,727.1 562.3,727.4 558.5,727.7 555.4,727.9 553.2,728.0 551.9,728.0 551.4,728.0 551.3,728.0Z" fill="#85D54A" fill-opacity="0.5"/>
<path d="M551.3,728.04C624.7,728.04 644.8,716.50 718.2,716.50L718.2,717.56C644.8,717.56 624.7,729.10 551.3,729.10Z" fill="#85D54A" fill-opacity="0.5"/>
<path d="M551.3,729.10C624.7,729.10 644.8,732.43 718.2,732.43L718.2,733.61C644.8,733.61 624.7,730.28 551.3,730.28Z" fill="#85D54A" fill-opacity="0.5"/>
<path d="M551.3,730.28C624.7,730.28 644.8,739.55 718.2,739.55L718.2,740.71C644.8,740.71 624.7,731.44 551.3,731.44Z" fill="#85D54A" fill-opacity="0.5"/>
<path d="M551.3,731.44C624.7,731.44 644.8,741.00 718.2,741.00L718.2,744.56C644.8,744.56 624.7,735.00 551.3,735.00Z" fill="#85D54A" fill-opacity="0.5"/>
<path d="M551.3,735.0 551.4,735.0 551.9,734.8 553.2,734.4 555.4,733.5 558.5,732.1 562.3,730.2 566.4,727.7 570.7,724.6 574.9,721.0 578.9,716.8 582.6,712.0 586.2,706.5 589.7,700.1 593.0,692.8 596.5,684.3 600.0,674.5 603.6,663.5 607.5,651.1 611.6,637.4 615.9,622.5 620.4,606.4 625.1,589.3 629.9,571.6 634.8,553.6 639.6,535.5 644.4,517.8 649.1,500.8 653.6,484.7 657.9,469.7 662.0,456.0 665.9,443.7 669.5,432.6 673.0,422.9 676.5,414.4 679.8,407.0 683.3,400.7 686.9,395.2 690.6,390.4 694.6,386.2 698.8,382.6 703.1,379.5 707.2,377.0 711.0,375.0 714.1,373.6 716.3,372.8 717.6,372.3 718.1,372.2 718.2,372.1 718.2,373.7 718.1,373.7 717.6,373.9 716.3,374.3 714.1,375.2 711.0,376.6 707.2,378.5 703.1,381.0 698.8,384.1 694.6,387.7 690.6,391.9 686.9,396.7 683.3,402.2 679.8,408.6 676.5,415.9 673.0,424.4 669.5,434.2 665.9,445.2 662.0,457.5 657.9,471.2 653.6,486.2 649.1,502.3 644.4,519.3 639.6,537.0 634.8,555.1 629.9,573.2 625.1,590.9 620.4,607.9 615.9,624.0 611.6,639.0 607.5,652.7 603.6,665.0 600.0,676.1 596.5,685.8 593.0,694.3 589.7,701.7 586.2,708.0 582.6,713.5 578.9,718.3 574.9,722.5 570.7,726.1 566.4,729.2 562.3,731.7 558.5,733.7 555.4,735.0 553.2,735.9 551.9,736.3 551.4,736.5 551.3,736.5Z" fill="#C2DF23" fill-opacity="0.5"/>
<path d="M551.3,736.5 551.4,736.5 551.9,736.4 553.2,736.1 555.4,735.5 558.5,734.5 562.3,733.0 566.4,731.2 570.7,729.0 574.9,726.4 578.9,723.4 582.6,719.9 586.2,716.0 589.7,711.4 593.0,706.1 596.5,699.9 600.0,692.9 603.6,684.9 607.5,676.0 611.6,666.2 615.9,655.4 620.4,643.7 625.1,631.4 629.9,618.7 634.8,605.6 639.6,592.6 644.4,579.8 649.1,567.5 653.6,555.9 657.9,545.1 662.0,535.3 665.9,526.3 669.5,518.4 673.0,511.3 676.5,505.2 679.8,499.9 683.3,495.3 686.9,491.4 690.6,487.9 694.6,484.9 698.8,482.3 703.1,480.1 707.2,478.2 711.0,476.8 714.1,475.8 716.3,475.2 717.6,474.9 718.1,474.8 718.2,474.8 718.2,476.3 718.1,476.3 717.6,476.5 716.3,476.8 714.1,477.4 711.0,478.4 707.2,479.8 703.1,481.6 698.8,483.8 694.6,486.4 690.6,489.5 686.9,492.9 683.3,496.9 679.8,501.5 676.5,506.8 673.0,512.9 669.5,520.0 665.9,527.9 662.0,536.8 657.9,546.7 653.6,557.5 649.1,569.1 644.4,581.4 639.6,594.2 634.8,607.2 629.9,620.2 625.1,633.0 620.4,645.3 615.9,656.9 611.6,667.7 607.5,677.6 603.6,686.5 600.0,694.5 596.5,701.5 593.0,707.6 589.7,712.9 586.2,717.5 582.6,721.5 578.9,725.0 574.9,728.0 570.7,730.6 566.4,732.8 562.3,734.6 558.5,736.0 555.4,737.0 553.2,737.6 551.9,738.0 551.4,738.1 551.3,738.1Z" fill="#C2DF23" fill-opacity="0.5"/>
<path d="M551.3,738.1 551.4,738.1 551.9,738.0 553.2,737.8 555.4,737.4 558.5,736.7 562.3,735.7 566.4,734.5 570.7,733.0 574.9,731.2 578.9,729.1 582.6,726.7 586.2,724.0 589.7,720.9 593.0,717.2 596.5,713.0 600.0,708.2 603.6,702.8 607.5,696.7 611.6,689.9 615.9,682.5 620.4,674.6 625.1,666.1 629.9,657.4 634.8,648.5 639.6,639.6 644.4,630.8 649.1,622.4 653.6,614.4 657.9,607.0 662.0,600.3 665.9,594.2 669.5,588.7 673.0,583.9 676.5,579.7 679.8,576.1 683.3,572.9 686.9,570.2 690.6,567.8 694.6,565.8 698.8,564.0 703.1,562.5 707.2,561.2 711.0,560.3 714.1,559.6 716.3,559.2 717.6,558.9 718.1,558.9 718.2,558.8 718.2,560.0 718.1,560.0 717.6,560.1 716.3,560.3 714.1,560.7 711.0,561.4 707.2,562.4 703.1,563.6 698.8,565.1 694.6,566.9 690.6,569.0 686.9,571.4 683.3,574.1 679.8,577.2 676.5,580.9 673.0,585.1 669.5,589.9 665.9,595.3 662.0,601.4 657.9,608.2 653.6,615.6 649.1,623.5 644.4,632.0 639.6,640.7 634.8,649.6 629.9,658.5 625.1,667.3 620.4,675.7 615.9,683.7 611.6,691.1 607.5,697.8 603.6,703.9 600.0,709.4 596.5,714.2 593.0,718.4 589.7,722.0 586.2,725.2 582.6,727.9 578.9,730.3 574.9,732.3 570.7,734.1 566.4,735.6 562.3,736.9 558.5,737.8 555.4,738.5 553.2,738.9 551.9,739.2 551.4,739.2 551.3,739.3Z" fill="#C2DF23" fill-opacity="0.5"/>
<path d="M551.3,739.3 551.4,739.2 551.9,739.2 553.2,739.1 555.4,738.8 558.5,738.3 562.3,737.7 566.4,736.9 570.7,735.9 574.9,734.7 578.9,733.4 582.6,731.8 586.2,730.0 589.7,728.0 593.0,725.6 596.5,722.8 600.0,719.7 603.6,716.1 607.5,712.1 611.6,707.7 615.9,702.8 620.4,697.6 625.1,692.1 629.9,686.4 634.8,680.5 639.6,674.7 644.4,669.0 649.1,663.5 653.6,658.3 657.9,653.4 662.0,649.0 665.9,645.0 669.5,641.4 673.0,638.3 676.5,635.5 679.8,633.1 683.3,631.1 686.9,629.3 690.6,627.7 694.6,626.4 698.8,625.2 703.1,624.2 707.2,623.4 711.0,622.8 714.1,622.3 716.3,622.0 717.6,621.9 718.1,621.9 718.2,621.8 718.2,623.0 718.1,623.0 717.6,623.1 716.3,623.2 714.1,623.5 711.0,623.9 707.2,624.6 703.1,625.4 698.8,626.4 694.6,627.5 690.6,628.9 686.9,630.4 683.3,632.2 679.8,634.3 676.5,636.7 673.0,639.4 669.5,642.6 665.9,646.1 662.0,650.1 657.9,654.6 653.6,659.4 649.1,664.6 644.4,670.1 639.6,675.9 634.8,681.7 629.9,687.5 625.1,693.3 620.4,698.8 615.9,704.0 611.6,708.8 607.5,713.3 603.6,717.3 600.0,720.8 596.5,724.0 593.0,726.7 589.7,729.1 586.2,731.2 582.6,733.0 578.9,734.5 574.9,735.9 570.7,737.0 566.4,738.0 562.3,738.8 558.5,739.5 555.4,739.9 553.2,740.2 551.9,740.4 551.4,740.4 551.3,740.4Z" fill="#C2DF23" fill-opacity="0.5"/>
<path d="M551.3,740.4 551.4,740.4 551.9,740.4 553.2,740.3 555.4,740.1 558.5,739.8 562.3,739.4 566.4,738.9 570.7,738.2 574.9,737.4 578.9,736.5 582.6,735.5 586.2,734.4 589.7,733.0 593.0,731.4 596.5,729.6 600.0,727.6 603.6,725.2 607.5,722.6 611.6,719.7 615.9,716.5 620.4,713.1 625.1,709.5 629.9,705.7 634.8,701.9 639.6,698.1 644.4,694.3 649.1,690.7 653.6,687.3 657.9,684.1 662.0,681.2 665.9,678.6 669.5,676.2 673.0,674.1 676.5,672.3 679.8,670.8 683.3,669.4 686.9,668.3 690.6,667.2 694.6,666.3 698.8,665.6 703.1,664.9 707.2,664.4 711.0,664.0 714.1,663.7 716.3,663.5 717.6,663.4 718.1,663.4 718.2,663.4 718.2,664.0 718.1,664.0 717.6,664.0 716.3,664.1 714.1,664.3 711.0,664.6 707.2,665.0 703.1,665.6 698.8,666.2 694.6,667.0 690.6,667.9 686.9,668.9 683.3,670.1 679.8,671.4 676.5,673.0 673.0,674.8 669.5,676.8 665.9,679.2 662.0,681.8 657.9,684.7 653.6,687.9 649.1,691.3 644.4,694.9 639.6,698.7 634.8,702.5 629.9,706.4 625.1,710.1 620.4,713.7 615.9,717.2 611.6,720.3 607.5,723.2 603.6,725.9 600.0,728.2 596.5,730.3 593.0,732.1 589.7,733.6 586.2,735.0 582.6,736.2 578.9,737.2 574.9,738.1 570.7,738.8 566.4,739.5 562.3,740.0 558.5,740.4 555.4,740.7 553.2,740.9 551.9,741.0 551.4,741.0 551.3,741.0Z" fill="#C2DF23" fill-opacity="0.5"/>
<path d="M551.3,741.0 551.4,741.0 551.9,741.0 553.2,740.9 555.4,740.8 558.5,740.6 562.3,740.3 566.4,739.9 570.7,739.4 574.9,738.8 578.9,738.2 582.6,737.4 586.2,736.5 589.7,735.5 593.0,734.4 596.5,733.0 600.0,731.5 603.6,729.7 607.5,727.8 611.6,725.6 615.9,723.2 620.4,720.7 625.1,718.0 629.9,715.2 634.8,712.3 639.6,709.5 644.4,706.7 649.1,704.0 653.6,701.4 657.9,699.0 662.0,696.9 665.9,694.9 669.5,693.2 673.0,691.6 676.5,690.3 679.8,689.1 683.3,688.1 686.9,687.2 690.6,686.5 694.6,685.8 698.8,685.2 703.1,684.8 707.2,684.4 711.0,684.0 714.1,683.8 716.3,683.7 717.6,683.6 718.1,683.6 718.2,683.6 718.2,684.0 718.1,684.0 717.6,684.0 716.3,684.1 714.1,684.2 711.0,684.5 707.2,684.8 703.1,685.2 698.8,685.6 694.6,686.2 690.6,686.9 686.9,687.6 683.3,688.5 679.8,689.5 676.5,690.7 673.0,692.0 669.5,693.6 665.9,695.3 662.0,697.3 657.9,699.4 653.6,701.8 649.1,704.4 644.4,707.1 639.6,709.9 634.8,712.7 629.9,715.6 625.1,718.4 620.4,721.1 615.9,723.6 611.6,726.0 607.5,728.2 603.6,730.1 600.0,731.9 596.5,733.4 593.0,734.8 589.7,735.9 586.2,736.9 582.6,737.8 578.9,738.6 574.9,739.2 570.7,739.8 566.4,740.3 562.3,740.7 558.5,741.0 555.4,741.2 553.2,741.4 551.9,741.4 551.4,741.5 551.3,741.5Z" fill="#C2DF23" fill-opacity="0.5"/>
<path d="M551.3,741.45C624.7,741.45 644.8,717.56 718.2,717.56L718.2,718.00C644.8,718.00 624.7,741.89 551.3,741.89Z" fill="#C2DF23" fill-opacity="0.5"/>
<path d="M551.3,741.89C624.7,741.89 644.8,733.61 718.2,733.61L718.2,734.00C644.8,734.00 624.7,742.28 551.3,742.28Z" fill="#C2DF23" fill-opacity="0.5"/>
<path d="M551.3,742.28C624.7,742.28 644.8,740.71 718.2,740.71L718.2,741.00C644.8,741.00 624.7,742.56 551.3,742.56Z" fill="#C2DF23" fill-opacity="0.5"/>
<path d="M551.3,742.56C624.7,742.56 644.8,744.56 718.2,744.56L718.2,745.00C644.8,745.00 624.7,743.00 551.3,743.00Z" fill="#C2DF23" fill-opacity="0.5"/>
<path d="M551.3,743.0 551.4,743.0 551.9,742.8 553.2,742.4 555.4,741.5 558.5,740.1 562.3,738.1 566.4,735.5 570.7,732.4 574.9,728.7 578.9,724.5 582.6,719.6 586.2,714.0 589.7,707.5 593.0,700.0 596.5,691.4 600.0,681.4 603.6,670.2 607.5,657.6 611.6,643.7 615.9,628.5 620.4,612.1 625.1,594.7 629.9,576.7 634.8,558.3 639.6,540.0 644.4,521.9 649.1,504.6 653.6,488.2 657.9,473.0 662.0,459.0 665.9,446.5 669.5,435.2 673.0,425.3 676.5,416.7 679.8,409.2 683.3,402.7 686.9,397.1 690.6,392.2 694.6,388.0 698.8,384.3 703.1,381.2 707.2,378.6 711.0,376.6 714.1,375.2 716.3,374.3 717.6,373.9 718.1,373.7 718.2,373.7 718.2,375.0 718.1,375.0 717.6,375.2 716.3,375.6 714.1,376.5 711.0,377.9 707.2,379.9 703.1,382.5 698.8,385.6 694.6,389.3 690.6,393.5 686.9,398.4 683.3,404.0 679.8,410.5 676.5,418.0 673.0,426.6 669.5,436.6 665.9,447.8 662.0,460.4 657.9,474.3 653.6,489.5 649.1,505.9 644.4,523.3 639.6,541.3 634.8,559.7 629.9,578.0 625.1,596.1 620.4,613.4 615.9,629.8 611.6,645.0 607.5,659.0 603.6,671.5 600.0,682.8 596.5,692.7 593.0,701.3 589.7,708.8 586.2,715.3 582.6,720.9 578.9,725.8 574.9,730.0 570.7,733.7 566.4,736.8 562.3,739.4 558.5,741.4 555.4,742.8 553.2,743.7 551.9,744.1 551.4,744.3 551.3,744.3Z" fill="#FDE725" fill-opacity="0.5"/>
<path d="M551.3,744.3 551.4,744.3 551.9,744.2 553.2,743.9 555.4,743.2 558.5,742.2 562.3,740.8 566.4,738.9 570.7,736.6 574.9,734.0 578.9,730.9 582.6,727.3 586.2,723.3 589.7,718.6 593.0,713.1 596.5,706.9 600.0,699.7 603.6,691.5 607.5,682.4 611.6,672.3 615.9,661.2 620.4,649.3 625.1,636.7 629.9,623.7 634.8,610.3 639.6,597.0 644.4,583.9 649.1,571.3 653.6,559.4 657.9,548.4 662.0,538.3 665.9,529.1 669.5,521.0 673.0,513.8 676.5,507.5 679.8,502.1 683.3,497.4 686.9,493.3 690.6,489.8 694.6,486.7 698.8,484.0 703.1,481.8 707.2,479.9 711.0,478.5 714.1,477.4 716.3,476.8 717.6,476.5 718.1,476.3 718.2,476.3 718.2,477.0 718.1,477.0 717.6,477.1 716.3,477.5 714.1,478.1 711.0,479.1 707.2,480.6 703.1,482.4 698.8,484.7 694.6,487.4 690.6,490.5 686.9,494.0 683.3,498.1 679.8,502.8 676.5,508.2 673.0,514.5 669.5,521.7 665.9,529.8 662.0,538.9 657.9,549.1 653.6,560.1 649.1,572.0 644.4,584.6 639.6,597.7 634.8,611.0 629.9,624.3 625.1,637.4 620.4,650.0 615.9,661.9 611.6,672.9 607.5,683.1 603.6,692.2 600.0,700.3 596.5,707.5 593.0,713.8 589.7,719.2 586.2,723.9 582.6,728.0 578.9,731.5 574.9,734.6 570.7,737.3 566.4,739.6 562.3,741.4 558.5,742.9 555.4,743.9 553.2,744.5 551.9,744.9 551.4,745.0 551.3,745.0Z" fill="#FDE725" fill-opacity="0.5"/>
<path d="M551.3,745.00C624.7,745.00 644.8,745.00 718.2,745.00L718.2,775.00C644.8,775.00 624.7,775.00 551.3,775.00Z" fill="#FDE725" fill-opacity="0.5"/>
<rect x="217.3" y="79" width="83.69999999999999" height="93.00" fill="#440154" fill-opacity="0.9" stroke="#000" stroke-width="1.3"/>
<rect x="217.3" y="172" width="83.69999999999999" height="7.70" fill="#482173" fill-opacity="0.9" stroke="#000" stroke-width="1.3"/>
<rect x="217.3" y="179.7" width="83.69999999999999" height="28.60" fill="#433E85" fill-opacity="0.9" stroke="#000" stroke-width="1.3"/>
<rect x="217.3" y="208.3" width="83.69999999999999" height="52.70" fill="#38598C" fill-opacity="0.9" stroke="#000" stroke-width="1.3"/>
<rect x="217.3" y="261" width="83.69999999999999" height="63.00" fill="#2D708E" fill-opacity="0.9" stroke="#000" stroke-width="1.3"/>
<rect x="217.3" y="324" width="83.69999999999999" height="73.00" fill="#25858E" fill-opacity="0.9" stroke="#000" stroke-width="1.3"/>
<rect x="217.3" y="397" width="83.69999999999999" height="124.50" fill="#1E9B8A" fill-opacity="0.9" stroke="#000" stroke-width="1.3"/>
<rect x="217.3" y="521.5" width="83.69999999999999" height="74.50" fill="#2BB07F" fill-opacity="0.9" stroke="#000" stroke-width="1.3"/>
<rect x="217.3" y="596" width="83.69999999999999" height="37.00" fill="#51C56A" fill-opacity="0.9" stroke="#000" stroke-width="1.3"/>
<rect x="217.3" y="633" width="83.69999999999999" height="32.00" fill="#85D54A" fill-opacity="0.9" stroke="#000" stroke-width="1.3"/>
<rect x="217.3" y="665" width="83.69999999999999" height="15.00" fill="#C2DF23" fill-opacity="0.9" stroke="#000" stroke-width="1.3"/>
<rect x="217.3" y="680" width="83.69999999999999" height="95.00" fill="#FDE725" fill-opacity="0.9" stroke="#000" stroke-width="1.3"/>
<text transform="translate(259.15,131.15) scale(1,1.04)" text-anchor="middle" font-size="20.8" font-weight="bold" fill="#FFFFFF">13.3%</text>
<text transform="translate(259.15,240.30) scale(1,1.04)" text-anchor="middle" font-size="20.8" font-weight="bold" fill="#FFFFFF">7.6%</text>
<text transform="translate(259.15,298.15) scale(1,1.04)" text-anchor="middle" font-size="20.8" font-weight="bold" fill="#FFFFFF">9.0%</text>
<text transform="translate(259.15,366.15) scale(1,1.04)" text-anchor="middle" font-size="20.8" font-weight="bold" fill="#FFFFFF">10.6%</text>
<text transform="translate(259.15,464.90) scale(1,1.04)" text-anchor="middle" font-size="20.8" font-weight="bold" fill="#FFFFFF">17.9%</text>
<text transform="translate(259.15,564.40) scale(1,1.04)" text-anchor="middle" font-size="20.8" font-weight="bold" fill="#FFFFFF">10.7%</text>
<text transform="translate(259.15,620.15) scale(1,1.04)" text-anchor="middle" font-size="20.8" font-weight="bold" fill="#FFFFFF">5.4%</text>
<text transform="translate(259.15,733.15) scale(1,1.04)" text-anchor="middle" font-size="20.8" font-weight="bold" fill="#1a1a1a">13.6%</text>
<rect x="467.8" y="79" width="83.49999999999994" height="173.00" fill="#440154" fill-opacity="0.9" stroke="#000" stroke-width="1.3"/>
<rect x="467.8" y="252" width="83.49999999999994" height="18.00" fill="#482173" fill-opacity="0.9" stroke="#000" stroke-width="1.3"/>
<rect x="467.8" y="270" width="83.49999999999994" height="59.00" fill="#433E85" fill-opacity="0.9" stroke="#000" stroke-width="1.3"/>
<rect x="467.8" y="329" width="83.49999999999994" height="83.00" fill="#38598C" fill-opacity="0.9" stroke="#000" stroke-width="1.3"/>
<rect x="467.8" y="412" width="83.49999999999994" height="79.00" fill="#2D708E" fill-opacity="0.9" stroke="#000" stroke-width="1.3"/>
<rect x="467.8" y="491" width="83.49999999999994" height="61.00" fill="#25858E" fill-opacity="0.9" stroke="#000" stroke-width="1.3"/>
<rect x="467.8" y="552" width="83.49999999999994" height="82.00" fill="#1E9B8A" fill-opacity="0.9" stroke="#000" stroke-width="1.3"/>
<rect x="467.8" y="634" width="83.49999999999994" height="47.00" fill="#2BB07F" fill-opacity="0.9" stroke="#000" stroke-width="1.3"/>
<rect x="467.8" y="681" width="83.49999999999994" height="32.00" fill="#51C56A" fill-opacity="0.9" stroke="#000" stroke-width="1.3"/>
<rect x="467.8" y="713" width="83.49999999999994" height="22.00" fill="#85D54A" fill-opacity="0.9" stroke="#000" stroke-width="1.3"/>
<rect x="467.8" y="735" width="83.49999999999994" height="8.00" fill="#C2DF23" fill-opacity="0.9" stroke="#000" stroke-width="1.3"/>
<rect x="467.8" y="743" width="83.49999999999994" height="32.00" fill="#FDE725" fill-opacity="0.9" stroke="#000" stroke-width="1.3"/>
<text transform="translate(509.55,171.15) scale(1,1.04)" text-anchor="middle" font-size="20.8" font-weight="bold" fill="#FFFFFF">24.9%</text>
<text transform="translate(509.55,305.15) scale(1,1.04)" text-anchor="middle" font-size="20.8" font-weight="bold" fill="#FFFFFF">8.5%</text>
<text transform="translate(509.55,376.15) scale(1,1.04)" text-anchor="middle" font-size="20.8" font-weight="bold" fill="#FFFFFF">12.1%</text>
<text transform="translate(509.55,457.15) scale(1,1.04)" text-anchor="middle" font-size="20.8" font-weight="bold" fill="#FFFFFF">11.4%</text>
<text transform="translate(509.55,527.15) scale(1,1.04)" text-anchor="middle" font-size="20.8" font-weight="bold" fill="#FFFFFF">8.9%</text>
<text transform="translate(509.55,598.65) scale(1,1.04)" text-anchor="middle" font-size="20.8" font-weight="bold" fill="#FFFFFF">11.5%</text>
<text transform="translate(509.55,663.15) scale(1,1.04)" text-anchor="middle" font-size="20.8" font-weight="bold" fill="#FFFFFF">6.7%</text>
<text transform="translate(509.55,764.65) scale(1,1.04)" text-anchor="middle" font-size="20.8" font-weight="bold" fill="#1a1a1a">4.6%</text>
<rect x="718.2" y="79" width="84.0" height="296.00" fill="#440154" fill-opacity="0.9" stroke="#000" stroke-width="1.3"/>
<rect x="718.2" y="375" width="84.0" height="102.00" fill="#482173" fill-opacity="0.9" stroke="#000" stroke-width="1.3"/>
<rect x="718.2" y="477" width="84.0" height="83.00" fill="#433E85" fill-opacity="0.9" stroke="#000" stroke-width="1.3"/>
<rect x="718.2" y="560" width="84.0" height="63.00" fill="#38598C" fill-opacity="0.9" stroke="#000" stroke-width="1.3"/>
<rect x="718.2" y="623" width="84.0" height="41.00" fill="#2D708E" fill-opacity="0.9" stroke="#000" stroke-width="1.3"/>
<rect x="718.2" y="664" width="84.0" height="20.00" fill="#25858E" fill-opacity="0.9" stroke="#000" stroke-width="1.3"/>
<rect x="718.2" y="684" width="84.0" height="34.00" fill="#1E9B8A" fill-opacity="0.9" stroke="#000" stroke-width="1.3"/>
<rect x="718.2" y="718" width="84.0" height="16.00" fill="#2BB07F" fill-opacity="0.9" stroke="#000" stroke-width="1.3"/>
<rect x="718.2" y="734" width="84.0" height="7.00" fill="#51C56A" fill-opacity="0.9" stroke="#000" stroke-width="1.3"/>
<rect x="718.2" y="741" width="84.0" height="4.00" fill="#85D54A" fill-opacity="0.9" stroke="#000" stroke-width="1.3"/>
<rect x="718.2" y="745" width="84.0" height="30.00" fill="#FDE725" fill-opacity="0.9" stroke="#000" stroke-width="1.3"/>
<text transform="translate(760.20,232.65) scale(1,1.04)" text-anchor="middle" font-size="20.8" font-weight="bold" fill="#FFFFFF">42.5%</text>
<text transform="translate(760.20,431.65) scale(1,1.04)" text-anchor="middle" font-size="20.8" font-weight="bold" fill="#FFFFFF">14.7%</text>
<text transform="translate(760.20,524.15) scale(1,1.04)" text-anchor="middle" font-size="20.8" font-weight="bold" fill="#FFFFFF">11.9%</text>
<text transform="translate(760.20,597.15) scale(1,1.04)" text-anchor="middle" font-size="20.8" font-weight="bold" fill="#FFFFFF">9.1%</text>
<text transform="translate(760.20,649.15) scale(1,1.04)" text-anchor="middle" font-size="20.8" font-weight="bold" fill="#FFFFFF">5.8%</text>
<text transform="translate(760.20,765.65) scale(1,1.04)" text-anchor="middle" font-size="20.8" font-weight="bold" fill="#1a1a1a">4.3%</text>
<line x1="217.8" y1="432" x2="301.0" y2="432" stroke="#F5201C" stroke-width="1.9" stroke-dasharray="15 5" stroke-dashoffset="5.5"/>
<line x1="468.3" y1="324.85" x2="551.3" y2="324.85" stroke="#F5201C" stroke-width="1.9" stroke-dasharray="15 5" stroke-dashoffset="5.5"/>
<line x1="718.7" y1="203.25" x2="802.2" y2="203.25" stroke="#F5201C" stroke-width="1.9" stroke-dasharray="15 5" stroke-dashoffset="7.5"/>
<path d="M108.6,44.8 L108.6,810.1 L910.3,810.1" fill="none" stroke="#111" stroke-width="1.7" stroke-linecap="round" stroke-linejoin="round"/>
<line x1="104.1" y1="775.0" x2="108.6" y2="775.0" stroke="#333" stroke-width="1.2"/>
<text transform="translate(101.40,782.65) scale(1,1.04)" text-anchor="end" font-size="20.8" font-weight="bold" fill="#4D4D4D">0</text>
<line x1="104.1" y1="626.2" x2="108.6" y2="626.2" stroke="#333" stroke-width="1.2"/>
<text transform="translate(101.40,633.85) scale(1,1.04)" text-anchor="end" font-size="20.8" font-weight="bold" fill="#4D4D4D">10000</text>
<line x1="104.1" y1="477.4" x2="108.6" y2="477.4" stroke="#333" stroke-width="1.2"/>
<text transform="translate(101.40,485.05) scale(1,1.04)" text-anchor="end" font-size="20.8" font-weight="bold" fill="#4D4D4D">20000</text>
<line x1="104.1" y1="328.6" x2="108.6" y2="328.6" stroke="#333" stroke-width="1.2"/>
<text transform="translate(101.40,336.25) scale(1,1.04)" text-anchor="end" font-size="20.8" font-weight="bold" fill="#4D4D4D">30000</text>
<line x1="104.1" y1="179.8" x2="108.6" y2="179.8" stroke="#333" stroke-width="1.2"/>
<text transform="translate(101.40,187.45) scale(1,1.04)" text-anchor="end" font-size="20.8" font-weight="bold" fill="#4D4D4D">40000</text>
<line x1="259.15" y1="810" x2="259.15" y2="815" stroke="#333" stroke-width="1.2"/>
<text transform="translate(259.15,834.20) scale(1,1.04)" text-anchor="middle" font-size="20.6" font-weight="bold" fill="#4D4D4D">Protected areas (PAs)</text>
<line x1="509.54999999999995" y1="810" x2="509.54999999999995" y2="815" stroke="#333" stroke-width="1.2"/>
<text transform="translate(509.55,834.20) scale(1,1.04)" text-anchor="middle" font-size="20.6" font-weight="bold" fill="#4D4D4D">Top 17%</text>
<line x1="760.2" y1="810" x2="760.2" y2="815" stroke="#333" stroke-width="1.2"/>
<text transform="translate(760.20,834.20) scale(1,1.04)" text-anchor="middle" font-size="20.6" font-weight="bold" fill="#4D4D4D">Top 50%</text>
<text transform="translate(43.60,22.20) scale(1,1.04)" font-size="26.1" font-weight="bold" fill="#000">(a) Protected area coverage</text>
<text transform="translate(20.10,423.90) rotate(-90) scale(1,1.04)" text-anchor="middle" font-size="23.4" font-weight="bold" fill="#000">No. of Species</text>
<text transform="translate(881.10,136.80) scale(1,1.04)" font-size="26.2" font-weight="bold" fill="#000">Protection</text>
<text transform="translate(881.10,167.75) scale(1,1.04)" font-size="26.2" font-weight="bold" fill="#000">percentage (%)</text>
<rect x="882.2" y="179.3" width="22.9" height="22.9" fill="#440154" fill-opacity="0.93" stroke="#111" stroke-width="1.4"/>
<text transform="translate(917.50,199.60) scale(1,1.04)" font-size="22.8" font-weight="bold" fill="#000">[100]</text>
<rect x="882.2" y="204.3" width="22.9" height="22.9" fill="#482173" fill-opacity="0.93" stroke="#111" stroke-width="1.4"/>
<text transform="translate(917.50,224.60) scale(1,1.04)" font-size="22.8" font-weight="bold" fill="#000">(90−100)</text>
<rect x="882.2" y="229.3" width="22.9" height="22.9" fill="#433E85" fill-opacity="0.93" stroke="#111" stroke-width="1.4"/>
<text transform="translate(917.50,249.60) scale(1,1.04)" font-size="22.8" font-weight="bold" fill="#000">(80−90]</text>
<rect x="882.2" y="254.3" width="22.9" height="22.9" fill="#38598C" fill-opacity="0.93" stroke="#111" stroke-width="1.4"/>
<text transform="translate(917.50,274.60) scale(1,1.04)" font-size="22.8" font-weight="bold" fill="#000">(70−80]</text>
<rect x="882.2" y="279.3" width="22.9" height="22.9" fill="#2D708E" fill-opacity="0.93" stroke="#111" stroke-width="1.4"/>
<text transform="translate(917.50,299.60) scale(1,1.04)" font-size="22.8" font-weight="bold" fill="#000">(60−70]</text>
<rect x="882.2" y="304.3" width="22.9" height="22.9" fill="#25858E" fill-opacity="0.93" stroke="#111" stroke-width="1.4"/>
<text transform="translate(917.50,324.60) scale(1,1.04)" font-size="22.8" font-weight="bold" fill="#000">(50−60]</text>
<rect x="882.2" y="329.3" width="22.9" height="22.9" fill="#1E9B8A" fill-opacity="0.93" stroke="#111" stroke-width="1.4"/>
<text transform="translate(917.50,349.60) scale(1,1.04)" font-size="22.8" font-weight="bold" fill="#000">(40−50]</text>
<rect x="882.2" y="354.3" width="22.9" height="22.9" fill="#2BB07F" fill-opacity="0.93" stroke="#111" stroke-width="1.4"/>
<text transform="translate(917.50,374.60) scale(1,1.04)" font-size="22.8" font-weight="bold" fill="#000">(30−40]</text>
<rect x="882.2" y="379.3" width="22.9" height="22.9" fill="#51C56A" fill-opacity="0.93" stroke="#111" stroke-width="1.4"/>
<text transform="translate(917.50,399.60) scale(1,1.04)" font-size="22.8" font-weight="bold" fill="#000">(20−30]</text>
<rect x="882.2" y="404.3" width="22.9" height="22.9" fill="#85D54A" fill-opacity="0.93" stroke="#111" stroke-width="1.4"/>
<text transform="translate(917.50,424.60) scale(1,1.04)" font-size="22.8" font-weight="bold" fill="#000">(10−20]</text>
<rect x="882.2" y="429.3" width="22.9" height="22.9" fill="#C2DF23" fill-opacity="0.93" stroke="#111" stroke-width="1.4"/>
<text transform="translate(917.50,449.60) scale(1,1.04)" font-size="22.8" font-weight="bold" fill="#000">(0−10]</text>
<rect x="882.2" y="454.3" width="22.9" height="22.9" fill="#FDE725" fill-opacity="0.93" stroke="#111" stroke-width="1.4"/>
<text transform="translate(917.50,474.60) scale(1,1.04)" font-size="22.8" font-weight="bold" fill="#000">[0]</text>
<text transform="translate(881.10,556.40) scale(1,1.04)" font-size="26.2" font-weight="bold" fill="#000">HMI</text>
<rect x="882.2" y="571.4" width="22.9" height="22.9" fill="#0D0887" fill-opacity="0.9" stroke="#111" stroke-width="1.4"/>
<text transform="translate(917.50,591.70) scale(1,1.04)" font-size="22.8" font-weight="bold" fill="#000">High</text>
<rect x="882.2" y="596.4" width="22.9" height="22.9" fill="#CC4678" fill-opacity="0.9" stroke="#111" stroke-width="1.4"/>
<text transform="translate(917.50,616.70) scale(1,1.04)" font-size="22.8" font-weight="bold" fill="#000">Moderate</text>
<rect x="882.2" y="621.4" width="22.9" height="22.9" fill="#F0F921" fill-opacity="0.9" stroke="#111" stroke-width="1.4"/>
<text transform="translate(917.50,641.70) scale(1,1.04)" font-size="22.8" font-weight="bold" fill="#000">Low</text>
<path d="M1342.5,79.00C1415.9,79.00 1436.0,79.00 1509.4,79.00L1509.4,92.00C1436.0,92.00 1415.9,92.00 1342.5,92.00Z" fill="#0D0887" fill-opacity="0.5"/>
<path d="M1342.5,92.0 1342.6,92.0 1343.1,92.0 1344.4,92.1 1346.6,92.3 1349.7,92.7 1353.5,93.1 1357.6,93.7 1361.9,94.4 1366.1,95.2 1370.1,96.2 1373.8,97.3 1377.4,98.5 1380.9,100.0 1384.2,101.7 1387.7,103.6 1391.2,105.9 1394.8,108.4 1398.7,111.3 1402.8,114.4 1407.1,117.8 1411.6,121.5 1416.3,125.4 1421.1,129.5 1426.0,133.7 1430.8,137.8 1435.6,141.9 1440.3,145.8 1444.8,149.5 1449.1,152.9 1453.2,156.0 1457.1,158.9 1460.7,161.4 1464.2,163.7 1467.7,165.6 1471.0,167.3 1474.5,168.8 1478.1,170.0 1481.8,171.1 1485.8,172.1 1490.0,172.9 1494.3,173.6 1498.4,174.2 1502.2,174.6 1505.3,175.0 1507.5,175.2 1508.8,175.3 1509.3,175.3 1509.4,175.3 1509.4,179.8 1509.3,179.8 1508.8,179.8 1507.5,179.7 1505.3,179.5 1502.2,179.1 1498.4,178.7 1494.3,178.1 1490.0,177.4 1485.8,176.6 1481.8,175.6 1478.1,174.5 1474.5,173.3 1471.0,171.8 1467.7,170.1 1464.2,168.2 1460.7,165.9 1457.1,163.4 1453.2,160.5 1449.1,157.4 1444.8,154.0 1440.3,150.3 1435.6,146.4 1430.8,142.3 1426.0,138.2 1421.1,134.0 1416.3,129.9 1411.6,126.0 1407.1,122.3 1402.8,118.9 1398.7,115.8 1394.8,112.9 1391.2,110.4 1387.7,108.1 1384.2,106.2 1380.9,104.5 1377.4,103.0 1373.8,101.8 1370.1,100.7 1366.1,99.7 1361.9,98.9 1357.6,98.2 1353.5,97.6 1349.7,97.2 1346.6,96.8 1344.4,96.6 1343.1,96.5 1342.6,96.5 1342.5,96.5Z" fill="#0D0887" fill-opacity="0.5"/>
<path d="M1342.5,96.5 1342.6,96.5 1343.1,96.8 1344.4,97.4 1346.6,98.7 1349.7,100.8 1353.5,103.7 1357.6,107.4 1361.9,112.0 1366.1,117.3 1370.1,123.5 1373.8,130.6 1377.4,138.8 1380.9,148.2 1384.2,159.1 1387.7,171.7 1391.2,186.2 1394.8,202.6 1398.7,220.9 1402.8,241.2 1407.1,263.4 1411.6,287.2 1416.3,312.5 1421.1,338.8 1426.0,365.6 1430.8,392.3 1435.6,418.6 1440.3,443.9 1444.8,467.7 1449.1,489.9 1453.2,510.2 1457.1,528.5 1460.7,544.9 1464.2,559.4 1467.7,572.0 1471.0,582.9 1474.5,592.3 1478.1,600.5 1481.8,607.6 1485.8,613.8 1490.0,619.1 1494.3,623.7 1498.4,627.4 1502.2,630.3 1505.3,632.4 1507.5,633.7 1508.8,634.3 1509.3,634.6 1509.4,634.6 1509.4,636.1 1509.3,636.1 1508.8,635.8 1507.5,635.2 1505.3,633.9 1502.2,631.8 1498.4,628.9 1494.3,625.2 1490.0,620.6 1485.8,615.3 1481.8,609.1 1478.1,602.0 1474.5,593.8 1471.0,584.4 1467.7,573.5 1464.2,560.9 1460.7,546.4 1457.1,530.0 1453.2,511.7 1449.1,491.4 1444.8,469.2 1440.3,445.4 1435.6,420.1 1430.8,393.8 1426.0,367.1 1421.1,340.3 1416.3,314.0 1411.6,288.7 1407.1,264.9 1402.8,242.7 1398.7,222.4 1394.8,204.1 1391.2,187.7 1387.7,173.2 1384.2,160.6 1380.9,149.7 1377.4,140.3 1373.8,132.1 1370.1,125.0 1366.1,118.8 1361.9,113.5 1357.6,108.9 1353.5,105.2 1349.7,102.3 1346.6,100.2 1344.4,98.9 1343.1,98.3 1342.6,98.0 1342.5,98.0Z" fill="#0D0887" fill-opacity="0.5"/>
<path d="M1342.5,98.20C1415.9,98.20 1436.0,92.00 1509.4,92.00L1509.4,138.00C1436.0,138.00 1415.9,144.20 1342.5,144.20Z" fill="#CC4678" fill-opacity="0.5"/>
<path d="M1342.5,144.20C1415.9,144.20 1436.0,179.80 1509.4,179.80L1509.4,447.80C1436.0,447.80 1415.9,412.20 1342.5,412.20Z" fill="#CC4678" fill-opacity="0.5"/>
<path d="M1342.5,412.2 1342.6,412.2 1343.1,412.3 1344.4,412.6 1346.6,413.1 1349.7,414.0 1353.5,415.2 1357.6,416.7 1361.9,418.6 1366.1,420.9 1370.1,423.4 1373.8,426.4 1377.4,429.8 1380.9,433.7 1384.2,438.3 1387.7,443.5 1391.2,449.5 1394.8,456.3 1398.7,464.0 1402.8,472.4 1407.1,481.6 1411.6,491.6 1416.3,502.1 1421.1,513.0 1426.0,524.1 1430.8,535.3 1435.6,546.2 1440.3,556.7 1444.8,566.7 1449.1,575.9 1453.2,584.3 1457.1,592.0 1460.7,598.8 1464.2,604.8 1467.7,610.0 1471.0,614.6 1474.5,618.5 1478.1,621.9 1481.8,624.9 1485.8,627.4 1490.0,629.7 1494.3,631.6 1498.4,633.1 1502.2,634.3 1505.3,635.2 1507.5,635.7 1508.8,636.0 1509.3,636.1 1509.4,636.1 1509.4,652.1 1509.3,652.1 1508.8,652.0 1507.5,651.7 1505.3,651.2 1502.2,650.3 1498.4,649.1 1494.3,647.6 1490.0,645.7 1485.8,643.4 1481.8,640.9 1478.1,637.9 1474.5,634.5 1471.0,630.6 1467.7,626.0 1464.2,620.8 1460.7,614.8 1457.1,608.0 1453.2,600.3 1449.1,591.9 1444.8,582.7 1440.3,572.7 1435.6,562.2 1430.8,551.3 1426.0,540.1 1421.1,529.0 1416.3,518.1 1411.6,507.6 1407.1,497.6 1402.8,488.4 1398.7,480.0 1394.8,472.3 1391.2,465.5 1387.7,459.5 1384.2,454.3 1380.9,449.7 1377.4,445.8 1373.8,442.4 1370.1,439.4 1366.1,436.9 1361.9,434.6 1357.6,432.7 1353.5,431.2 1349.7,430.0 1346.6,429.1 1344.4,428.6 1343.1,428.3 1342.6,428.2 1342.5,428.2Z" fill="#CC4678" fill-opacity="0.5"/>
<path d="M1342.5,426.6 1342.6,426.6 1343.1,426.5 1344.4,426.1 1346.6,425.4 1349.7,424.3 1353.5,422.8 1357.6,420.8 1361.9,418.3 1366.1,415.4 1370.1,412.1 1373.8,408.3 1377.4,403.9 1380.9,398.9 1384.2,393.0 1387.7,386.3 1391.2,378.5 1394.8,369.7 1398.7,359.9 1402.8,349.0 1407.1,337.1 1411.6,324.3 1416.3,310.7 1421.1,296.7 1426.0,282.3 1430.8,267.9 1435.6,253.9 1440.3,240.3 1444.8,227.5 1449.1,215.6 1453.2,204.7 1457.1,194.9 1460.7,186.1 1464.2,178.3 1467.7,171.6 1471.0,165.7 1474.5,160.7 1478.1,156.3 1481.8,152.5 1485.8,149.2 1490.0,146.3 1494.3,143.8 1498.4,141.8 1502.2,140.3 1505.3,139.2 1507.5,138.5 1508.8,138.1 1509.3,138.0 1509.4,138.0 1509.4,175.0 1509.3,175.0 1508.8,175.1 1507.5,175.5 1505.3,176.2 1502.2,177.3 1498.4,178.8 1494.3,180.8 1490.0,183.3 1485.8,186.2 1481.8,189.5 1478.1,193.3 1474.5,197.7 1471.0,202.7 1467.7,208.6 1464.2,215.3 1460.7,223.1 1457.1,231.9 1453.2,241.7 1449.1,252.6 1444.8,264.5 1440.3,277.3 1435.6,290.9 1430.8,304.9 1426.0,319.3 1421.1,333.7 1416.3,347.7 1411.6,361.3 1407.1,374.1 1402.8,386.0 1398.7,396.9 1394.8,406.7 1391.2,415.5 1387.7,423.3 1384.2,430.0 1380.9,435.9 1377.4,440.9 1373.8,445.3 1370.1,449.1 1366.1,452.4 1361.9,455.3 1357.6,457.8 1353.5,459.8 1349.7,461.3 1346.6,462.4 1344.4,463.1 1343.1,463.5 1342.6,463.6 1342.5,463.6Z" fill="#F0F921" fill-opacity="0.5"/>
<path d="M1342.5,463.60C1415.9,463.60 1436.0,447.80 1509.4,447.80L1509.4,635.80C1436.0,635.80 1415.9,651.60 1342.5,651.60Z" fill="#F0F921" fill-opacity="0.5"/>
<path d="M1342.5,651.60C1415.9,651.60 1436.0,652.10 1509.4,652.10L1509.4,775.10C1436.0,775.10 1415.9,774.60 1342.5,774.60Z" fill="#F0F921" fill-opacity="0.5"/>
<path d="M1593.0,79.00C1666.6,79.00 1686.6,79.00 1760.2,79.00L1760.2,167.00C1686.6,167.00 1666.6,167.00 1593.0,167.00Z" fill="#0D0887" fill-opacity="0.5"/>
<path d="M1593.0,167.00C1666.6,167.00 1686.6,173.30 1760.2,173.30L1760.2,180.30C1686.6,180.30 1666.6,174.00 1593.0,174.00Z" fill="#0D0887" fill-opacity="0.5"/>
<path d="M1593.0,174.0 1593.1,174.0 1593.6,174.2 1594.9,174.8 1597.1,175.9 1600.2,177.6 1604.0,180.1 1608.1,183.3 1612.4,187.2 1616.6,191.8 1620.6,197.1 1624.4,203.1 1628.0,210.1 1631.4,218.2 1634.8,227.5 1638.2,238.2 1641.8,250.6 1645.4,264.6 1649.3,280.2 1653.4,297.5 1657.7,316.5 1662.2,336.9 1666.9,358.5 1671.7,380.9 1676.6,403.8 1681.5,426.6 1686.3,449.0 1691.0,470.6 1695.5,491.0 1699.8,510.0 1703.9,527.3 1707.8,542.9 1711.4,556.9 1715.0,569.3 1718.4,580.0 1721.8,589.3 1725.2,597.4 1728.8,604.4 1732.6,610.4 1736.6,615.7 1740.8,620.3 1745.1,624.2 1749.2,627.4 1753.0,629.9 1756.1,631.6 1758.3,632.7 1759.6,633.3 1760.1,633.5 1760.2,633.5 1760.2,634.5 1760.1,634.5 1759.6,634.3 1758.3,633.7 1756.1,632.6 1753.0,630.9 1749.2,628.4 1745.1,625.2 1740.8,621.3 1736.6,616.7 1732.6,611.4 1728.8,605.4 1725.2,598.4 1721.8,590.3 1718.4,581.0 1715.0,570.3 1711.4,557.9 1707.8,543.9 1703.9,528.3 1699.8,511.0 1695.5,492.0 1691.0,471.6 1686.3,450.0 1681.5,427.6 1676.6,404.8 1671.7,381.9 1666.9,359.5 1662.2,337.9 1657.7,317.5 1653.4,298.5 1649.3,281.2 1645.4,265.6 1641.8,251.6 1638.2,239.2 1634.8,228.5 1631.4,219.2 1628.0,211.1 1624.4,204.1 1620.6,198.1 1616.6,192.8 1612.4,188.2 1608.1,184.3 1604.0,181.1 1600.2,178.6 1597.1,176.9 1594.9,175.8 1593.6,175.2 1593.1,175.0 1593.0,175.0Z" fill="#0D0887" fill-opacity="0.5"/>
<path d="M1593.0,175.30C1666.6,175.30 1686.6,167.00 1760.2,167.00L1760.2,173.00C1686.6,173.00 1666.6,181.30 1593.0,181.30Z" fill="#CC4678" fill-opacity="0.5"/>
<path d="M1593.0,181.30C1666.6,181.30 1686.6,180.30 1760.2,180.30L1760.2,628.30C1686.6,628.30 1666.6,629.30 1593.0,629.30Z" fill="#CC4678" fill-opacity="0.5"/>
<path d="M1593.0,629.30C1666.6,629.30 1686.6,634.50 1760.2,634.50L1760.2,640.50C1686.6,640.50 1666.6,635.30 1593.0,635.30Z" fill="#CC4678" fill-opacity="0.5"/>
<path d="M1593.0,634.6 1593.1,634.6 1593.6,634.4 1594.9,633.8 1597.1,632.7 1600.2,630.9 1604.0,628.5 1608.1,625.3 1612.4,621.3 1616.6,616.7 1620.6,611.4 1624.4,605.3 1628.0,598.3 1631.4,590.2 1634.8,580.9 1638.2,570.1 1641.8,557.7 1645.4,543.6 1649.3,527.9 1653.4,510.5 1657.7,491.5 1662.2,471.0 1666.9,449.3 1671.7,426.8 1676.6,403.8 1681.5,380.8 1686.3,358.3 1691.0,336.6 1695.5,316.1 1699.8,297.1 1703.9,279.7 1707.8,264.0 1711.4,249.9 1715.0,237.5 1718.4,226.7 1721.8,217.4 1725.2,209.3 1728.8,202.3 1732.6,196.2 1736.6,190.9 1740.8,186.3 1745.1,182.3 1749.2,179.1 1753.0,176.7 1756.1,174.9 1758.3,173.8 1759.6,173.2 1760.1,173.0 1760.2,173.0 1760.2,173.5 1760.1,173.5 1759.6,173.7 1758.3,174.3 1756.1,175.4 1753.0,177.2 1749.2,179.6 1745.1,182.8 1740.8,186.8 1736.6,191.4 1732.6,196.7 1728.8,202.8 1725.2,209.8 1721.8,217.9 1718.4,227.2 1715.0,238.0 1711.4,250.4 1707.8,264.5 1703.9,280.2 1699.8,297.6 1695.5,316.6 1691.0,337.1 1686.3,358.8 1681.5,381.3 1676.6,404.3 1671.7,427.3 1666.9,449.8 1662.2,471.5 1657.7,492.0 1653.4,511.0 1649.3,528.4 1645.4,544.1 1641.8,558.2 1638.2,570.6 1634.8,581.4 1631.4,590.7 1628.0,598.8 1624.4,605.8 1620.6,611.9 1616.6,617.2 1612.4,621.8 1608.1,625.8 1604.0,629.0 1600.2,631.4 1597.1,633.2 1594.9,634.3 1593.6,634.9 1593.1,635.1 1593.0,635.1Z" fill="#F0F921" fill-opacity="0.5"/>
<path d="M1593.0,635.10C1666.6,635.10 1686.6,628.30 1760.2,628.30L1760.2,633.30C1686.6,633.30 1666.6,640.10 1593.0,640.10Z" fill="#F0F921" fill-opacity="0.5"/>
<path d="M1593.0,640.10C1666.6,640.10 1686.6,640.50 1760.2,640.50L1760.2,775.00C1686.6,775.00 1666.6,774.60 1593.0,774.60Z" fill="#F0F921" fill-opacity="0.5"/>
<rect x="1259.0" y="79" width="83.5" height="19.20" fill="#0D0887" fill-opacity="0.8" stroke="#000" stroke-width="1.3"/>
<rect x="1259.0" y="98.2" width="83.5" height="328.40" fill="#CC4678" fill-opacity="0.8" stroke="#000" stroke-width="1.3"/>
<rect x="1259.0" y="426.6" width="83.5" height="348.40" fill="#F0F921" fill-opacity="0.8" stroke="#000" stroke-width="1.3"/>
<text transform="translate(1300.75,94.25) scale(1,1.04)" text-anchor="middle" font-size="20.8" font-weight="bold" fill="#FFFFFF">2.7%</text>
<text transform="translate(1300.75,268.05) scale(1,1.04)" text-anchor="middle" font-size="20.8" font-weight="bold" fill="#FFFFFF">47.2%</text>
<text transform="translate(1300.75,606.45) scale(1,1.04)" text-anchor="middle" font-size="20.8" font-weight="bold" fill="#1a1a1a">50.1%</text>
<rect x="1509.4" y="79" width="83.59999999999991" height="96.30" fill="#0D0887" fill-opacity="0.8" stroke="#000" stroke-width="1.3"/>
<rect x="1509.4" y="175.3" width="83.59999999999991" height="459.30" fill="#CC4678" fill-opacity="0.8" stroke="#000" stroke-width="1.3"/>
<rect x="1509.4" y="634.6" width="83.59999999999991" height="140.40" fill="#F0F921" fill-opacity="0.8" stroke="#000" stroke-width="1.3"/>
<text transform="translate(1551.20,132.80) scale(1,1.04)" text-anchor="middle" font-size="20.8" font-weight="bold" fill="#FFFFFF">13.8%</text>
<text transform="translate(1551.20,410.60) scale(1,1.04)" text-anchor="middle" font-size="20.8" font-weight="bold" fill="#FFFFFF">66.1%</text>
<text transform="translate(1551.20,710.45) scale(1,1.04)" text-anchor="middle" font-size="20.8" font-weight="bold" fill="#1a1a1a">20.1%</text>
<rect x="1760.2" y="79" width="83.59999999999991" height="94.30" fill="#0D0887" fill-opacity="0.8" stroke="#000" stroke-width="1.3"/>
<rect x="1760.2" y="173.3" width="83.59999999999991" height="460.20" fill="#CC4678" fill-opacity="0.8" stroke="#000" stroke-width="1.3"/>
<rect x="1760.2" y="633.5" width="83.59999999999991" height="141.50" fill="#F0F921" fill-opacity="0.8" stroke="#000" stroke-width="1.3"/>
<text transform="translate(1802.00,131.80) scale(1,1.04)" text-anchor="middle" font-size="20.8" font-weight="bold" fill="#FFFFFF">13.5%</text>
<text transform="translate(1802.00,409.05) scale(1,1.04)" text-anchor="middle" font-size="20.8" font-weight="bold" fill="#FFFFFF">66.2%</text>
<text transform="translate(1802.00,709.90) scale(1,1.04)" text-anchor="middle" font-size="20.8" font-weight="bold" fill="#1a1a1a">20.3%</text>
<path d="M1150.4,44.8 L1150.4,810.1 L1951.6,810.1" fill="none" stroke="#111" stroke-width="1.7" stroke-linecap="round" stroke-linejoin="round"/>
<line x1="1145.9" y1="775.0" x2="1150.4" y2="775.0" stroke="#333" stroke-width="1.2"/>
<text transform="translate(1143.20,782.65) scale(1,1.04)" text-anchor="end" font-size="20.8" font-weight="bold" fill="#4D4D4D">0</text>
<line x1="1145.9" y1="626.2" x2="1150.4" y2="626.2" stroke="#333" stroke-width="1.2"/>
<text transform="translate(1143.20,633.85) scale(1,1.04)" text-anchor="end" font-size="20.8" font-weight="bold" fill="#4D4D4D">10000</text>
<line x1="1145.9" y1="477.4" x2="1150.4" y2="477.4" stroke="#333" stroke-width="1.2"/>
<text transform="translate(1143.20,485.05) scale(1,1.04)" text-anchor="end" font-size="20.8" font-weight="bold" fill="#4D4D4D">20000</text>
<line x1="1145.9" y1="328.6" x2="1150.4" y2="328.6" stroke="#333" stroke-width="1.2"/>
<text transform="translate(1143.20,336.25) scale(1,1.04)" text-anchor="end" font-size="20.8" font-weight="bold" fill="#4D4D4D">30000</text>
<line x1="1145.9" y1="179.8" x2="1150.4" y2="179.8" stroke="#333" stroke-width="1.2"/>
<text transform="translate(1143.20,187.45) scale(1,1.04)" text-anchor="end" font-size="20.8" font-weight="bold" fill="#4D4D4D">40000</text>
<line x1="1300.75" y1="810" x2="1300.75" y2="815" stroke="#333" stroke-width="1.2"/>
<text transform="translate(1300.75,834.20) scale(1,1.04)" text-anchor="middle" font-size="20.6" font-weight="bold" fill="#4D4D4D">HMI (inside PAs)</text>
<line x1="1551.2" y1="810" x2="1551.2" y2="815" stroke="#333" stroke-width="1.2"/>
<text transform="translate(1551.20,834.20) scale(1,1.04)" text-anchor="middle" font-size="20.6" font-weight="bold" fill="#4D4D4D">HMI (inside top 17%)</text>
<line x1="1802.0" y1="810" x2="1802.0" y2="815" stroke="#333" stroke-width="1.2"/>
<text transform="translate(1802.00,834.20) scale(1,1.04)" text-anchor="middle" font-size="20.6" font-weight="bold" fill="#4D4D4D">HMI (inside top 50%)</text>
<text transform="translate(1085.30,22.20) scale(1,1.04)" font-size="26.1" font-weight="bold" fill="#000">(b) Human modification index (HMI)</text>
<line x1="1907.5" y1="79.3" x2="1907.5" y2="775" stroke="#222" stroke-width="1.6"/>
<line x1="1907.5" y1="79.3" x2="1912.0" y2="79.3" stroke="#333" stroke-width="1.2"/>
<text transform="translate(1913.80,86.95) scale(1,1.04)" font-size="20.8" font-weight="bold" fill="#4D4D4D">1</text>
<line x1="1907.5" y1="253.1" x2="1912.0" y2="253.1" stroke="#333" stroke-width="1.2"/>
<text transform="translate(1913.80,260.75) scale(1,1.04)" font-size="20.8" font-weight="bold" fill="#4D4D4D">0.75</text>
<line x1="1907.5" y1="426.9" x2="1912.0" y2="426.9" stroke="#333" stroke-width="1.2"/>
<text transform="translate(1913.80,434.55) scale(1,1.04)" font-size="20.8" font-weight="bold" fill="#4D4D4D">0.50</text>
<line x1="1907.5" y1="600.7" x2="1912.0" y2="600.7" stroke="#333" stroke-width="1.2"/>
<text transform="translate(1913.80,608.35) scale(1,1.04)" font-size="20.8" font-weight="bold" fill="#4D4D4D">0.25</text>
<line x1="1907.5" y1="774.5" x2="1912.0" y2="774.5" stroke="#333" stroke-width="1.2"/>
<text transform="translate(1913.80,782.15) scale(1,1.04)" font-size="20.8" font-weight="bold" fill="#4D4D4D">0</text>
<text transform="translate(1980.00,425.00) rotate(-90) scale(1,1.04)" text-anchor="middle" font-size="23.3" font-weight="bold" fill="#000">Mean HMI</text>
<line x1="1860" y1="615.4" x2="1907.5" y2="615.4" stroke="#FF0000" stroke-width="1.4" stroke-dasharray="17.1 6" stroke-dashoffset="8.3"/>
<line x1="1860" y1="616.5" x2="1907.5" y2="616.5" stroke="#FF0000" stroke-width="1.4" stroke-dasharray="17.1 6" stroke-dashoffset="8.3"/>
<line x1="1860" y1="700.4" x2="1907.5" y2="700.4" stroke="#FF0000" stroke-width="1.4" stroke-dasharray="17.1 6" stroke-dashoffset="8.3"/>
<text transform="translate(1918.50,626.40) scale(1,1.04)" font-size="20.2" font-weight="bold" fill="#000">Top 50%</text>
<text transform="translate(1918.50,648.60) scale(1,1.04)" font-size="20.2" font-weight="bold" fill="#000">Top 17%</text>
<text transform="translate(1918.50,703.80) scale(1,1.04)" font-size="20.2" font-weight="bold" fill="#000">PAs</text>
</svg>
</body></html>
